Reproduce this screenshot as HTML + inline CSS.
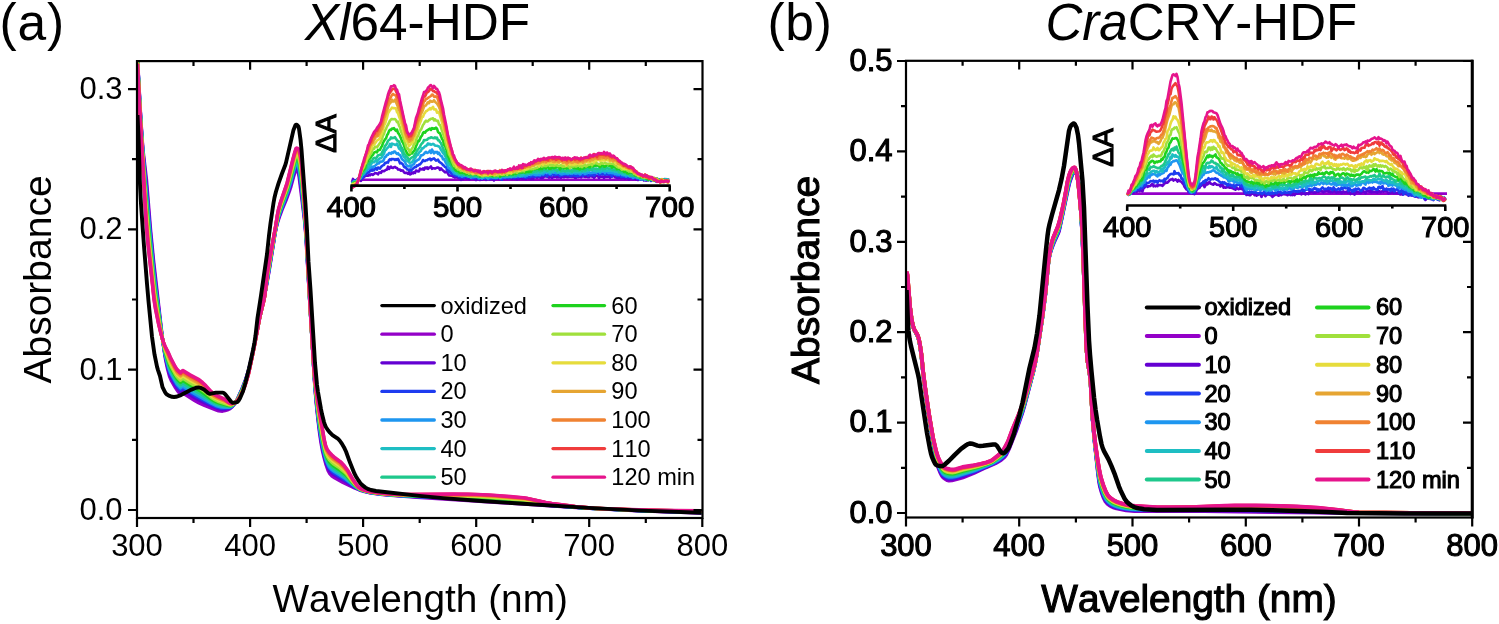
<!DOCTYPE html><html><head><meta charset="utf-8"><style>html,body{margin:0;padding:0;background:#fff;width:1499px;height:624px;overflow:hidden}svg{display:block;will-change:transform}text{font-family:"Liberation Sans", sans-serif;fill:#000;font-kerning:none}.bb{stroke:#000;stroke-width:1.1px}</style></head><body>
<svg width="1499" height="624" viewBox="0 0 1499 624">
<rect width="1499" height="624" fill="#fff"/>
<defs><clipPath id="ca"><rect x="137.0" y="61.1" width="565.5" height="456.9"/></clipPath>
<clipPath id="cb"><rect x="906.0" y="60.8" width="566.0" height="456.7"/></clipPath></defs>
<g clip-path="url(#ca)" fill="none" stroke-width="3.4" stroke-linejoin="round">
<path d="M137.5 58.0L140.5 113.4L142.0 137.2L143.0 150.0L146.5 180.0L150.5 229.1L153.5 259.8L162.5 339.0L165.5 359.4L167.5 368.9L169.5 376.4L171.5 381.0L175.5 387.9L178.0 391.5L180.5 394.5L182.5 393.1L183.0 393.0L195.0 400.8L199.0 403.0L204.5 405.5L216.5 410.1L218.5 410.8L220.5 411.1L222.5 411.2L225.0 410.7L227.5 409.9L230.0 408.8L232.0 407.0L234.0 404.6L235.5 402.5L237.0 399.9L242.0 388.7L245.5 379.7L248.5 370.3L251.5 358.2L259.5 318.4L264.0 298.0L266.5 285.7L269.5 268.6L275.0 234.0L276.5 226.5L278.0 221.1L280.0 215.3L282.0 209.9L286.0 200.4L289.5 190.9L291.0 186.4L293.5 177.1L295.5 170.6L296.0 169.2L296.5 168.7L297.0 169.1L297.5 170.2L298.5 173.5L299.0 176.1L304.5 220.4L305.5 230.8L314.5 381.5L316.0 401.0L318.0 420.3L319.5 432.6L321.0 443.0L322.5 451.1L324.0 457.4L326.0 464.8L328.0 470.4L329.5 473.3L332.0 476.0L335.0 478.1L343.0 482.5L354.5 487.9L359.5 490.0L364.5 491.5L370.5 492.8L376.5 493.7L384.5 494.7L417.0 497.3L580.0 507.8L638.0 510.8L701.5 513.0" stroke="#9400c8"/>
<path d="M137.5 58.8L140.0 106.3L141.5 131.2L143.0 152.3L146.5 186.2L150.0 228.5L153.5 264.5L155.5 282.3L161.5 331.6L163.5 346.0L165.0 355.1L167.0 364.5L169.0 372.1L170.0 375.0L171.0 377.2L175.0 384.4L177.5 388.2L180.5 391.6L182.5 390.2L183.0 390.1L194.0 397.2L198.5 399.7L205.0 403.0L215.0 407.5L218.0 408.7L220.5 409.3L223.0 409.5L225.5 409.2L229.0 408.4L230.5 407.7L232.5 406.1L234.5 403.8L236.0 401.7L237.5 399.1L242.5 388.1L245.5 380.3L248.5 370.8L251.5 358.5L259.5 318.4L265.0 293.3L269.5 267.4L275.0 233.4L277.0 223.6L278.5 218.2L280.0 213.7L282.0 208.3L286.0 198.5L288.5 191.6L291.0 183.8L293.5 174.5L295.5 167.8L296.0 166.5L296.5 166.0L297.0 166.4L297.5 167.3L298.5 170.3L299.5 175.9L301.5 191.4L305.0 222.9L306.5 244.0L309.0 289.3L314.5 380.6L316.0 399.4L318.0 418.0L319.5 430.0L321.0 440.0L322.5 448.3L324.5 457.0L326.0 462.4L328.0 467.8L329.5 470.6L332.0 473.3L335.0 475.4L347.0 482.4L353.0 486.2L357.0 488.5L359.5 489.7L364.0 491.2L369.5 492.5L375.0 493.4L383.0 494.4L394.0 495.3L409.5 496.4L464.5 499.4L504.5 502.0L526.0 503.5L561.5 506.4L590.5 508.4L642.5 510.8L701.5 512.7" stroke="#6400d2"/>
<path d="M137.5 59.3L141.0 124.1L142.5 147.3L143.5 159.8L147.0 196.1L150.5 237.5L153.5 267.7L155.0 281.0L160.0 320.7L162.5 339.0L164.5 351.5L166.0 358.9L168.5 368.5L170.0 373.1L172.5 378.1L176.5 384.9L178.5 387.5L180.5 389.6L182.5 388.2L183.0 388.0L195.5 395.9L209.0 403.2L216.5 406.9L219.0 407.7L221.0 408.2L223.5 408.3L226.5 408.1L229.0 407.8L230.5 407.3L232.5 405.8L234.5 403.7L236.5 401.0L238.0 398.3L242.5 388.5L246.0 379.2L248.5 371.1L251.5 358.7L253.5 349.2L259.5 318.4L263.5 300.8L265.0 293.4L275.0 233.0L276.0 227.5L277.5 220.9L278.5 217.3L280.5 211.3L286.0 197.3L288.0 191.6L291.0 182.1L293.5 172.6L295.5 165.9L296.0 164.7L296.5 164.1L297.0 164.5L297.5 165.4L298.5 168.1L299.5 173.3L301.5 188.3L305.0 221.4L306.5 242.8L309.0 288.8L314.0 372.6L315.5 393.0L317.5 412.2L319.0 424.4L321.0 438.0L322.5 446.3L324.5 455.3L326.0 460.8L328.0 466.0L329.5 468.7L332.0 471.4L334.5 473.3L346.5 480.7L355.0 486.9L359.0 489.3L363.0 490.7L368.5 492.2L374.0 493.1L382.0 494.1L392.5 495.1L406.0 496.0L465.5 498.9L501.0 501.1L525.5 502.8L548.5 505.2L562.5 506.3L593.5 508.5L644.0 510.8L701.5 512.5" stroke="#1e3cf0"/>
<path d="M137.5 59.8L140.0 108.0L143.0 155.3L150.5 240.6L153.5 270.5L155.5 287.6L162.0 335.8L164.0 348.1L166.0 357.8L169.0 368.6L171.0 373.5L176.5 383.2L178.0 385.2L180.5 387.9L182.5 386.4L183.0 386.2L194.0 393.2L211.5 403.2L217.0 405.9L221.0 407.1L223.5 407.3L228.0 407.3L229.5 407.2L231.0 406.6L233.0 405.1L235.0 403.1L236.5 401.1L238.5 397.5L243.0 387.7L246.0 379.6L249.0 369.6L252.0 356.6L260.0 316.0L264.5 296.2L274.0 238.5L276.0 227.1L277.5 220.2L278.5 216.4L280.5 210.3L286.0 196.1L288.0 190.4L291.0 180.5L293.5 171.0L295.5 164.3L296.0 163.0L296.5 162.5L297.0 162.8L297.5 163.6L298.5 166.2L299.5 170.9L301.5 185.6L305.0 220.0L306.5 241.8L310.0 305.8L314.0 372.2L315.5 392.1L317.5 410.8L319.0 422.8L321.0 436.2L322.5 444.6L324.5 453.8L326.0 459.3L328.0 464.4L329.5 467.1L332.0 469.7L334.5 471.6L340.0 475.0L345.5 478.7L355.0 486.4L359.0 489.1L363.0 490.6L368.0 491.9L373.5 493.0L381.0 493.9L391.0 494.9L402.5 495.7L465.5 498.4L500.0 500.5L525.5 502.3L548.5 504.9L562.5 506.2L594.5 508.5L645.5 510.7L701.5 512.3" stroke="#1e96f0"/>
<path d="M137.5 60.3L140.5 117.5L143.5 163.2L150.5 243.7L154.0 278.1L155.5 290.1L162.0 336.0L164.0 347.6L166.0 356.6L169.0 366.9L171.0 371.8L175.0 379.1L176.5 381.5L178.0 383.5L180.5 386.1L182.5 384.6L183.0 384.4L192.5 390.4L202.0 395.9L213.0 402.8L217.5 404.9L221.0 406.0L228.0 406.7L229.5 406.7L231.0 406.2L233.0 404.9L235.0 403.0L236.5 401.1L238.5 397.7L243.0 388.0L246.0 379.9L249.0 369.8L252.0 356.8L260.0 316.0L264.5 296.4L267.0 280.0L273.5 241.0L276.0 226.7L278.0 217.4L281.0 208.0L287.5 190.7L291.0 179.0L295.0 164.2L296.0 161.3L296.5 160.8L297.0 161.1L297.5 161.9L298.5 164.2L299.0 166.0L300.0 171.9L301.5 182.9L305.0 218.6L306.5 240.8L309.5 296.8L313.5 364.1L315.0 385.5L317.0 405.3L318.5 417.5L320.5 431.4L322.5 442.8L324.5 452.3L326.0 457.9L328.0 462.8L329.5 465.4L332.0 468.0L334.5 470.0L340.0 473.4L345.5 477.4L347.5 479.0L352.0 483.4L355.0 486.0L357.0 487.6L359.0 488.9L363.0 490.5L368.0 491.9L373.0 492.8L380.5 493.8L389.5 494.7L399.5 495.4L466.0 497.9L499.5 499.9L525.5 501.8L548.5 504.7L562.5 506.1L579.5 507.5L595.5 508.5L647.0 510.7L701.5 512.1" stroke="#1ebec3"/>
<path d="M137.5 60.7L140.5 118.2L143.5 164.7L146.0 195.8L150.0 241.1L153.5 275.9L155.0 288.6L161.5 333.1L163.5 344.6L165.5 353.8L169.0 365.4L171.0 370.3L175.0 377.7L176.5 380.1L178.0 382.1L180.5 384.6L182.5 383.0L183.0 382.9L192.0 388.5L201.5 394.0L213.0 401.7L217.5 403.9L221.5 405.1L229.0 406.2L230.5 406.1L231.5 405.7L233.5 404.3L236.0 401.8L237.5 399.7L239.0 397.0L243.0 388.3L246.5 378.7L249.0 370.1L252.0 356.9L260.0 316.0L264.5 296.5L267.5 276.3L273.5 240.6L276.0 226.4L278.0 216.7L280.5 208.6L287.5 189.6L291.0 177.6L295.0 162.8L296.0 159.9L296.5 159.4L297.0 159.6L297.5 160.3L298.5 162.5L299.0 164.1L300.5 173.0L301.5 180.5L305.0 217.4L306.5 239.9L309.5 296.5L313.5 363.9L315.0 384.9L316.5 399.9L318.5 416.2L320.0 426.7L322.5 441.3L324.5 451.0L326.0 456.6L328.0 461.4L329.5 463.9L332.0 466.6L334.5 468.6L340.5 472.4L345.0 475.8L347.5 478.0L352.0 482.8L355.0 485.6L357.0 487.3L359.0 488.8L362.5 490.2L367.5 491.7L372.5 492.6L379.5 493.6L389.0 494.6L399.0 495.2L465.5 497.5L499.0 499.4L525.5 501.4L548.5 504.5L562.5 505.9L580.0 507.5L596.0 508.5L648.0 510.7L701.5 512.0" stroke="#1ec88c"/>
<path d="M137.5 61.3L139.5 101.4L141.5 136.1L143.0 159.7L145.5 194.0L150.0 245.1L153.5 279.5L155.0 291.8L161.0 330.7L163.5 344.2L165.5 352.6L169.5 364.8L171.5 369.2L176.5 378.0L178.0 379.9L180.5 382.4L182.5 380.7L183.0 380.6L191.5 385.9L201.0 391.4L205.5 394.6L211.0 398.8L214.0 400.7L217.0 402.2L219.5 403.2L228.0 405.4L229.5 405.6L231.0 405.5L232.5 404.8L234.0 403.7L235.5 402.4L237.0 400.6L239.5 396.3L243.5 387.6L247.0 377.5L249.5 368.4L252.5 354.8L260.0 316.0L263.5 301.6L264.5 296.7L267.0 278.6L268.5 269.3L276.0 225.9L278.0 215.8L280.5 207.4L287.5 188.1L295.0 160.7L296.0 157.8L296.5 157.3L297.0 157.5L297.5 158.1L298.5 160.0L299.0 161.4L300.0 166.5L301.5 177.1L304.0 203.9L306.0 230.1L310.5 313.9L314.5 377.9L316.0 394.1L318.0 410.6L320.0 424.6L322.5 439.1L324.5 449.1L326.0 454.8L327.5 458.4L329.5 461.9L331.5 464.0L334.0 466.1L340.5 470.5L345.5 474.6L348.0 477.1L352.5 482.4L357.0 487.0L359.0 488.5L360.5 489.3L364.0 490.6L368.0 491.7L379.0 493.4L392.0 494.7L410.5 495.5L466.0 496.9L496.0 498.5L525.0 500.7L549.0 504.3L564.5 505.9L582.0 507.5L597.5 508.6L649.5 510.6L701.5 511.7" stroke="#1ed21e"/>
<path d="M137.5 61.9L141.0 128.9L143.0 161.5L146.0 205.0L149.5 244.0L154.5 291.5L156.0 301.7L160.5 328.8L163.0 341.6L165.0 349.7L169.5 362.6L171.5 367.0L175.0 373.5L176.5 375.9L178.0 377.8L180.5 380.2L182.5 378.5L183.0 378.4L190.0 382.7L201.0 389.1L205.5 392.5L211.5 397.5L214.0 399.2L219.0 401.6L229.0 404.9L230.5 405.1L231.5 404.9L233.0 404.2L234.5 403.2L237.0 400.7L239.5 396.6L243.5 388.1L246.5 379.6L249.0 370.8L252.5 354.9L260.0 316.0L263.5 301.8L264.5 296.9L267.0 277.8L268.5 268.3L273.5 239.4L278.0 214.8L280.5 206.2L287.0 188.2L289.0 181.2L295.0 158.5L296.0 155.7L296.5 155.2L297.0 155.4L297.5 155.9L298.5 157.6L299.0 158.8L300.0 163.4L301.5 173.6L304.5 207.6L306.0 228.7L310.5 313.6L313.0 355.4L314.5 377.3L316.0 392.9L318.0 408.9L320.0 422.4L323.0 439.6L324.5 447.2L326.0 453.0L327.5 456.5L329.5 459.8L331.5 461.9L334.0 464.1L340.0 468.1L345.0 472.4L347.5 475.1L352.5 481.6L356.0 485.6L358.0 487.5L359.5 488.6L362.0 489.7L365.5 490.9L369.0 491.7L380.5 493.5L392.0 494.6L409.0 495.2L466.0 496.2L480.5 496.8L496.0 497.8L524.0 500.0L530.5 500.8L545.5 503.5L552.0 504.4L577.5 507.1L598.0 508.6L650.5 510.5L701.5 511.5" stroke="#a0e03c"/>
<path d="M137.5 62.6L140.5 121.5L146.0 210.0L149.0 243.6L154.5 295.3L156.0 304.9L160.0 327.3L162.5 339.2L164.5 346.9L165.5 350.0L169.5 360.3L171.5 364.6L175.0 371.2L176.5 373.6L178.0 375.5L180.5 377.8L182.5 376.0L183.0 375.9L190.0 380.2L197.0 384.1L201.0 386.6L205.5 390.2L211.5 395.7L214.0 397.6L218.0 399.6L224.5 402.0L229.5 404.3L231.0 404.5L232.0 404.3L233.5 403.7L235.5 402.3L237.5 400.2L240.0 396.0L243.5 388.6L247.0 378.4L249.0 371.2L252.5 355.2L260.0 316.0L263.5 302.0L264.5 297.1L267.0 276.9L268.0 270.3L278.0 213.7L280.5 204.9L287.0 186.6L295.0 156.2L296.0 153.4L296.5 153.0L297.5 153.5L298.5 154.9L299.5 157.5L300.5 162.8L301.5 169.9L304.5 205.4L306.0 227.2L310.5 313.3L313.0 355.2L314.5 376.6L316.0 391.5L318.0 406.9L320.0 420.1L323.5 440.1L325.0 447.4L326.0 451.0L327.5 454.3L329.0 456.8L330.5 458.6L333.5 461.4L340.0 466.0L345.0 470.6L347.5 473.4L352.5 480.7L356.0 485.0L358.0 487.2L359.5 488.4L362.0 489.5L365.0 490.6L368.5 491.5L380.0 493.3L391.5 494.4L407.0 494.9L463.5 495.5L484.5 496.3L503.0 497.5L524.0 499.3L530.5 500.2L545.0 503.0L551.5 504.1L574.0 506.6L592.0 508.2L608.5 509.0L645.0 510.2L674.0 510.9L701.5 511.3" stroke="#e6dc3c"/>
<path d="M137.5 63.0L140.5 122.4L146.0 213.6L148.0 237.1L154.0 294.3L155.5 304.4L159.0 323.4L161.5 335.1L164.0 344.7L165.5 349.0L170.0 359.8L171.5 362.9L175.0 369.5L176.5 372.0L178.0 373.8L180.0 375.6L180.5 376.0L182.5 374.2L183.0 374.1L183.5 374.4L190.0 378.4L197.5 382.5L201.0 384.7L205.5 388.6L211.5 394.4L214.0 396.4L218.0 398.5L224.5 401.1L229.5 403.8L231.0 404.1L232.0 404.1L233.5 403.5L235.5 402.3L236.5 401.5L237.5 400.4L240.0 396.3L242.5 391.3L244.5 386.3L246.5 380.4L248.5 373.5L250.5 364.8L254.0 347.9L260.0 316.0L264.0 299.9L265.0 294.0L267.0 276.3L268.0 269.5L278.0 213.0L280.5 203.9L286.0 188.4L287.5 183.7L293.0 161.8L295.5 152.9L296.0 151.8L296.5 151.3L297.0 151.4L298.5 152.9L299.0 153.7L299.5 155.2L301.0 163.4L301.5 167.1L304.0 197.4L305.5 218.1L306.5 234.9L308.5 276.0L311.0 321.9L313.0 355.1L314.5 376.0L316.0 390.5L318.0 405.5L320.0 418.4L323.5 438.4L325.0 445.9L326.0 449.5L327.5 452.8L329.0 455.2L330.5 456.9L333.5 459.7L340.0 464.4L344.5 468.7L347.5 472.2L352.5 480.0L356.5 485.3L358.5 487.4L360.0 488.5L362.5 489.6L368.0 491.3L377.0 492.8L387.5 494.0L400.0 494.7L467.0 495.1L481.0 495.6L496.5 496.5L524.5 498.8L531.0 499.8L545.0 502.7L551.5 503.9L574.5 506.6L592.5 508.2L609.0 509.0L645.5 510.2L674.5 510.8L701.5 511.1" stroke="#e6a532"/>
<path d="M137.5 63.4L140.5 123.0L146.0 216.4L148.0 239.9L154.0 296.5L155.5 306.3L159.0 324.4L161.5 335.4L164.0 344.3L165.5 348.2L168.0 353.6L170.0 358.5L175.0 368.3L177.5 372.0L180.0 374.3L180.5 374.7L182.5 372.9L183.0 372.7L190.0 377.0L197.5 381.1L200.5 383.0L202.5 384.6L206.0 387.8L211.0 393.0L213.5 395.1L217.0 397.1L224.5 400.4L228.5 402.9L230.0 403.6L231.5 403.9L232.5 403.7L234.0 403.2L236.0 402.0L237.0 401.1L238.0 399.8L240.5 395.5L243.0 390.4L245.0 385.2L247.5 377.3L249.0 371.7L254.5 345.5L260.0 316.0L264.0 300.0L265.0 294.1L267.0 275.8L268.0 269.0L275.5 227.2L277.5 215.0L278.5 210.2L280.5 203.2L286.0 187.6L287.5 182.8L293.0 160.6L295.0 153.3L296.0 150.5L296.5 150.1L297.0 150.2L298.5 151.5L299.0 152.2L299.5 153.4L301.0 161.4L301.5 165.1L304.0 196.0L306.5 234.1L308.5 275.6L311.0 321.8L313.0 354.9L314.5 375.6L316.0 389.8L318.0 404.5L323.5 437.2L325.0 444.8L326.0 448.4L327.0 450.7L328.5 453.2L330.5 455.7L333.5 458.5L340.0 463.2L344.5 467.6L347.5 471.4L352.5 479.5L356.5 485.0L358.5 487.3L360.0 488.4L362.5 489.5L365.0 490.4L368.0 491.2L377.5 492.8L387.5 493.9L394.0 494.4L400.0 494.6L467.0 494.7L481.0 495.1L496.5 496.1L524.5 498.4L531.0 499.5L545.0 502.5L551.5 503.7L574.5 506.5L593.0 508.2L610.0 509.0L646.5 510.1L675.0 510.7L701.5 510.9" stroke="#f08232"/>
<path d="M137.5 63.8L140.0 114.6L146.0 219.1L148.0 242.8L154.0 298.6L155.5 308.2L158.5 323.1L161.0 333.8L163.5 342.5L165.0 346.4L168.0 352.5L170.5 358.3L175.0 367.0L177.0 370.2L179.5 372.6L180.5 373.4L182.5 371.5L183.0 371.4L190.0 375.7L198.0 379.9L200.5 381.6L202.5 383.3L206.0 386.6L211.0 392.0L213.5 394.2L217.0 396.2L224.5 399.7L228.5 402.5L230.0 403.3L231.5 403.6L233.0 403.4L234.5 402.8L236.5 401.6L238.5 399.2L240.5 395.8L242.5 391.8L244.5 386.9L246.5 380.9L248.5 374.0L254.0 348.2L260.0 316.0L264.0 300.2L265.0 294.1L267.0 275.3L268.0 268.4L275.5 226.9L277.5 214.5L278.5 209.6L280.5 202.5L287.0 183.6L293.0 159.4L295.0 152.0L296.0 149.3L296.5 148.8L297.0 148.9L298.5 150.0L299.0 150.6L299.5 151.7L301.0 159.3L301.5 163.0L304.0 194.7L306.5 233.4L308.5 275.3L311.0 321.6L313.0 354.8L314.5 375.3L316.0 389.0L318.0 403.4L324.0 438.8L325.0 443.7L326.0 447.3L327.0 449.5L328.5 452.0L330.0 453.9L332.0 455.9L335.0 458.5L340.0 462.0L344.5 466.6L347.5 470.5L352.5 479.0L356.5 484.8L358.5 487.1L360.0 488.2L362.5 489.4L365.0 490.3L368.0 491.2L377.5 492.7L387.5 493.9L393.5 494.3L399.5 494.5L467.0 494.3L481.0 494.7L496.5 495.6L524.0 498.0L530.5 499.1L545.0 502.3L551.5 503.5L575.0 506.5L593.5 508.2L611.0 509.0L647.0 510.1L675.0 510.6L701.5 510.8" stroke="#f03c3c"/>
<path d="M137.5 64.0L140.0 115.0L146.0 220.9L148.0 244.6L152.5 285.0L154.0 300.0L155.5 309.4L158.5 323.9L161.0 334.1L163.5 342.3L165.0 346.0L168.0 351.7L170.5 357.4L175.0 366.2L177.0 369.3L179.5 371.8L180.5 372.5L182.5 370.6L183.0 370.5L190.0 374.8L198.0 379.0L200.5 380.7L202.5 382.4L206.0 385.8L211.0 391.3L213.5 393.6L216.5 395.4L224.0 398.9L228.5 402.2L230.5 403.3L231.5 403.5L233.0 403.3L234.5 402.8L236.5 401.7L238.5 399.3L240.5 395.9L242.5 392.0L244.5 387.1L246.5 381.1L248.5 374.1L254.5 345.7L260.0 316.0L264.0 300.2L265.0 294.2L267.0 275.0L268.0 268.0L275.5 226.7L277.5 214.1L278.5 209.2L280.5 202.0L287.0 183.0L293.0 158.5L295.0 151.2L296.0 148.4L296.5 148.0L297.0 148.1L298.0 148.6L299.0 149.5L299.5 150.5L300.0 152.4L301.5 161.7L302.0 167.7L304.5 200.7L306.0 223.8L310.5 312.7L313.0 354.7L314.5 375.0L316.0 388.5L318.0 402.7L324.0 438.0L325.0 443.0L326.0 446.6L327.0 448.8L328.5 451.2L330.0 453.0L332.0 455.0L335.0 457.7L340.0 461.3L342.0 463.1L344.5 465.9L347.5 469.9L352.0 477.9L355.5 483.2L357.5 485.9L359.0 487.5L360.5 488.4L363.5 489.8L366.0 490.6L369.0 491.3L381.0 493.1L392.0 494.1L401.0 494.4L453.0 494.0L469.5 494.1L489.5 494.9L513.0 496.7L523.0 497.6L527.5 498.3L546.0 502.4L552.0 503.5L575.5 506.5L594.0 508.2L612.5 509.0L647.5 510.0L675.5 510.5L701.5 510.7" stroke="#e6148c"/>
</g>
<g clip-path="url(#ca)"><path d="M137.5 115.0L138.5 135.9L140.0 184.8L141.0 203.8L144.0 246.1L147.0 283.8L148.5 301.1L152.0 336.8L154.5 354.4L157.0 366.6L158.0 370.1L160.0 376.0L162.5 387.2L165.0 392.2L166.0 393.6L167.0 394.6L169.5 395.9L172.0 396.8L174.0 397.0L176.0 396.8L181.0 395.1L191.5 389.6L196.0 387.8L198.5 387.4L200.5 387.8L204.0 389.6L208.0 393.0L209.5 393.7L211.0 393.7L216.0 392.6L222.5 392.6L223.5 392.8L225.0 394.0L231.0 401.5L232.5 402.7L235.0 402.6L237.0 402.2L237.5 401.9L238.5 400.8L240.0 398.2L243.0 391.2L245.5 382.5L249.0 368.4L253.0 350.2L254.5 342.4L255.5 335.6L257.5 318.0L261.0 295.6L267.0 254.1L269.0 235.4L270.5 223.3L273.5 203.0L274.5 197.5L276.0 191.5L278.5 183.4L282.0 173.5L285.0 165.8L286.0 162.6L293.5 129.9L295.5 125.1L296.0 124.6L296.5 124.6L297.5 125.3L298.5 126.7L299.0 128.8L300.5 139.7L301.5 149.6L305.5 204.1L307.0 229.9L308.5 261.7L310.5 290.0L315.0 363.0L317.0 385.0L318.0 392.0L321.0 409.2L322.0 414.1L324.0 422.0L325.0 425.0L326.0 427.2L328.0 430.3L330.0 432.7L332.5 435.1L337.0 438.1L338.5 439.3L340.0 441.0L342.0 443.9L344.5 448.3L346.0 451.5L350.0 462.6L354.5 473.7L356.0 476.5L358.5 480.5L360.5 483.3L362.0 484.9L365.5 487.6L368.5 489.2L371.0 490.0L376.0 491.0L419.5 495.9L443.0 498.1L481.5 501.0L588.5 507.9L641.5 510.6L701.5 512.7" fill="none" stroke="#000" stroke-width="3.9" stroke-linejoin="round"/></g>
<rect x="137.0" y="61.1" width="565.5" height="456.9" fill="none" stroke="#000" stroke-width="2.2"/>
<path d="M137.0 518.0V527.0M250.1 518.0V527.0M250.1 61.1V69.7M363.1 518.0V527.0M363.1 61.1V69.7M476.2 518.0V527.0M476.2 61.1V69.7M589.2 518.0V527.0M589.2 61.1V69.7M702.3 518.0V527.0M193.5 518.0V523.0M193.5 61.1V66.1M306.6 518.0V523.0M306.6 61.1V66.1M419.7 518.0V523.0M419.7 61.1V66.1M532.7 518.0V523.0M532.7 61.1V66.1M645.8 518.0V523.0M645.8 61.1V66.1M137.0 510.0H128.0M702.5 510.0H693.5M137.0 369.7H128.0M702.5 369.7H693.5M137.0 229.4H128.0M702.5 229.4H693.5M137.0 89.1H128.0M702.5 89.1H693.5M137.0 439.9H132.0M702.5 439.9H697.5M137.0 299.5H132.0M702.5 299.5H697.5M137.0 159.2H132.0M702.5 159.2H697.5" stroke="#000" stroke-width="2.2" fill="none"/>
<text x="137.0" y="556.0" font-size="31.0" text-anchor="middle" >300</text>
<text x="250.1" y="556.0" font-size="31.0" text-anchor="middle" >400</text>
<text x="363.1" y="556.0" font-size="31.0" text-anchor="middle" >500</text>
<text x="476.2" y="556.0" font-size="31.0" text-anchor="middle" >600</text>
<text x="589.2" y="556.0" font-size="31.0" text-anchor="middle" >700</text>
<text x="702.3" y="556.0" font-size="31.0" text-anchor="middle" >800</text>
<text x="122.5" y="519.8" font-size="31.0" text-anchor="end" >0.0</text>
<text x="122.5" y="379.5" font-size="31.0" text-anchor="end" >0.1</text>
<text x="122.5" y="239.2" font-size="31.0" text-anchor="end" >0.2</text>
<text x="122.5" y="98.9" font-size="31.0" text-anchor="end" >0.3</text>
<text x="-0.5" y="39.9" font-size="51.5" text-anchor="start" letter-spacing="0.8">(a)</text>
<text x="417.5" y="40" font-size="51.3" text-anchor="middle"><tspan font-style="italic">Xl</tspan>64-HDF</text>
<text transform="translate(50.6 279.5) rotate(-90)" font-size="39" text-anchor="middle">Absorbance</text>
<text x="420.2" y="612.3" font-size="38.8" text-anchor="middle" >Wavelength (nm)</text>
<g fill="none" stroke-width="2.6" stroke-linejoin="round">
<path d="M362.0 179.8 L669.5 179.8" stroke="#9400c8"/>
<path d="M352.0 182.1L353.0 178.9L354.0 180.9L355.0 180.2L357.0 180.2L358.0 178.5L359.0 179.4L360.0 178.4L361.0 180.8L362.0 178.2L363.0 177.4L364.0 177.0L366.0 175.5L368.0 175.8L369.0 174.9L370.0 175.4L371.0 174.3L372.0 174.2L373.0 174.9L375.0 173.1L376.0 173.2L377.0 173.5L378.0 174.4L379.0 172.6L380.0 172.4L381.0 172.9L382.0 171.1L383.0 171.0L384.0 171.2L386.0 169.7L387.0 169.6L388.0 166.7L389.0 169.0L390.0 167.3L391.0 166.6L392.0 167.8L393.0 168.0L394.0 167.2L395.0 166.9L396.0 167.8L397.0 168.0L398.0 169.4L400.0 169.6L401.0 170.8L402.0 170.4L403.0 170.6L404.0 172.3L405.0 172.9L407.0 172.8L408.0 173.8L409.0 172.2L410.0 174.4L411.0 174.1L412.0 172.4L413.0 173.3L414.0 172.2L415.0 172.9L416.0 170.5L417.0 170.8L418.0 171.5L419.0 171.4L420.0 168.6L421.0 169.3L422.0 169.5L423.0 168.5L424.0 169.7L425.0 167.5L426.0 168.4L427.0 167.3L428.0 168.9L429.0 167.8L430.0 167.4L431.0 166.4L432.0 168.8L433.0 168.2L434.0 168.2L435.0 168.6L437.0 167.6L438.0 167.6L439.0 167.9L440.0 169.9L441.0 168.4L442.0 169.6L445.0 172.3L446.0 171.7L447.0 172.1L449.0 175.4L452.0 175.8L453.0 176.6L454.0 176.6L455.0 177.6L456.0 176.7L457.0 177.5L458.0 177.6L459.0 178.2L460.0 178.0L461.0 179.8L462.0 179.1L463.0 179.2L464.0 176.7L465.0 178.0L466.0 177.8L467.0 178.7L468.0 176.8L469.0 179.2L470.0 179.2L471.0 177.5L473.0 178.0L475.0 179.1L476.0 180.1L477.0 178.5L478.0 179.2L479.0 178.8L480.0 180.0L481.0 179.3L482.0 179.7L483.0 178.0L484.0 178.7L485.0 178.2L486.0 179.9L488.0 178.6L489.0 178.5L490.0 179.1L491.0 178.3L492.0 178.1L493.0 179.1L494.0 180.5L495.0 178.6L497.0 177.9L498.0 177.8L499.0 179.1L500.0 179.3L501.0 178.7L502.0 178.9L504.0 178.7L505.0 177.5L506.0 178.2L507.0 178.6L508.0 178.0L509.0 178.2L510.0 177.9L511.0 178.2L512.0 179.0L513.0 178.1L514.0 178.2L515.0 178.9L516.0 178.7L517.0 179.4L518.0 176.7L519.0 178.8L520.0 177.8L522.0 178.6L523.0 178.7L524.0 178.7L525.0 178.0L526.0 179.0L527.0 177.6L528.0 177.7L529.0 178.3L530.0 177.3L531.0 179.1L532.0 178.2L533.0 179.0L534.0 177.4L535.0 177.1L537.0 177.8L538.0 176.8L539.0 177.4L540.0 177.1L541.0 178.2L542.0 176.6L543.0 177.8L544.0 176.6L545.0 176.3L546.0 176.5L547.0 176.1L548.0 177.0L549.0 177.6L550.0 177.0L551.0 177.3L552.0 178.0L553.0 177.1L554.0 177.0L555.0 176.7L556.0 175.8L557.0 177.5L558.0 175.7L559.0 177.4L560.0 177.0L561.0 177.8L562.0 177.0L563.0 176.4L564.0 177.3L565.0 176.6L567.0 177.1L569.0 176.9L570.0 176.5L571.0 176.9L572.0 175.5L573.0 176.9L574.0 176.2L575.0 177.8L576.0 177.9L577.0 175.7L578.0 177.1L579.0 177.0L580.0 176.3L581.0 177.4L583.0 175.7L584.0 176.7L586.0 176.9L587.0 175.9L588.0 177.2L589.0 177.2L590.0 175.9L592.0 176.6L593.0 176.2L594.0 177.8L596.0 175.8L597.0 175.9L598.0 176.4L599.0 178.1L600.0 176.3L602.0 176.8L603.0 176.4L604.0 178.0L605.0 176.1L606.0 177.0L607.0 176.6L608.0 176.9L609.0 175.7L610.0 177.8L611.0 176.5L612.0 176.7L613.0 176.1L614.0 176.2L615.0 177.2L616.0 177.6L617.0 177.5L618.0 178.0L620.0 177.4L621.0 178.1L622.0 178.0L623.0 177.6L625.0 178.7L626.0 178.0L627.0 177.7L629.0 179.4L630.0 178.0L632.0 178.2L633.0 179.2L634.0 177.2L635.0 178.8L636.0 179.5L637.0 178.2L638.0 180.0L640.0 178.7L641.0 179.3L642.0 178.1L643.0 178.8L644.0 180.5L645.0 178.7L646.0 180.6L647.0 179.3L648.0 180.1L649.0 179.5L650.0 177.9L651.0 179.1L652.0 179.7L653.0 178.8L654.0 178.8L655.0 180.0L657.0 178.7L658.0 179.5L659.0 180.6L660.0 179.7L661.0 180.7L662.0 181.1L664.0 179.2L665.0 179.1L667.0 180.6L668.0 180.1L669.0 180.3" stroke="#6400d2"/>
<path d="M352.0 181.0L353.0 181.5L354.0 180.9L355.0 180.9L357.0 179.6L358.0 179.7L359.0 178.5L360.0 177.8L361.0 178.1L362.0 176.8L363.0 178.2L365.0 174.2L366.0 174.4L368.0 172.0L369.0 172.6L371.0 168.6L372.0 170.8L373.0 169.3L374.0 170.4L375.0 168.6L376.0 168.0L377.0 169.6L378.0 167.5L380.0 168.6L381.0 167.0L382.0 166.0L383.0 165.3L384.0 164.8L385.0 162.8L386.0 163.0L387.0 162.2L388.0 162.6L389.0 160.1L390.0 159.1L391.0 160.0L392.0 158.9L393.0 159.2L394.0 159.1L395.0 160.0L396.0 159.1L397.0 159.9L398.0 158.8L399.0 160.7L400.0 163.4L401.0 162.8L403.0 164.4L404.0 166.7L405.0 167.5L406.0 167.4L407.0 169.3L408.0 169.6L409.0 170.3L410.0 169.4L411.0 170.7L412.0 169.4L414.0 167.7L415.0 167.1L416.0 167.0L417.0 165.4L418.0 165.6L419.0 164.6L420.0 164.4L422.0 162.0L423.0 160.0L424.0 161.0L425.0 161.0L426.0 160.2L427.0 160.3L428.0 159.3L429.0 159.2L430.0 158.6L431.0 160.2L432.0 159.3L434.0 158.4L436.0 160.7L438.0 159.6L439.0 161.6L442.0 163.8L443.0 165.1L444.0 165.7L445.0 167.0L446.0 167.1L447.0 169.9L448.0 170.1L449.0 172.3L450.0 170.3L451.0 173.1L452.0 174.1L453.0 173.8L454.0 175.0L455.0 175.6L456.0 175.9L457.0 175.5L458.0 176.0L459.0 177.1L460.0 177.5L461.0 176.8L463.0 177.1L464.0 177.8L465.0 176.4L466.0 176.3L467.0 177.4L468.0 176.6L471.0 177.9L472.0 176.8L473.0 178.2L474.0 176.5L475.0 178.2L476.0 176.7L477.0 177.0L478.0 178.4L479.0 177.7L480.0 177.5L481.0 177.8L482.0 178.4L483.0 178.1L484.0 178.1L485.0 178.8L486.0 177.6L488.0 177.7L489.0 178.9L490.0 178.8L491.0 179.0L492.0 178.0L493.0 177.9L494.0 178.6L495.0 177.8L496.0 178.6L497.0 178.5L498.0 177.5L499.0 177.9L500.0 177.9L501.0 179.1L502.0 179.7L503.0 177.8L504.0 177.8L505.0 176.2L506.0 177.9L507.0 177.7L508.0 176.9L509.0 178.1L510.0 176.4L511.0 177.3L512.0 177.5L513.0 176.5L514.0 177.9L515.0 178.0L516.0 176.2L517.0 176.2L518.0 177.5L519.0 177.0L520.0 176.1L521.0 176.7L523.0 176.6L524.0 177.2L525.0 176.9L526.0 177.7L528.0 176.8L530.0 177.1L531.0 176.5L532.0 175.1L533.0 176.5L534.0 175.8L535.0 176.8L536.0 175.6L537.0 175.9L538.0 175.7L539.0 176.5L540.0 175.4L541.0 175.1L542.0 175.4L543.0 174.8L544.0 175.2L545.0 175.1L546.0 175.2L547.0 176.3L548.0 174.7L549.0 174.9L550.0 174.8L551.0 175.4L552.0 174.0L555.0 175.3L558.0 174.3L559.0 175.3L560.0 176.0L561.0 175.3L562.0 175.2L563.0 175.4L564.0 174.4L565.0 174.9L566.0 174.9L567.0 175.3L568.0 175.1L569.0 174.3L570.0 175.9L571.0 176.3L572.0 175.0L573.0 175.4L574.0 175.3L575.0 175.7L576.0 174.1L577.0 176.3L578.0 174.8L579.0 176.0L580.0 175.2L581.0 174.8L582.0 175.0L583.0 175.6L584.0 174.3L585.0 174.6L586.0 174.5L587.0 173.5L588.0 175.6L590.0 174.5L591.0 175.3L592.0 173.8L593.0 174.3L594.0 175.6L595.0 175.0L596.0 172.7L597.0 171.9L599.0 174.9L600.0 173.8L601.0 173.9L602.0 174.5L603.0 173.5L604.0 174.2L605.0 174.7L607.0 174.4L608.0 173.8L609.0 174.6L610.0 174.0L612.0 176.3L613.0 174.0L614.0 173.1L615.0 174.4L617.0 175.8L618.0 176.0L619.0 175.0L620.0 175.2L621.0 176.8L622.0 175.3L623.0 177.0L624.0 176.2L625.0 177.0L628.0 177.3L629.0 176.2L630.0 177.2L631.0 177.1L632.0 177.5L633.0 178.2L634.0 177.4L635.0 177.2L636.0 177.4L637.0 177.9L638.0 178.8L639.0 177.9L640.0 179.4L642.0 178.6L643.0 177.9L644.0 179.0L645.0 179.4L646.0 177.8L647.0 179.9L648.0 180.3L649.0 179.4L650.0 179.6L651.0 181.0L652.0 180.3L653.0 178.9L654.0 179.6L656.0 179.8L657.0 178.3L658.0 180.6L659.0 179.7L660.0 180.3L661.0 180.1L662.0 180.8L663.0 179.9L664.0 179.6L665.0 180.5L666.0 181.1L667.0 179.9L668.0 181.0L669.0 180.2" stroke="#1e3cf0"/>
<path d="M352.0 181.4L353.0 182.9L354.0 181.1L355.0 182.3L356.0 181.1L357.0 181.3L358.0 179.3L359.0 178.6L360.0 178.8L361.0 177.0L363.0 174.5L364.0 174.1L365.0 171.7L366.0 170.9L367.0 170.6L368.0 169.2L369.0 168.5L370.0 168.1L372.0 166.6L373.0 167.3L374.0 166.3L375.0 166.0L376.0 164.8L377.0 164.1L378.0 163.1L379.0 163.4L380.0 161.6L381.0 161.8L382.0 161.6L383.0 161.0L384.0 159.3L385.0 156.8L386.0 156.7L387.0 154.7L388.0 154.7L389.0 153.1L390.0 153.1L391.0 153.8L392.0 152.3L393.0 153.0L394.0 151.5L395.0 151.5L396.0 153.1L397.0 153.9L398.0 153.2L399.0 154.7L400.0 154.9L402.0 159.2L403.0 159.9L405.0 161.9L406.0 164.3L407.0 165.5L408.0 166.1L409.0 166.4L410.0 165.3L411.0 167.0L412.0 165.2L413.0 164.5L414.0 164.3L415.0 161.2L416.0 161.5L417.0 160.3L418.0 159.7L419.0 159.4L420.0 157.8L421.0 155.2L422.0 155.3L423.0 154.8L424.0 154.0L425.0 152.5L426.0 151.8L427.0 153.0L428.0 152.6L429.0 152.0L430.0 150.6L431.0 153.0L432.0 149.6L434.0 153.3L435.0 151.9L436.0 152.5L437.0 151.8L438.0 154.0L439.0 152.7L440.0 154.8L441.0 156.0L442.0 156.5L443.0 159.2L444.0 159.0L446.0 163.2L447.0 164.6L448.0 166.7L449.0 168.3L450.0 168.6L451.0 169.6L453.0 171.7L454.0 173.4L455.0 173.2L456.0 174.2L458.0 174.2L459.0 175.7L460.0 174.7L462.0 176.8L463.0 175.1L464.0 176.0L465.0 175.0L466.0 175.9L467.0 175.3L468.0 176.2L469.0 176.2L470.0 176.7L471.0 177.8L472.0 177.0L473.0 177.3L474.0 176.9L475.0 176.9L476.0 176.6L477.0 176.0L479.0 178.5L481.0 177.1L482.0 178.6L483.0 177.2L484.0 177.1L485.0 176.6L486.0 176.8L487.0 177.3L488.0 178.9L489.0 177.3L490.0 176.7L492.0 177.3L493.0 176.2L494.0 177.5L495.0 177.9L496.0 177.6L497.0 177.8L498.0 176.4L499.0 176.1L500.0 178.2L501.0 178.0L502.0 176.1L503.0 177.3L504.0 177.1L505.0 177.4L506.0 177.1L507.0 176.5L508.0 177.0L509.0 176.9L510.0 176.7L511.0 175.3L512.0 174.5L513.0 175.9L514.0 175.3L515.0 176.5L516.0 176.8L518.0 175.8L519.0 176.1L520.0 176.7L521.0 175.3L522.0 176.4L524.0 175.7L525.0 176.4L526.0 174.8L527.0 175.9L528.0 174.4L529.0 174.4L530.0 174.1L531.0 175.0L532.0 173.9L533.0 174.5L534.0 173.5L535.0 174.9L536.0 175.3L537.0 174.1L538.0 175.0L539.0 174.1L540.0 175.2L542.0 172.4L543.0 174.5L544.0 173.3L545.0 172.6L546.0 172.8L547.0 172.1L548.0 173.1L549.0 172.4L550.0 174.2L551.0 173.6L552.0 171.9L553.0 172.0L554.0 172.7L555.0 171.8L556.0 173.1L557.0 173.1L558.0 172.7L559.0 172.8L561.0 174.3L562.0 174.4L563.0 173.4L564.0 174.0L565.0 172.9L566.0 173.7L567.0 172.8L568.0 174.0L569.0 172.6L570.0 172.8L571.0 173.4L572.0 173.8L573.0 172.4L575.0 173.5L576.0 173.6L577.0 172.9L578.0 173.5L579.0 173.3L580.0 174.4L581.0 173.8L582.0 172.4L583.0 171.7L584.0 173.2L585.0 173.9L586.0 173.1L587.0 173.5L588.0 172.4L589.0 171.7L590.0 173.1L591.0 172.6L592.0 173.0L593.0 171.5L594.0 172.5L595.0 171.9L596.0 172.8L597.0 171.8L599.0 171.7L600.0 172.9L601.0 172.0L602.0 171.5L604.0 171.3L605.0 173.1L606.0 170.8L607.0 171.5L608.0 172.6L609.0 173.1L610.0 172.2L611.0 173.0L613.0 173.3L614.0 172.8L615.0 174.1L616.0 173.2L617.0 174.4L618.0 172.9L619.0 174.6L620.0 173.4L621.0 173.5L622.0 175.1L623.0 174.3L624.0 175.4L625.0 174.5L626.0 176.5L627.0 175.6L628.0 174.9L629.0 176.0L630.0 176.6L631.0 175.6L633.0 178.0L634.0 177.4L636.0 176.9L637.0 178.0L638.0 176.7L639.0 175.8L640.0 177.7L641.0 177.5L642.0 179.6L643.0 178.6L644.0 177.9L645.0 177.9L646.0 179.1L647.0 178.3L649.0 179.0L652.0 179.4L653.0 180.4L654.0 180.8L655.0 178.6L656.0 181.7L657.0 180.2L658.0 181.1L659.0 179.8L660.0 180.5L662.0 180.4L663.0 180.9L664.0 180.8L665.0 179.6L667.0 180.8L668.0 180.7L669.0 179.9" stroke="#1e96f0"/>
<path d="M352.0 182.2L353.0 182.3L354.0 181.5L355.0 181.2L356.0 183.0L357.0 181.1L358.0 180.4L359.0 178.5L360.0 178.5L361.0 177.3L362.0 174.6L363.0 173.9L364.0 171.7L365.0 172.1L366.0 170.2L367.0 167.7L368.0 168.1L369.0 166.4L371.0 164.4L372.0 162.8L373.0 162.1L374.0 162.3L376.0 160.2L377.0 161.9L378.0 159.8L380.0 158.2L381.0 158.1L382.0 156.9L383.0 154.8L384.0 153.6L385.0 150.5L386.0 149.9L387.0 148.4L389.0 146.5L390.0 143.9L391.0 146.9L392.0 143.6L395.0 144.8L396.0 145.0L397.0 143.5L399.0 148.5L400.0 149.0L401.0 150.6L402.0 151.3L403.0 155.5L404.0 156.9L405.0 157.7L406.0 159.8L407.0 160.9L408.0 161.2L409.0 162.4L410.0 162.7L412.0 162.3L414.0 159.2L415.0 158.4L417.0 154.4L418.0 154.8L419.0 152.5L421.0 150.7L422.0 148.3L423.0 148.4L425.0 146.3L426.0 146.1L428.0 143.5L429.0 144.5L430.0 143.8L431.0 144.8L433.0 143.9L434.0 144.4L435.0 145.6L436.0 145.8L437.0 145.7L439.0 146.5L440.0 147.8L441.0 149.9L442.0 151.2L443.0 153.2L444.0 153.9L445.0 155.6L446.0 157.6L448.0 163.7L449.0 165.3L450.0 165.2L451.0 166.3L452.0 169.3L453.0 170.3L454.0 170.0L455.0 172.4L456.0 172.5L457.0 173.9L458.0 173.7L459.0 174.5L460.0 174.5L461.0 173.8L462.0 174.5L463.0 174.4L464.0 175.6L465.0 174.5L466.0 174.3L467.0 175.9L469.0 176.7L470.0 176.5L471.0 174.8L472.0 175.5L473.0 175.7L474.0 176.2L475.0 174.8L476.0 176.4L477.0 176.7L478.0 176.0L480.0 177.6L481.0 176.9L482.0 177.6L483.0 177.6L484.0 177.2L485.0 177.1L486.0 176.6L487.0 177.7L488.0 176.5L489.0 176.4L490.0 177.3L491.0 176.3L492.0 177.1L493.0 177.5L494.0 176.8L495.0 176.8L496.0 177.4L497.0 177.2L498.0 175.6L499.0 175.7L500.0 177.5L501.0 176.8L502.0 175.0L503.0 175.5L504.0 176.4L505.0 175.6L506.0 176.5L507.0 176.2L508.0 176.4L509.0 175.1L511.0 177.2L512.0 175.2L513.0 176.6L515.0 175.9L517.0 174.4L518.0 174.5L519.0 175.6L521.0 175.6L523.0 175.2L524.0 174.1L525.0 173.4L526.0 174.3L527.0 174.3L528.0 173.9L529.0 172.6L530.0 173.1L531.0 172.3L532.0 173.3L533.0 172.3L534.0 172.7L535.0 172.9L536.0 172.6L537.0 173.3L538.0 171.5L539.0 170.6L540.0 172.7L541.0 172.9L542.0 172.9L543.0 172.0L544.0 172.1L545.0 171.7L546.0 170.7L548.0 171.8L549.0 171.0L550.0 172.7L551.0 170.2L553.0 172.1L554.0 170.9L556.0 170.4L557.0 170.9L558.0 172.5L559.0 171.8L560.0 171.9L561.0 171.2L562.0 172.2L564.0 171.1L566.0 171.9L567.0 172.6L568.0 171.7L569.0 172.1L570.0 173.2L571.0 171.2L572.0 170.9L573.0 172.5L575.0 171.7L576.0 172.0L577.0 171.5L578.0 172.1L579.0 171.5L580.0 172.3L581.0 170.9L582.0 171.1L583.0 171.6L584.0 171.1L585.0 171.8L587.0 170.7L588.0 171.1L590.0 169.6L593.0 170.2L595.0 171.0L596.0 170.6L597.0 171.4L598.0 171.0L599.0 169.9L600.0 171.2L601.0 170.8L602.0 169.6L604.0 170.7L605.0 170.2L606.0 170.8L607.0 170.4L608.0 170.7L609.0 170.1L610.0 170.7L611.0 170.3L612.0 171.1L613.0 169.6L614.0 171.2L615.0 172.0L617.0 171.6L618.0 172.4L619.0 171.9L622.0 173.3L623.0 174.3L624.0 173.2L625.0 174.7L626.0 173.1L628.0 174.6L629.0 175.6L631.0 173.7L632.0 175.7L633.0 175.6L634.0 175.2L636.0 176.1L638.0 177.7L639.0 176.4L640.0 179.3L641.0 177.8L642.0 177.7L643.0 178.6L644.0 178.3L645.0 180.0L647.0 178.3L650.0 178.7L651.0 179.5L652.0 178.8L653.0 180.5L654.0 179.5L655.0 179.7L656.0 180.6L657.0 178.7L659.0 180.8L660.0 180.4L661.0 180.4L662.0 180.7L663.0 180.0L664.0 180.3L665.0 179.5L666.0 179.1L667.0 181.2L668.0 179.6L669.0 179.7" stroke="#1ebec3"/>
<path d="M352.0 183.8L353.0 183.5L354.0 182.3L356.0 182.3L357.0 180.9L358.0 180.8L360.0 177.2L362.0 174.3L363.0 173.6L364.0 171.8L365.0 168.0L366.0 168.3L367.0 165.4L368.0 163.8L369.0 164.1L370.0 161.9L371.0 161.1L372.0 161.0L373.0 158.8L374.0 157.9L376.0 158.2L377.0 157.2L378.0 155.2L379.0 155.2L380.0 154.7L381.0 154.8L382.0 152.4L384.0 148.9L385.0 146.0L386.0 145.0L387.0 143.3L388.0 140.7L390.0 139.3L391.0 137.4L392.0 138.2L393.0 137.8L394.0 138.0L395.0 137.1L397.0 140.3L399.0 141.6L401.0 147.0L402.0 147.9L403.0 150.3L404.0 154.1L405.0 154.4L406.0 156.1L407.0 156.8L408.0 158.2L409.0 160.4L411.0 158.0L412.0 157.4L413.0 157.1L414.0 156.3L415.0 153.7L416.0 153.0L417.0 150.4L418.0 149.5L420.0 146.8L421.0 144.5L422.0 143.3L423.0 142.5L424.0 140.1L425.0 140.3L427.0 139.8L428.0 138.6L429.0 138.1L430.0 138.0L431.0 137.2L433.0 138.0L434.0 138.1L435.0 137.4L436.0 138.4L437.0 137.6L438.0 140.2L439.0 140.2L440.0 142.2L441.0 143.2L444.0 150.8L445.0 151.5L446.0 155.5L448.0 159.1L449.0 161.9L452.0 166.2L453.0 168.3L455.0 170.1L456.0 170.3L459.0 173.7L460.0 173.2L461.0 174.5L463.0 173.2L464.0 174.6L465.0 173.6L466.0 174.8L467.0 175.4L468.0 174.5L469.0 174.8L470.0 176.7L471.0 175.3L472.0 175.5L473.0 176.0L474.0 175.5L475.0 175.6L476.0 176.1L477.0 174.2L478.0 177.0L479.0 175.4L480.0 175.4L481.0 176.6L482.0 176.3L483.0 175.4L484.0 176.5L485.0 175.5L486.0 175.8L487.0 175.3L488.0 175.7L489.0 176.6L490.0 176.4L491.0 176.5L492.0 176.9L494.0 175.7L495.0 176.0L496.0 177.3L497.0 176.2L498.0 176.3L499.0 176.0L501.0 176.2L503.0 175.7L504.0 175.1L505.0 175.0L506.0 175.8L507.0 175.9L508.0 176.0L510.0 174.6L511.0 175.5L512.0 175.4L513.0 173.8L514.0 175.3L515.0 175.0L516.0 175.7L517.0 173.6L518.0 173.4L519.0 174.7L520.0 172.7L521.0 173.3L522.0 172.9L523.0 172.8L524.0 172.0L525.0 173.1L526.0 173.7L527.0 173.2L528.0 173.0L529.0 172.3L530.0 173.3L531.0 172.5L532.0 172.7L533.0 170.6L534.0 171.8L535.0 170.5L536.0 171.4L537.0 171.1L538.0 170.1L540.0 171.4L541.0 170.8L542.0 170.8L543.0 169.7L544.0 169.7L545.0 169.3L547.0 170.8L549.0 169.8L550.0 169.0L551.0 170.1L552.0 169.6L553.0 168.4L554.0 168.5L555.0 169.5L556.0 169.2L557.0 171.0L558.0 169.9L559.0 169.2L560.0 169.7L561.0 171.2L562.0 169.5L563.0 170.7L564.0 170.5L565.0 171.3L567.0 170.0L568.0 170.6L569.0 170.3L570.0 170.9L571.0 170.2L572.0 171.6L573.0 170.2L574.0 170.6L575.0 169.8L576.0 170.4L578.0 170.4L579.0 170.9L580.0 169.9L581.0 169.6L582.0 170.9L583.0 169.8L584.0 169.4L585.0 170.5L586.0 170.1L587.0 167.6L588.0 169.0L589.0 169.7L590.0 169.6L591.0 168.6L592.0 169.9L593.0 168.2L595.0 168.7L596.0 168.5L597.0 169.0L598.0 169.0L599.0 168.2L600.0 169.2L601.0 167.7L602.0 168.0L603.0 169.3L604.0 168.2L605.0 168.9L606.0 167.9L609.0 168.6L610.0 168.4L613.0 169.9L614.0 169.4L616.0 170.4L617.0 169.4L618.0 169.5L619.0 172.2L620.0 172.4L621.0 171.9L622.0 172.4L623.0 171.8L624.0 171.8L625.0 173.2L626.0 172.2L627.0 174.0L628.0 173.2L629.0 174.1L630.0 175.4L631.0 175.6L632.0 174.4L633.0 175.6L634.0 174.5L635.0 175.2L637.0 177.4L638.0 176.4L639.0 177.4L640.0 177.3L641.0 176.6L643.0 178.8L644.0 177.9L646.0 178.8L647.0 177.8L648.0 179.3L650.0 179.9L651.0 179.8L652.0 178.8L655.0 179.1L656.0 179.4L657.0 180.8L658.0 181.3L659.0 180.0L660.0 181.1L661.0 179.7L662.0 180.3L664.0 179.4L665.0 180.5L666.0 180.5L669.0 179.6" stroke="#1ec88c"/>
<path d="M352.0 183.4L353.0 183.0L354.0 183.5L355.0 182.3L356.0 183.0L358.0 181.3L359.0 179.3L362.0 171.1L363.0 170.6L364.0 169.7L365.0 168.0L366.0 163.2L367.0 162.6L368.0 161.2L369.0 159.2L370.0 158.6L372.0 155.5L373.0 154.7L374.0 152.6L376.0 151.7L377.0 152.3L378.0 149.9L379.0 150.1L380.0 149.7L381.0 147.5L382.0 146.1L383.0 142.8L385.0 139.4L386.0 138.4L387.0 135.3L388.0 133.8L389.0 131.1L390.0 129.8L391.0 130.0L392.0 128.6L393.0 128.7L394.0 128.2L395.0 129.8L396.0 130.8L397.0 129.6L398.0 133.0L399.0 134.0L401.0 138.4L402.0 141.4L403.0 142.6L406.0 151.1L407.0 153.2L408.0 154.5L409.0 155.1L410.0 154.4L411.0 152.9L412.0 153.5L415.0 149.5L416.0 146.2L417.0 144.2L418.0 140.8L419.0 141.1L421.0 136.6L422.0 135.6L423.0 133.0L424.0 132.0L425.0 132.7L426.0 131.2L430.0 128.7L431.0 129.9L432.0 128.2L433.0 128.8L434.0 128.4L435.0 128.7L436.0 127.7L437.0 128.7L438.0 131.8L439.0 132.9L440.0 133.4L442.0 138.9L443.0 140.3L444.0 144.8L445.0 145.7L446.0 148.9L447.0 150.5L448.0 156.2L449.0 157.6L450.0 160.9L451.0 161.1L452.0 164.0L454.0 167.1L455.0 169.5L456.0 170.6L457.0 170.9L458.0 170.4L459.0 171.9L460.0 172.7L461.0 172.5L463.0 173.0L464.0 172.3L466.0 174.4L467.0 172.8L469.0 174.4L470.0 173.0L471.0 174.0L472.0 173.1L473.0 174.0L474.0 173.6L476.0 174.6L478.0 175.1L479.0 173.6L480.0 176.5L481.0 175.3L482.0 174.8L483.0 175.1L484.0 175.8L485.0 174.9L486.0 175.3L487.0 175.2L488.0 175.9L489.0 175.0L490.0 175.8L491.0 175.7L492.0 175.4L493.0 176.3L495.0 174.6L496.0 175.6L498.0 175.3L499.0 175.4L500.0 176.8L501.0 175.2L502.0 175.3L503.0 174.7L504.0 175.7L505.0 174.6L507.0 173.6L508.0 174.7L509.0 174.8L510.0 173.0L511.0 173.5L512.0 174.3L513.0 174.5L514.0 172.7L516.0 173.9L517.0 172.8L519.0 172.5L520.0 171.8L521.0 172.5L522.0 172.5L523.0 171.2L524.0 172.0L525.0 172.5L526.0 171.7L527.0 172.0L528.0 170.8L529.0 171.9L530.0 170.1L531.0 171.7L532.0 169.9L534.0 169.1L535.0 169.2L537.0 168.6L538.0 168.6L539.0 169.2L540.0 169.2L541.0 168.2L542.0 169.2L543.0 167.5L545.0 167.2L546.0 168.3L547.0 166.7L548.0 166.7L549.0 168.5L550.0 168.7L551.0 168.4L552.0 166.4L553.0 167.5L554.0 168.1L555.0 167.6L556.0 166.4L557.0 167.4L558.0 166.5L559.0 166.9L560.0 169.3L561.0 168.4L562.0 166.9L563.0 167.0L564.0 168.4L565.0 167.7L566.0 168.5L567.0 167.7L569.0 168.3L571.0 166.8L574.0 168.0L576.0 168.1L577.0 168.5L578.0 167.5L579.0 169.1L580.0 169.5L581.0 168.3L582.0 168.1L583.0 168.7L588.0 166.1L589.0 167.2L590.0 167.4L591.0 165.7L592.0 166.3L593.0 166.4L595.0 165.5L596.0 165.7L597.0 164.4L598.0 165.7L599.0 165.4L600.0 167.1L602.0 165.3L603.0 165.5L604.0 166.7L605.0 166.7L606.0 165.7L607.0 165.6L608.0 164.8L609.0 165.7L610.0 166.0L611.0 165.8L612.0 167.7L613.0 165.4L614.0 166.8L616.0 167.8L617.0 169.1L618.0 167.5L620.0 169.7L621.0 170.2L623.0 170.3L624.0 171.9L625.0 170.7L626.0 171.3L627.0 173.0L628.0 173.4L629.0 173.1L630.0 172.2L633.0 172.9L634.0 173.9L635.0 175.5L637.0 175.1L638.0 175.5L639.0 175.6L640.0 177.5L641.0 175.5L642.0 177.3L643.0 176.3L644.0 176.7L645.0 176.6L646.0 178.5L647.0 177.9L648.0 180.1L649.0 177.6L650.0 177.7L651.0 179.1L652.0 179.3L653.0 178.9L654.0 178.0L655.0 180.7L656.0 180.3L657.0 180.5L658.0 180.0L659.0 181.0L660.0 180.2L661.0 180.7L662.0 180.5L663.0 181.5L664.0 180.3L665.0 180.4L666.0 181.3L667.0 180.7L669.0 180.2" stroke="#1ed21e"/>
<path d="M352.0 184.8L353.0 183.6L355.0 185.1L356.0 183.6L358.0 179.7L359.0 178.4L361.0 172.3L362.0 170.5L363.0 168.2L364.0 167.3L365.0 163.4L366.0 163.3L367.0 159.5L369.0 156.8L370.0 154.7L371.0 153.5L373.0 148.5L374.0 148.8L375.0 146.8L376.0 146.8L377.0 147.2L381.0 141.4L382.0 139.1L383.0 135.4L384.0 134.0L385.0 130.5L386.0 129.1L387.0 126.2L388.0 124.9L390.0 120.6L391.0 119.5L392.0 119.0L393.0 119.2L395.0 119.0L396.0 120.1L397.0 122.2L398.0 121.7L399.0 125.7L400.0 127.4L401.0 131.9L402.0 133.4L403.0 136.7L404.0 139.2L406.0 146.2L407.0 148.7L408.0 148.3L409.0 150.0L410.0 153.0L411.0 150.1L412.0 148.3L413.0 147.3L414.0 143.2L415.0 143.9L417.0 136.8L418.0 136.4L419.0 133.1L420.0 130.7L421.0 129.7L423.0 125.0L424.0 123.7L425.0 121.6L426.0 120.7L427.0 121.6L428.0 121.2L429.0 120.0L430.0 119.5L431.0 118.7L432.0 118.7L433.0 118.3L434.0 120.5L435.0 119.3L436.0 120.5L437.0 121.0L438.0 120.8L439.0 124.5L440.0 125.0L441.0 127.4L442.0 131.0L443.0 133.3L444.0 136.9L445.0 139.6L446.0 144.3L447.0 147.4L448.0 149.7L449.0 154.2L451.0 157.8L452.0 161.1L454.0 165.9L455.0 165.3L456.0 167.7L457.0 168.0L458.0 169.4L459.0 169.5L461.0 171.0L462.0 170.2L463.0 169.9L464.0 171.6L465.0 171.6L467.0 172.8L468.0 172.4L469.0 173.6L470.0 172.9L471.0 173.2L472.0 173.9L473.0 173.9L474.0 173.6L475.0 174.0L476.0 173.5L477.0 173.8L479.0 175.1L480.0 174.3L482.0 176.1L483.0 176.3L484.0 174.8L485.0 175.6L486.0 175.2L488.0 175.4L489.0 175.1L490.0 175.3L492.0 174.5L494.0 175.0L495.0 175.5L496.0 174.9L498.0 175.5L499.0 173.8L501.0 174.6L502.0 174.2L503.0 173.3L504.0 174.6L506.0 173.0L507.0 174.9L508.0 172.5L509.0 173.2L510.0 172.6L512.0 173.2L513.0 172.1L514.0 172.5L515.0 172.3L516.0 171.5L517.0 172.8L518.0 171.9L520.0 171.0L522.0 171.1L523.0 170.5L524.0 171.4L525.0 168.6L526.0 168.6L527.0 169.7L528.0 168.3L529.0 169.3L530.0 168.6L531.0 169.2L532.0 168.8L533.0 169.1L534.0 168.5L535.0 168.5L536.0 167.7L537.0 167.9L540.0 165.7L541.0 165.5L542.0 166.6L543.0 164.4L544.0 166.1L545.0 165.3L546.0 166.2L548.0 165.0L549.0 165.4L550.0 163.8L551.0 165.5L552.0 165.6L553.0 164.0L554.0 165.9L555.0 165.2L556.0 165.5L557.0 164.5L558.0 165.9L559.0 166.0L561.0 165.1L562.0 166.4L563.0 166.8L564.0 166.2L565.0 166.7L566.0 165.6L567.0 166.2L568.0 166.3L569.0 166.2L570.0 168.0L571.0 166.4L572.0 165.7L573.0 166.7L574.0 165.3L575.0 166.3L576.0 166.6L577.0 165.7L578.0 165.9L579.0 165.4L580.0 166.1L581.0 165.5L582.0 167.1L585.0 164.3L586.0 166.5L588.0 165.0L590.0 164.4L591.0 163.8L592.0 165.3L594.0 162.7L595.0 163.2L596.0 161.7L597.0 163.8L598.0 163.8L599.0 164.4L600.0 164.6L601.0 162.5L602.0 163.3L603.0 163.7L604.0 163.5L605.0 162.7L606.0 163.7L607.0 163.6L608.0 164.3L609.0 163.5L613.0 163.9L614.0 164.4L615.0 165.3L616.0 165.6L617.0 166.8L618.0 167.3L619.0 167.7L620.0 167.1L621.0 168.8L622.0 169.7L623.0 168.3L625.0 169.3L626.0 169.5L627.0 170.4L628.0 170.2L629.0 171.5L630.0 170.7L631.0 171.8L633.0 172.0L634.0 173.9L635.0 173.8L636.0 174.7L637.0 174.7L638.0 175.9L639.0 176.2L640.0 176.0L641.0 175.2L642.0 177.2L643.0 177.4L644.0 177.2L647.0 177.8L648.0 177.2L649.0 178.1L650.0 178.5L651.0 178.1L652.0 178.1L653.0 180.4L655.0 179.5L656.0 179.7L657.0 178.5L660.0 181.8L661.0 179.4L662.0 180.4L663.0 182.2L664.0 181.3L665.0 181.1L666.0 181.6L667.0 180.6L668.0 180.5L669.0 181.0" stroke="#a0e03c"/>
<path d="M352.0 185.5L353.0 184.1L354.0 185.8L355.0 183.2L356.0 183.5L357.0 184.9L358.0 180.4L359.0 178.6L360.0 174.6L362.0 169.1L365.0 163.1L366.0 159.9L367.0 157.9L368.0 154.2L369.0 153.5L370.0 150.8L371.0 149.5L372.0 146.5L373.0 145.0L374.0 144.8L377.0 140.5L379.0 139.3L380.0 138.0L383.0 129.6L384.0 125.4L385.0 123.8L387.0 117.5L388.0 113.2L390.0 110.0L391.0 109.1L392.0 107.7L393.0 108.1L394.0 108.0L395.0 108.4L396.0 108.4L397.0 112.2L398.0 113.1L399.0 116.5L400.0 118.9L403.0 129.7L404.0 134.0L405.0 136.8L406.0 141.3L407.0 140.8L409.0 146.0L411.0 144.0L412.0 141.7L413.0 142.2L414.0 137.8L415.0 136.8L416.0 133.7L418.0 129.1L419.0 125.2L421.0 120.5L422.0 117.1L423.0 116.7L424.0 114.0L425.0 112.9L426.0 111.1L427.0 111.0L428.0 109.7L429.0 109.4L430.0 108.2L431.0 109.3L433.0 106.8L434.0 109.4L435.0 109.3L436.0 109.5L437.0 112.7L438.0 111.9L439.0 112.5L442.0 122.5L443.0 127.0L445.0 133.0L447.0 142.3L449.0 148.7L450.0 152.6L451.0 155.2L452.0 156.6L453.0 159.6L454.0 161.7L455.0 163.5L456.0 164.4L457.0 167.0L458.0 166.4L459.0 167.2L460.0 168.8L461.0 167.5L463.0 170.3L464.0 169.3L465.0 169.9L466.0 171.6L468.0 171.3L469.0 171.7L470.0 171.2L471.0 172.2L472.0 172.0L473.0 174.1L474.0 173.0L475.0 172.6L477.0 173.3L478.0 172.4L479.0 173.0L480.0 174.8L481.0 172.8L482.0 173.5L483.0 174.6L484.0 175.0L485.0 173.2L486.0 174.9L487.0 173.7L488.0 175.1L490.0 173.7L491.0 174.3L492.0 174.2L493.0 173.2L494.0 175.2L495.0 173.5L496.0 174.5L498.0 172.3L502.0 174.4L503.0 173.1L504.0 172.7L505.0 171.9L506.0 172.5L507.0 172.6L508.0 170.7L509.0 173.0L510.0 172.7L511.0 173.4L512.0 171.0L513.0 171.5L514.0 171.3L515.0 170.1L516.0 170.3L517.0 170.0L518.0 170.8L519.0 170.5L520.0 170.9L521.0 169.4L522.0 168.5L523.0 169.5L524.0 169.2L526.0 169.3L527.0 167.7L528.0 168.4L529.0 166.8L530.0 167.3L531.0 167.3L532.0 166.4L533.0 166.3L534.0 164.9L536.0 165.3L537.0 164.1L538.0 164.1L539.0 166.1L540.0 164.4L541.0 163.5L542.0 163.2L543.0 164.7L544.0 161.6L545.0 163.2L546.0 163.7L547.0 162.7L548.0 163.3L549.0 162.1L550.0 162.8L554.0 162.7L555.0 163.5L556.0 162.6L557.0 162.5L559.0 162.9L560.0 162.1L561.0 161.9L562.0 162.4L563.0 163.6L564.0 163.0L565.0 163.3L566.0 165.6L568.0 163.4L569.0 163.2L570.0 164.6L571.0 163.0L572.0 164.5L573.0 164.0L574.0 164.6L575.0 163.1L576.0 164.2L577.0 162.3L579.0 164.3L580.0 164.0L581.0 162.2L582.0 163.8L583.0 163.4L585.0 162.2L586.0 162.2L587.0 161.8L588.0 162.6L589.0 162.0L590.0 162.2L591.0 161.8L592.0 160.3L593.0 161.1L594.0 162.4L595.0 159.9L596.0 160.7L597.0 159.9L598.0 159.7L600.0 160.7L602.0 160.3L603.0 160.6L604.0 158.8L605.0 160.6L607.0 160.1L608.0 160.4L609.0 160.0L610.0 161.6L611.0 160.5L612.0 160.3L613.0 161.6L614.0 161.5L615.0 162.2L616.0 163.7L617.0 163.2L618.0 164.2L619.0 166.5L620.0 164.7L621.0 166.6L622.0 167.7L624.0 169.3L625.0 167.7L626.0 168.9L627.0 168.8L629.0 169.1L630.0 169.0L631.0 170.7L632.0 171.4L633.0 170.6L634.0 172.5L635.0 172.2L636.0 172.5L637.0 172.1L638.0 175.3L639.0 175.5L640.0 175.1L641.0 175.4L642.0 175.1L643.0 176.6L644.0 176.5L645.0 177.1L646.0 177.1L647.0 176.2L648.0 176.4L649.0 178.0L650.0 176.7L651.0 178.4L652.0 179.1L653.0 177.9L654.0 179.7L655.0 179.6L656.0 180.3L657.0 179.9L659.0 181.1L660.0 182.2L661.0 181.5L662.0 181.3L663.0 180.0L664.0 181.2L665.0 180.4L668.0 181.4L669.0 181.0" stroke="#e6dc3c"/>
<path d="M352.0 185.5L353.0 185.3L354.0 186.1L355.0 184.2L356.0 184.4L357.0 184.0L358.0 180.6L359.0 178.5L361.0 172.9L362.0 169.3L363.0 164.6L364.0 162.9L367.0 154.6L368.0 153.1L369.0 150.2L370.0 146.4L371.0 144.7L372.0 141.7L373.0 142.6L374.0 139.8L375.0 138.6L376.0 136.6L377.0 136.5L378.0 136.1L380.0 132.7L381.0 130.0L382.0 128.8L384.0 119.3L387.0 110.9L389.0 104.4L390.0 103.1L391.0 102.2L392.0 99.8L393.0 101.5L394.0 101.4L395.0 99.7L398.0 107.1L399.0 110.5L400.0 111.6L403.0 124.5L404.0 127.5L405.0 132.5L406.0 135.9L407.0 138.5L408.0 139.3L409.0 141.7L410.0 141.6L411.0 140.2L412.0 139.9L413.0 137.0L414.0 135.8L415.0 131.4L416.0 129.8L417.0 126.6L418.0 122.0L419.0 120.2L420.0 117.4L421.0 113.7L422.0 112.3L424.0 106.7L425.0 105.8L426.0 105.3L427.0 103.6L428.0 102.3L429.0 103.2L430.0 100.8L432.0 101.7L433.0 101.6L434.0 100.2L435.0 101.8L437.0 103.6L439.0 106.9L440.0 109.4L443.0 121.3L444.0 123.0L445.0 130.3L446.0 133.0L447.0 138.5L448.0 141.0L449.0 145.4L450.0 148.2L451.0 153.1L452.0 155.9L455.0 162.1L456.0 162.6L457.0 164.2L458.0 165.2L459.0 167.3L460.0 167.5L461.0 167.1L462.0 168.7L463.0 169.3L464.0 170.2L465.0 169.2L466.0 170.2L467.0 171.6L468.0 170.2L469.0 170.4L470.0 171.2L471.0 170.8L472.0 171.4L474.0 171.3L475.0 172.7L476.0 172.1L477.0 171.8L478.0 172.5L480.0 173.3L482.0 174.5L483.0 172.4L484.0 173.1L485.0 172.0L486.0 173.5L487.0 173.7L488.0 172.8L490.0 172.5L491.0 172.1L492.0 173.6L493.0 174.5L494.0 172.3L495.0 174.2L497.0 171.9L498.0 173.3L499.0 173.3L501.0 172.3L502.0 173.6L503.0 172.1L504.0 172.6L505.0 172.4L506.0 171.1L507.0 170.3L508.0 170.2L509.0 171.0L510.0 171.3L511.0 169.6L512.0 170.2L513.0 171.6L514.0 169.0L515.0 170.4L516.0 170.1L517.0 170.2L518.0 168.3L519.0 169.4L520.0 167.9L521.0 169.5L522.0 167.7L523.0 168.3L524.0 167.2L525.0 167.6L526.0 166.1L527.0 167.1L528.0 166.9L529.0 166.1L530.0 166.9L531.0 165.7L532.0 165.6L533.0 165.0L534.0 165.6L535.0 163.5L537.0 163.2L538.0 163.5L539.0 163.0L540.0 163.1L542.0 161.8L544.0 162.1L545.0 160.0L546.0 162.5L547.0 161.0L548.0 161.0L549.0 161.3L550.0 160.9L551.0 159.9L553.0 161.9L554.0 161.7L555.0 161.9L556.0 160.7L557.0 161.0L558.0 162.0L559.0 162.4L560.0 161.5L562.0 160.3L563.0 162.8L564.0 160.8L565.0 162.2L566.0 162.6L567.0 164.3L568.0 162.1L569.0 161.9L570.0 162.3L571.0 162.3L572.0 162.9L573.0 162.5L575.0 160.5L576.0 162.2L577.0 161.5L578.0 163.0L579.0 161.0L580.0 162.1L581.0 161.3L582.0 161.1L583.0 162.7L584.0 161.4L585.0 160.8L586.0 161.2L587.0 159.8L588.0 159.9L589.0 159.4L590.0 161.1L591.0 159.7L593.0 159.9L594.0 158.8L595.0 158.7L596.0 157.5L597.0 158.8L598.0 158.5L599.0 157.9L600.0 159.0L601.0 156.7L602.0 158.3L603.0 157.0L604.0 157.2L605.0 157.9L606.0 159.1L607.0 157.4L608.0 157.8L609.0 157.8L610.0 160.4L611.0 159.6L612.0 159.8L613.0 161.3L614.0 160.3L615.0 159.0L616.0 160.6L617.0 160.8L618.0 164.0L619.0 162.4L620.0 164.5L621.0 164.6L623.0 166.1L624.0 166.5L626.0 166.5L627.0 167.4L628.0 167.5L629.0 168.0L630.0 169.2L631.0 169.4L632.0 170.4L633.0 170.4L634.0 172.6L635.0 171.4L636.0 171.9L637.0 174.2L638.0 173.6L640.0 175.7L641.0 175.3L642.0 175.4L643.0 176.7L646.0 175.9L647.0 176.8L648.0 176.1L649.0 176.9L650.0 177.0L651.0 178.3L652.0 179.0L653.0 178.3L654.0 178.9L655.0 178.8L656.0 179.0L658.0 181.1L660.0 181.5L661.0 180.9L662.0 179.1L663.0 181.8L664.0 182.1L665.0 181.7L667.0 181.7L668.0 182.8L669.0 180.9" stroke="#e6a532"/>
<path d="M352.0 187.0L353.0 186.3L354.0 186.0L356.0 184.5L357.0 182.5L358.0 181.3L360.0 173.5L362.0 166.9L363.0 166.0L364.0 161.5L365.0 158.6L366.0 154.6L367.0 151.7L368.0 150.6L369.0 147.2L370.0 145.1L371.0 144.0L372.0 142.1L373.0 139.2L374.0 137.5L376.0 134.6L377.0 135.3L378.0 131.9L379.0 131.4L380.0 128.3L382.0 124.0L385.0 112.4L388.0 102.6L392.0 94.9L393.0 93.9L394.0 94.8L396.0 95.6L397.0 99.6L398.0 101.0L400.0 107.6L402.0 116.7L403.0 119.6L406.0 133.9L408.0 137.5L410.0 139.5L411.0 138.5L412.0 135.9L413.0 134.8L414.0 131.6L415.0 127.3L416.0 124.3L418.0 119.7L421.0 109.3L422.0 107.4L423.0 104.7L424.0 101.0L425.0 101.0L426.0 98.8L427.0 98.8L428.0 97.8L431.0 96.0L432.0 94.6L433.0 94.8L434.0 96.7L435.0 96.9L436.0 96.2L437.0 96.9L439.0 102.9L440.0 104.9L441.0 107.9L442.0 112.4L443.0 114.3L446.0 130.7L447.0 133.4L448.0 140.3L450.0 147.6L452.0 153.6L453.0 155.6L454.0 159.0L455.0 161.2L456.0 161.5L457.0 163.8L458.0 164.4L459.0 166.6L460.0 167.3L461.0 165.5L462.0 168.0L463.0 168.9L464.0 168.1L466.0 169.1L467.0 168.6L468.0 169.7L469.0 171.1L470.0 170.6L471.0 171.6L472.0 171.5L473.0 171.9L474.0 171.4L475.0 172.1L476.0 173.3L477.0 173.1L479.0 171.9L480.0 171.9L481.0 172.9L482.0 173.1L483.0 171.5L484.0 173.0L486.0 173.1L487.0 172.4L488.0 174.5L489.0 173.4L490.0 171.8L491.0 172.2L492.0 173.3L497.0 172.2L498.0 171.7L499.0 172.7L500.0 170.2L502.0 172.8L503.0 171.2L504.0 170.7L505.0 172.8L507.0 170.9L508.0 170.4L509.0 170.5L511.0 170.1L512.0 169.5L513.0 170.3L515.0 168.1L516.0 168.3L517.0 168.9L519.0 166.6L520.0 169.2L522.0 167.2L523.0 166.8L525.0 167.6L526.0 165.8L527.0 166.3L528.0 165.1L529.0 165.4L530.0 164.0L531.0 163.1L532.0 164.1L533.0 163.6L534.0 163.7L535.0 162.4L536.0 163.5L537.0 162.2L538.0 163.0L539.0 161.3L540.0 162.4L541.0 161.1L542.0 161.0L543.0 161.4L544.0 159.3L545.0 159.6L546.0 161.5L547.0 159.0L550.0 160.8L551.0 159.3L552.0 159.7L553.0 158.8L554.0 159.3L555.0 160.4L556.0 160.0L557.0 159.8L558.0 160.2L560.0 160.3L562.0 159.7L563.0 161.0L564.0 159.7L565.0 161.4L566.0 162.2L567.0 161.8L568.0 162.4L569.0 159.9L570.0 160.9L571.0 160.1L572.0 160.1L573.0 159.4L574.0 159.8L575.0 161.3L576.0 161.2L577.0 161.6L579.0 161.3L580.0 160.1L582.0 160.9L583.0 161.1L584.0 159.6L585.0 159.3L586.0 159.0L587.0 160.2L589.0 158.2L590.0 157.7L591.0 158.3L592.0 156.6L593.0 157.5L595.0 156.9L596.0 157.3L597.0 157.3L598.0 159.0L599.0 156.7L600.0 157.1L601.0 155.9L602.0 155.2L603.0 157.2L604.0 157.8L605.0 155.8L607.0 157.6L608.0 157.0L609.0 155.5L610.0 158.2L611.0 157.6L612.0 158.6L613.0 157.7L614.0 159.4L615.0 159.9L616.0 159.1L617.0 160.8L618.0 160.9L619.0 162.0L620.0 162.6L621.0 163.7L622.0 164.1L623.0 166.0L624.0 165.5L625.0 165.3L626.0 167.5L627.0 167.4L628.0 168.1L629.0 167.8L630.0 168.8L632.0 168.7L633.0 170.0L635.0 171.5L636.0 172.8L637.0 171.7L638.0 173.9L639.0 173.7L641.0 175.4L642.0 175.5L643.0 175.3L644.0 176.6L645.0 176.3L646.0 177.3L647.0 177.8L648.0 176.9L649.0 176.6L651.0 178.6L652.0 178.6L653.0 178.0L654.0 178.0L655.0 179.0L656.0 179.4L657.0 181.0L658.0 180.9L659.0 181.7L660.0 181.2L661.0 182.5L662.0 181.3L663.0 181.7L664.0 181.0L666.0 181.9L667.0 181.6L668.0 181.8L669.0 180.3" stroke="#f08232"/>
<path d="M352.0 186.6L353.0 187.4L354.0 186.2L356.0 185.0L357.0 183.2L359.0 178.7L362.0 166.4L363.0 163.0L364.0 162.3L365.0 156.9L367.0 150.4L369.0 144.9L370.0 142.8L371.0 141.3L372.0 137.5L373.0 136.4L374.0 134.3L375.0 133.5L376.0 131.3L377.0 131.1L379.0 127.0L380.0 125.4L381.0 122.9L384.0 112.8L385.0 107.4L386.0 105.1L388.0 97.3L389.0 94.1L391.0 91.3L392.0 89.5L393.0 88.8L395.0 88.9L396.0 91.5L397.0 93.4L398.0 97.0L399.0 98.4L406.0 129.4L407.0 132.5L408.0 133.5L409.0 136.6L410.0 134.6L411.0 136.2L412.0 133.9L413.0 130.9L414.0 129.2L415.0 125.0L418.0 114.8L424.0 95.8L425.0 96.3L426.0 94.5L427.0 91.9L428.0 92.2L429.0 91.2L430.0 88.8L432.0 89.7L433.0 91.1L434.0 91.1L435.0 91.9L436.0 92.1L437.0 93.6L438.0 93.3L440.0 99.8L441.0 102.4L443.0 113.1L445.0 122.5L446.0 126.3L449.0 141.8L450.0 144.2L452.0 150.7L453.0 155.0L454.0 157.7L456.0 160.5L458.0 164.8L459.0 164.0L460.0 165.7L462.0 167.2L463.0 168.3L465.0 168.4L466.0 169.5L467.0 169.6L468.0 169.3L469.0 169.6L470.0 168.8L471.0 170.0L472.0 169.7L473.0 169.7L474.0 170.6L475.0 169.8L478.0 172.0L479.0 171.8L481.0 173.4L482.0 173.0L483.0 171.6L484.0 171.2L485.0 171.8L486.0 171.8L487.0 171.0L489.0 171.1L490.0 171.9L491.0 173.3L492.0 173.4L493.0 171.5L494.0 171.8L495.0 171.1L496.0 170.9L497.0 171.9L498.0 171.9L499.0 171.3L500.0 172.1L501.0 171.3L502.0 172.1L503.0 170.8L504.0 171.6L505.0 170.7L507.0 170.9L508.0 169.3L510.0 169.8L511.0 169.4L512.0 169.6L513.0 168.6L514.0 168.0L515.0 168.6L516.0 168.7L517.0 167.6L518.0 168.8L519.0 168.1L521.0 167.6L522.0 166.1L523.0 167.9L524.0 165.6L525.0 166.0L526.0 165.9L528.0 164.8L529.0 163.7L531.0 163.5L532.0 163.9L533.0 162.1L534.0 162.7L537.0 160.7L538.0 160.6L539.0 159.2L540.0 160.3L541.0 160.2L542.0 159.4L543.0 159.9L544.0 159.6L545.0 158.7L546.0 159.6L547.0 158.5L548.0 160.4L549.0 157.9L551.0 158.0L553.0 159.2L554.0 158.5L555.0 158.2L556.0 159.9L558.0 158.5L559.0 158.8L560.0 157.9L562.0 160.4L563.0 158.5L564.0 158.4L565.0 159.5L566.0 157.8L567.0 160.5L568.0 158.4L570.0 159.4L571.0 160.3L572.0 159.8L573.0 158.2L574.0 158.3L575.0 159.6L576.0 158.0L577.0 159.3L578.0 158.9L579.0 160.0L580.0 160.3L581.0 157.5L582.0 159.4L583.0 159.3L584.0 158.0L585.0 157.8L586.0 157.1L589.0 158.0L590.0 157.8L591.0 156.3L592.0 155.8L593.0 156.9L594.0 154.0L595.0 154.8L597.0 157.0L598.0 154.7L599.0 155.2L600.0 154.2L601.0 154.8L602.0 154.8L603.0 154.3L604.0 155.1L605.0 154.8L606.0 155.4L608.0 154.6L609.0 155.8L610.0 156.5L611.0 155.7L612.0 157.5L614.0 157.1L615.0 157.7L617.0 158.5L618.0 160.7L619.0 161.8L620.0 161.8L621.0 162.8L622.0 163.4L624.0 165.7L625.0 164.7L626.0 165.9L627.0 166.1L629.0 168.1L630.0 166.9L631.0 166.6L632.0 168.5L633.0 168.1L634.0 171.1L635.0 170.3L637.0 172.7L638.0 173.4L639.0 173.6L641.0 175.4L642.0 174.9L643.0 176.8L644.0 176.0L645.0 174.4L646.0 177.0L647.0 175.4L649.0 178.8L650.0 178.3L651.0 177.1L652.0 177.7L653.0 178.7L654.0 180.2L655.0 179.1L656.0 180.9L657.0 180.7L659.0 181.0L660.0 182.5L661.0 180.3L662.0 180.6L663.0 182.0L664.0 182.0L665.0 180.4L666.0 180.6L667.0 180.3L668.0 181.4L669.0 180.3" stroke="#f03c3c"/>
<path d="M352.0 187.5L354.0 186.4L356.0 185.7L357.0 184.3L360.0 174.4L361.0 169.9L362.0 167.1L364.0 159.2L366.0 153.9L367.0 150.5L368.0 145.4L369.0 144.0L370.0 140.8L371.0 138.4L374.0 132.0L375.0 130.8L376.0 129.9L377.0 127.9L379.0 125.3L381.0 121.6L382.0 116.7L386.0 101.7L387.0 98.7L388.0 94.3L389.0 91.3L390.0 89.4L391.0 86.3L393.0 86.2L394.0 85.2L395.0 85.9L396.0 89.1L397.0 89.7L398.0 93.1L399.0 94.3L400.0 100.3L405.0 123.2L406.0 125.3L407.0 130.7L408.0 133.7L409.0 134.5L411.0 133.4L412.0 132.1L414.0 127.8L416.0 118.0L418.0 112.7L419.0 108.4L420.0 105.4L422.0 98.1L423.0 95.5L424.0 92.1L425.0 91.9L427.0 89.9L428.0 87.6L429.0 86.9L430.0 85.4L431.0 85.1L433.0 88.1L434.0 85.9L435.0 87.0L436.0 88.8L437.0 88.8L438.0 90.9L439.0 92.3L440.0 95.7L441.0 100.7L443.0 108.3L444.0 114.4L446.0 124.1L448.0 135.4L449.0 138.8L451.0 147.8L452.0 150.6L453.0 154.6L454.0 155.5L455.0 158.9L456.0 160.6L457.0 163.1L458.0 163.1L459.0 164.9L461.0 165.0L463.0 166.3L464.0 167.8L465.0 167.1L467.0 169.0L468.0 169.5L469.0 169.6L470.0 170.2L471.0 168.7L474.0 171.2L475.0 171.0L476.0 170.4L477.0 171.1L478.0 170.3L479.0 172.2L480.0 170.6L481.0 172.1L482.0 172.8L483.0 172.7L484.0 171.0L485.0 172.2L486.0 171.8L487.0 171.9L488.0 173.2L490.0 171.0L491.0 171.2L492.0 172.4L493.0 172.0L494.0 171.0L495.0 170.6L496.0 171.4L497.0 171.4L498.0 172.1L499.0 171.0L500.0 171.8L501.0 172.0L502.0 169.9L503.0 170.5L504.0 171.8L505.0 170.2L506.0 170.3L507.0 170.8L508.0 169.3L509.0 169.4L510.0 168.3L511.0 169.6L512.0 168.7L513.0 168.5L514.0 166.7L515.0 169.0L516.0 168.5L517.0 167.2L518.0 168.3L519.0 165.4L520.0 166.8L521.0 165.3L522.0 168.1L523.0 164.0L524.0 164.6L525.0 164.6L526.0 165.4L527.0 165.0L529.0 163.4L530.0 164.7L531.0 162.2L532.0 162.5L533.0 163.1L534.0 160.5L535.0 160.4L536.0 161.3L537.0 160.5L538.0 158.9L539.0 159.6L540.0 160.6L541.0 158.9L542.0 159.4L544.0 157.9L545.0 159.4L546.0 158.7L547.0 158.7L548.0 157.6L551.0 157.7L552.0 157.1L553.0 157.0L554.0 158.3L555.0 156.7L556.0 157.2L557.0 157.3L558.0 157.4L559.0 157.0L560.0 157.4L561.0 158.7L562.0 158.0L563.0 157.8L564.0 159.6L565.0 157.5L566.0 159.3L567.0 158.8L568.0 157.6L569.0 158.3L570.0 158.3L571.0 159.4L572.0 159.2L574.0 157.7L575.0 157.3L576.0 158.4L577.0 157.6L578.0 158.4L579.0 158.4L581.0 159.1L582.0 158.2L583.0 158.3L584.0 157.5L585.0 158.0L586.0 157.6L587.0 157.8L588.0 157.3L589.0 155.5L590.0 154.7L591.0 156.0L592.0 156.1L593.0 154.7L594.0 156.0L595.0 154.8L596.0 154.5L597.0 154.6L598.0 153.2L599.0 152.9L600.0 153.7L601.0 153.0L602.0 153.7L603.0 153.7L604.0 151.9L606.0 154.3L607.0 152.5L608.0 154.1L609.0 153.6L610.0 153.5L611.0 156.0L612.0 156.3L613.0 155.6L614.0 155.9L615.0 157.7L616.0 158.1L617.0 158.2L618.0 159.8L620.0 161.1L621.0 162.5L622.0 162.5L623.0 163.8L624.0 163.8L626.0 164.6L627.0 165.8L628.0 166.6L629.0 166.7L630.0 166.3L631.0 167.9L632.0 167.4L633.0 167.9L635.0 170.9L637.0 172.5L638.0 173.9L639.0 174.1L640.0 173.7L641.0 175.0L642.0 174.6L643.0 175.5L644.0 175.9L645.0 175.8L646.0 175.1L647.0 176.3L648.0 176.5L649.0 177.0L652.0 177.0L653.0 179.1L654.0 179.6L656.0 180.0L657.0 181.9L658.0 181.3L659.0 181.2L660.0 181.9L661.0 181.3L662.0 181.8L663.0 181.5L664.0 181.7L666.0 180.9L667.0 181.5L668.0 181.7L669.0 180.1" stroke="#e6148c"/>
</g>
<path d="M350.4 185.6H670.7M351.4 185.6V191.5M457.5 185.6V191.5M563.6 185.6V191.5M669.7 185.6V191.5M404.4 185.6V189M510.5 185.6V189M616.6 185.6V189" stroke="#000" stroke-width="2.6" fill="none"/>
<text x="351.4" y="217.0" font-size="29.5" text-anchor="middle" class="bb">400</text>
<text x="457.5" y="217.0" font-size="29.5" text-anchor="middle" class="bb">500</text>
<text x="563.6" y="217.0" font-size="29.5" text-anchor="middle" class="bb">600</text>
<text x="669.7" y="217.0" font-size="29.5" text-anchor="middle" class="bb">700</text>
<text transform="translate(336.3 133.5) rotate(-90)" font-size="29" text-anchor="middle" class="bb">ΔA</text>
<path d="M381.9 305.6H434.3" stroke="#000" stroke-width="3.3" stroke-linecap="round"/>
<text x="440.4" y="313.6" font-size="23.6" text-anchor="start" >oxidized</text>
<path d="M553 305.6H604.5" stroke="#1ed21e" stroke-width="3.3" stroke-linecap="round"/>
<text x="611.3" y="313.6" font-size="23.6" text-anchor="start" >60</text>
<path d="M381.9 334.2H434.3" stroke="#9400c8" stroke-width="3.3" stroke-linecap="round"/>
<text x="440.4" y="342.2" font-size="23.6" text-anchor="start" >0</text>
<path d="M553 334.2H604.5" stroke="#a0e03c" stroke-width="3.3" stroke-linecap="round"/>
<text x="611.3" y="342.2" font-size="23.6" text-anchor="start" >70</text>
<path d="M381.9 362.8H434.3" stroke="#6400d2" stroke-width="3.3" stroke-linecap="round"/>
<text x="440.4" y="370.8" font-size="23.6" text-anchor="start" >10</text>
<path d="M553 362.8H604.5" stroke="#e6dc3c" stroke-width="3.3" stroke-linecap="round"/>
<text x="611.3" y="370.8" font-size="23.6" text-anchor="start" >80</text>
<path d="M381.9 391.4H434.3" stroke="#1e3cf0" stroke-width="3.3" stroke-linecap="round"/>
<text x="440.4" y="399.4" font-size="23.6" text-anchor="start" >20</text>
<path d="M553 391.4H604.5" stroke="#e6a532" stroke-width="3.3" stroke-linecap="round"/>
<text x="611.3" y="399.4" font-size="23.6" text-anchor="start" >90</text>
<path d="M381.9 420.0H434.3" stroke="#1e96f0" stroke-width="3.3" stroke-linecap="round"/>
<text x="440.4" y="428.0" font-size="23.6" text-anchor="start" >30</text>
<path d="M553 420.0H604.5" stroke="#f08232" stroke-width="3.3" stroke-linecap="round"/>
<text x="611.3" y="428.0" font-size="23.6" text-anchor="start" >100</text>
<path d="M381.9 448.6H434.3" stroke="#1ebec3" stroke-width="3.3" stroke-linecap="round"/>
<text x="440.4" y="456.6" font-size="23.6" text-anchor="start" >40</text>
<path d="M553 448.6H604.5" stroke="#f03c3c" stroke-width="3.3" stroke-linecap="round"/>
<text x="611.3" y="456.6" font-size="23.6" text-anchor="start" >110</text>
<path d="M381.9 477.2H434.3" stroke="#1ec88c" stroke-width="3.3" stroke-linecap="round"/>
<text x="440.4" y="485.2" font-size="23.6" text-anchor="start" >50</text>
<path d="M553 477.2H604.5" stroke="#e6148c" stroke-width="3.3" stroke-linecap="round"/>
<text x="611.3" y="485.2" font-size="23.6" text-anchor="start" >120 min</text>
<g clip-path="url(#cb)" fill="none" stroke-width="3.8" stroke-linejoin="round">
<path d="M906.5 275.0L908.5 290.2L910.5 312.2L911.5 318.9L912.5 324.2L913.5 328.0L914.5 330.5L917.0 334.8L918.0 337.1L919.0 340.7L920.0 346.0L921.5 356.5L923.0 372.1L924.0 380.5L927.5 406.3L932.0 435.5L936.5 461.2L937.5 465.4L938.5 468.3L940.0 472.1L941.5 475.1L942.5 476.6L943.5 477.7L945.5 479.2L947.0 480.1L949.0 480.6L952.0 480.4L959.5 478.5L963.0 477.4L974.0 473.1L986.0 467.4L995.5 463.3L1001.0 460.0L1004.5 457.0L1006.5 454.3L1009.0 449.0L1016.0 431.3L1022.0 413.9L1025.0 403.6L1033.5 370.9L1035.0 364.1L1037.0 353.1L1042.5 316.8L1045.5 293.1L1048.0 265.7L1049.0 258.0L1050.5 251.9L1052.0 247.6L1054.0 242.5L1058.0 233.8L1059.0 231.0L1069.0 184.4L1070.0 181.0L1072.5 174.2L1073.5 172.3L1074.0 171.8L1074.5 171.5L1075.0 171.6L1076.0 172.9L1077.0 175.0L1077.5 176.8L1079.0 187.0L1080.5 204.0L1082.0 230.2L1083.5 262.3L1086.5 348.1L1087.5 360.8L1089.5 372.8L1090.5 381.0L1092.5 417.8L1094.5 440.9L1098.0 473.2L1099.0 481.1L1100.0 486.8L1101.5 492.1L1103.5 497.7L1105.5 501.6L1107.0 503.4L1109.0 505.0L1111.5 506.5L1114.0 507.7L1116.5 508.5L1126.0 510.3L1134.5 511.0L1204.0 511.2L1341.5 512.9L1471.5 513.5" stroke="#9400c8"/>
<path d="M906.5 274.6L908.0 285.2L910.5 312.1L911.5 318.8L912.5 324.1L913.5 327.9L914.5 330.4L917.0 334.7L918.0 337.0L919.0 340.5L920.0 345.8L921.5 356.3L923.0 371.9L924.0 380.4L927.5 406.0L932.0 435.1L936.0 457.6L937.5 464.2L939.0 468.4L941.0 472.9L943.0 475.9L945.0 477.5L947.0 478.7L949.0 479.2L952.5 479.0L956.0 478.2L963.0 476.2L974.5 471.9L993.5 463.6L999.5 460.2L1001.5 458.8L1003.5 457.0L1005.0 455.4L1006.0 454.0L1007.5 451.2L1009.0 447.7L1016.0 430.0L1022.0 412.9L1025.0 402.7L1033.5 370.7L1035.0 363.9L1037.0 352.9L1042.5 316.6L1045.5 292.9L1048.0 265.5L1049.0 257.8L1050.5 251.4L1052.5 245.5L1054.0 241.6L1058.0 232.9L1059.0 230.0L1062.0 216.5L1067.5 189.8L1069.5 181.5L1072.5 173.5L1073.5 171.7L1074.5 171.0L1075.0 171.1L1076.0 172.6L1077.0 174.9L1077.5 176.9L1079.0 187.4L1080.5 204.4L1082.0 229.3L1083.5 262.4L1086.5 348.2L1087.5 360.9L1089.5 372.7L1090.5 380.9L1092.5 417.6L1094.5 440.4L1098.0 471.9L1099.0 479.5L1100.0 485.2L1102.0 492.2L1104.0 497.4L1106.0 501.0L1108.0 503.1L1110.0 504.6L1112.0 505.9L1114.5 507.0L1117.0 507.8L1126.5 509.6L1131.0 510.2L1135.0 510.4L1237.5 510.9L1291.5 511.6L1359.0 513.0L1471.5 513.5" stroke="#6400d2"/>
<path d="M906.5 274.3L907.5 280.3L910.5 312.0L911.5 318.7L912.5 324.0L913.5 327.8L914.5 330.4L917.0 334.6L918.0 336.9L919.0 340.4L920.0 345.7L921.5 356.1L923.0 371.8L924.0 380.2L927.5 405.8L932.0 434.7L936.0 456.8L937.5 463.2L939.0 467.3L941.0 471.7L942.5 474.2L943.5 475.3L945.0 476.4L947.0 477.5L949.0 478.1L952.5 477.9L955.5 477.3L961.0 475.7L974.5 471.2L992.0 463.8L999.0 459.8L1001.0 458.4L1003.0 456.7L1005.0 454.4L1006.0 453.0L1008.5 447.9L1016.5 427.6L1022.0 412.1L1025.0 402.0L1033.5 370.4L1035.0 363.7L1037.0 352.8L1042.5 316.4L1045.5 292.7L1048.5 260.9L1049.5 255.1L1051.0 249.3L1053.0 243.4L1058.0 232.1L1059.0 229.2L1062.0 215.8L1067.5 188.8L1069.5 180.6L1071.5 175.1L1072.5 172.9L1073.5 171.3L1074.5 170.6L1075.0 170.7L1076.0 172.3L1077.0 174.9L1077.5 177.0L1079.0 187.7L1080.5 204.7L1082.0 228.5L1083.0 250.0L1086.5 348.3L1087.5 360.9L1089.5 372.6L1090.5 380.8L1092.5 417.4L1094.5 440.0L1098.0 470.7L1099.0 478.2L1100.0 483.8L1102.0 490.9L1104.0 496.2L1106.0 500.0L1108.5 502.7L1110.5 504.2L1112.5 505.3L1115.0 506.5L1117.5 507.3L1127.0 509.2L1135.0 509.9L1159.0 510.2L1238.5 510.2L1296.5 511.1L1358.5 512.9L1471.5 513.4" stroke="#1e3cf0"/>
<path d="M906.5 274.0L907.5 279.5L910.5 311.9L911.5 318.6L912.5 324.0L913.5 327.8L914.5 330.3L917.0 334.5L918.0 336.8L919.0 340.3L920.0 345.5L921.5 355.9L923.0 371.6L924.0 380.0L927.5 405.5L932.0 434.4L936.0 456.0L937.0 460.4L938.0 463.7L939.5 467.5L941.0 470.6L942.5 473.0L943.5 474.1L945.0 475.3L947.0 476.4L949.0 476.9L952.0 476.9L955.0 476.4L959.0 475.3L974.5 470.4L992.0 463.4L998.5 459.5L1002.5 456.3L1005.5 452.8L1007.0 450.2L1008.5 446.9L1017.0 425.3L1022.5 409.8L1025.0 401.3L1032.5 374.1L1034.0 368.1L1035.5 361.0L1037.5 349.6L1042.5 316.2L1045.5 292.5L1048.5 260.7L1049.5 254.8L1051.0 248.7L1053.0 242.7L1058.0 231.3L1059.0 228.4L1062.5 212.8L1067.5 187.8L1069.5 179.7L1071.0 175.6L1072.5 172.3L1073.5 170.8L1074.5 170.2L1075.0 170.3L1076.0 172.0L1077.0 174.8L1077.5 177.1L1079.0 188.1L1080.5 205.0L1082.5 237.2L1086.5 348.4L1087.5 360.9L1089.5 372.6L1090.5 380.7L1092.5 417.2L1094.5 439.6L1098.0 469.6L1099.0 476.9L1100.0 482.5L1102.0 489.6L1104.0 495.0L1106.0 498.9L1107.0 500.2L1108.5 501.8L1110.5 503.3L1112.5 504.6L1115.0 505.7L1117.5 506.6L1122.5 507.8L1127.0 508.6L1131.0 509.1L1135.5 509.4L1159.5 509.8L1229.5 509.6L1250.5 509.7L1303.0 510.7L1322.0 511.3L1358.5 512.8L1413.5 513.2L1471.5 513.4" stroke="#1e96f0"/>
<path d="M906.5 273.7L907.5 278.8L910.0 306.8L910.5 311.8L911.5 318.5L912.5 323.9L913.5 327.7L914.5 330.2L917.0 334.4L918.0 336.7L919.0 340.2L920.0 345.4L921.5 355.7L923.0 371.5L924.0 379.9L927.5 405.3L932.0 434.0L935.5 452.7L937.5 461.2L939.0 465.2L940.5 468.5L942.0 471.2L943.0 472.5L944.5 473.9L946.5 475.0L948.5 475.7L950.5 475.8L953.5 475.6L956.0 475.1L974.5 469.6L991.5 463.1L998.5 458.8L1000.5 457.3L1002.5 455.5L1005.5 451.8L1007.0 449.2L1008.5 445.9L1017.5 423.0L1022.5 409.0L1025.0 400.6L1032.5 373.8L1034.0 367.9L1035.5 360.9L1037.5 349.5L1042.5 316.0L1045.5 292.3L1048.5 260.6L1049.5 254.5L1051.0 248.2L1052.5 243.4L1054.0 239.6L1058.0 230.5L1059.0 227.6L1062.5 212.1L1067.5 186.9L1069.5 178.9L1072.0 172.6L1073.5 170.3L1074.5 169.7L1075.0 169.9L1075.5 170.7L1076.5 173.1L1077.5 177.1L1078.0 180.3L1079.5 193.6L1081.0 211.8L1082.5 236.1L1086.5 348.5L1087.5 360.9L1089.5 372.5L1090.5 380.6L1092.5 417.1L1094.5 439.2L1098.0 468.5L1100.0 481.1L1102.0 488.3L1104.5 495.0L1106.5 498.6L1109.0 501.4L1111.0 502.9L1113.0 504.1L1115.5 505.2L1118.0 506.0L1123.0 507.3L1127.5 508.1L1131.5 508.6L1136.0 508.9L1159.5 509.4L1197.5 509.3L1231.5 509.0L1259.5 509.2L1288.0 509.7L1310.5 510.3L1358.5 512.7L1412.5 513.2L1471.5 513.4" stroke="#1ebec3"/>
<path d="M906.5 273.4L907.5 278.1L910.0 306.8L910.5 311.7L911.5 318.5L912.5 323.8L913.5 327.6L914.5 330.1L917.0 334.3L918.0 336.6L919.0 340.0L920.0 345.2L921.5 355.6L923.0 371.3L924.0 379.7L927.0 401.6L931.5 430.7L934.5 447.0L937.0 458.5L938.0 461.7L939.5 465.3L941.5 469.2L943.0 471.4L944.5 472.8L946.5 473.9L948.5 474.5L950.5 474.7L953.0 474.6L955.5 474.2L975.5 468.5L986.5 464.6L991.5 462.6L998.5 458.1L1000.5 456.6L1002.5 454.7L1005.5 450.8L1007.0 448.1L1008.5 444.8L1012.0 435.6L1017.5 422.0L1022.5 408.2L1025.0 399.9L1032.5 373.5L1034.0 367.7L1035.5 360.7L1037.5 349.3L1042.5 315.9L1045.5 292.1L1048.0 265.0L1048.5 260.5L1049.5 254.3L1051.0 247.7L1052.5 242.8L1053.5 240.0L1058.0 229.7L1059.5 224.9L1063.5 206.6L1067.5 185.9L1069.0 179.7L1070.0 176.5L1072.0 171.9L1073.5 169.9L1074.5 169.3L1075.0 169.5L1075.5 170.3L1076.5 172.9L1077.0 174.7L1078.0 180.5L1079.5 194.0L1081.5 218.5L1082.5 235.1L1085.5 324.0L1086.5 348.6L1087.5 360.9L1089.5 372.5L1090.5 380.5L1092.5 416.9L1094.5 438.7L1098.0 467.3L1100.0 479.7L1102.0 487.0L1104.5 493.8L1106.5 497.6L1109.0 500.5L1111.0 502.1L1113.5 503.6L1116.0 504.7L1119.0 505.6L1124.0 506.9L1128.5 507.7L1132.5 508.1L1137.5 508.4L1160.0 509.1L1197.0 508.9L1232.5 508.3L1267.0 508.7L1290.5 509.1L1315.5 510.0L1359.0 512.6L1412.5 513.1L1471.5 513.3" stroke="#1ec88c"/>
<path d="M906.5 273.1L907.5 277.4L910.0 306.7L910.5 311.5L911.5 318.4L912.5 323.7L913.5 327.6L914.5 330.1L917.0 334.2L918.0 336.5L919.0 339.9L920.0 345.1L921.5 355.4L923.5 375.5L926.0 394.3L929.5 418.0L933.5 441.5L936.5 455.6L937.5 459.2L938.5 462.0L940.5 466.3L942.5 469.6L944.0 471.3L946.0 472.5L948.0 473.2L950.0 473.5L952.5 473.6L955.0 473.3L962.0 471.2L976.5 467.5L986.0 464.3L991.0 462.4L993.0 461.3L998.0 457.8L1002.0 454.5L1005.0 450.7L1006.5 448.1L1008.0 445.0L1012.5 433.2L1018.0 419.7L1022.5 407.4L1025.0 399.2L1029.0 384.9L1032.5 373.2L1034.0 367.5L1035.5 360.6L1037.5 349.2L1042.5 315.7L1045.5 291.9L1048.5 260.3L1050.0 251.5L1051.5 245.4L1053.0 240.6L1058.0 228.9L1059.5 224.1L1063.0 208.4L1067.5 184.9L1069.0 178.8L1070.0 175.7L1072.0 171.2L1073.5 169.4L1074.5 168.9L1075.0 169.1L1075.5 170.0L1076.5 172.7L1077.0 174.6L1078.0 180.6L1079.5 194.4L1081.5 218.1L1082.5 234.0L1085.5 324.3L1086.5 348.7L1087.5 360.9L1089.5 372.4L1090.5 380.4L1092.5 416.7L1094.5 438.3L1098.0 466.2L1099.5 475.8L1100.5 480.5L1102.5 487.3L1105.0 493.7L1107.0 497.3L1108.0 498.6L1109.5 500.1L1112.5 502.2L1116.0 504.0L1121.0 505.5L1126.5 506.8L1130.5 507.4L1134.5 507.8L1155.0 508.6L1165.5 508.7L1196.0 508.5L1233.5 507.7L1267.0 508.0L1291.0 508.5L1315.5 509.5L1338.0 511.0L1353.0 512.3L1359.0 512.6L1412.0 513.1L1471.5 513.3" stroke="#1ed21e"/>
<path d="M906.5 272.8L907.0 274.2L907.5 276.6L910.0 306.6L910.5 311.4L911.5 318.3L912.5 323.6L913.5 327.5L914.5 330.0L917.0 334.1L918.0 336.3L919.0 339.8L920.0 344.9L921.5 355.2L923.5 375.3L926.0 394.1L929.5 417.7L933.5 441.1L936.5 454.7L937.5 458.2L938.5 460.9L940.5 465.2L942.0 467.8L943.5 469.7L944.5 470.6L945.5 471.2L948.0 472.1L950.0 472.4L952.5 472.5L955.0 472.2L962.5 470.0L971.5 468.0L977.5 466.5L986.0 463.8L990.5 462.2L992.5 461.1L997.5 457.5L1000.0 455.6L1002.0 453.7L1005.0 449.7L1008.0 444.0L1012.5 432.1L1018.5 417.5L1022.5 406.6L1032.0 374.6L1034.0 367.3L1035.5 360.4L1037.5 349.0L1042.5 315.5L1045.5 291.7L1048.5 260.2L1050.0 251.1L1051.5 244.8L1053.0 239.9L1058.0 228.1L1059.5 223.3L1063.0 207.8L1065.5 195.2L1067.5 183.9L1069.0 177.9L1070.0 174.8L1072.0 170.6L1073.5 168.9L1074.5 168.5L1075.0 168.7L1075.5 169.6L1076.5 172.5L1077.0 174.5L1078.0 180.8L1079.0 189.5L1081.5 217.7L1082.5 232.9L1085.5 324.7L1086.5 348.8L1087.5 360.9L1089.5 372.3L1090.5 380.3L1092.0 409.2L1094.0 433.2L1095.5 446.4L1098.0 465.1L1099.5 474.5L1100.5 479.2L1102.5 486.0L1105.0 492.6L1107.0 496.3L1108.0 497.7L1109.5 499.2L1112.5 501.5L1116.0 503.2L1121.0 504.9L1126.5 506.2L1130.5 506.9L1134.5 507.2L1155.5 508.2L1167.0 508.3L1196.0 508.1L1234.0 507.1L1271.5 507.4L1292.5 507.9L1316.5 509.0L1338.0 510.7L1353.0 512.2L1359.0 512.5L1412.0 513.1L1471.5 513.3" stroke="#a0e03c"/>
<path d="M906.5 272.6L907.0 273.8L907.5 276.1L910.0 306.5L911.5 318.2L912.5 323.6L913.5 327.4L914.5 329.9L917.0 334.0L918.0 336.3L919.0 339.7L920.0 344.8L921.5 355.1L923.0 370.9L925.5 390.4L929.0 414.3L933.0 438.2L936.0 452.0L938.0 458.9L940.0 463.3L942.0 466.9L943.5 468.8L944.5 469.7L945.5 470.3L948.0 471.1L950.0 471.5L953.0 471.6L955.0 471.4L962.5 469.2L972.0 467.2L978.5 465.6L986.0 463.4L990.5 461.8L992.5 460.8L998.0 456.6L1000.0 455.0L1002.0 453.1L1005.0 449.0L1008.0 443.2L1012.5 431.2L1019.0 415.4L1022.5 405.9L1032.0 374.4L1034.0 367.1L1035.5 360.3L1037.5 348.9L1042.5 315.3L1045.5 291.5L1048.5 260.0L1050.0 250.9L1051.0 246.3L1052.5 240.9L1053.5 238.1L1058.0 227.5L1059.5 222.7L1063.0 207.3L1065.5 194.7L1067.5 183.2L1069.0 177.2L1070.0 174.1L1072.0 170.0L1073.5 168.5L1074.5 168.1L1075.0 168.4L1075.5 169.3L1076.5 172.4L1077.0 174.5L1078.0 180.9L1079.5 195.1L1082.0 223.9L1082.5 232.1L1085.5 324.9L1086.5 348.9L1087.5 360.9L1089.5 372.3L1090.5 380.2L1092.0 409.1L1094.0 432.9L1095.5 445.9L1097.5 460.7L1099.0 470.6L1100.5 478.2L1103.0 486.5L1105.5 492.8L1107.5 496.3L1108.5 497.6L1110.0 499.0L1113.0 501.2L1116.5 502.9L1122.0 504.7L1127.0 505.9L1130.5 506.5L1135.0 506.9L1156.0 508.0L1168.5 508.0L1196.0 507.7L1234.5 506.6L1274.5 507.0L1293.5 507.4L1317.0 508.7L1338.0 510.4L1353.0 512.1L1359.0 512.4L1411.5 513.0L1471.5 513.3" stroke="#e6dc3c"/>
<path d="M906.5 272.4L907.0 273.4L907.5 275.6L910.0 306.5L911.5 318.1L912.5 323.5L913.5 327.4L914.5 329.9L917.0 334.0L918.0 336.2L919.0 339.6L920.0 344.7L921.5 355.0L923.0 370.8L925.5 390.3L929.0 414.2L933.0 437.9L936.0 451.4L938.0 458.2L940.0 462.5L942.0 466.1L944.0 468.5L945.5 469.5L948.0 470.3L950.0 470.7L952.5 470.9L954.5 470.7L962.5 468.4L972.0 466.6L979.5 464.9L986.5 462.9L990.5 461.5L993.0 460.1L999.0 455.4L1001.5 453.1L1003.0 451.3L1005.0 448.3L1008.0 442.5L1012.5 430.4L1018.0 417.3L1022.5 405.4L1032.5 372.5L1034.0 366.9L1035.5 360.2L1037.5 348.8L1042.5 315.2L1045.5 291.4L1048.5 259.9L1050.0 250.6L1051.0 245.9L1052.5 240.4L1053.5 237.6L1057.5 228.2L1059.5 222.1L1063.0 206.8L1065.5 194.2L1067.5 182.5L1069.0 176.5L1070.5 172.4L1072.0 169.5L1073.5 168.2L1074.5 167.8L1075.0 168.1L1075.5 169.1L1076.5 172.2L1077.0 174.4L1078.0 181.0L1079.0 190.0L1082.0 223.3L1082.5 231.4L1085.5 325.2L1086.5 348.9L1087.5 360.9L1089.5 372.2L1090.5 380.1L1092.0 409.0L1094.0 432.7L1095.5 445.5L1097.5 460.0L1099.0 469.7L1100.5 477.2L1103.0 485.6L1105.5 492.0L1107.5 495.6L1108.5 497.0L1110.0 498.4L1113.0 500.6L1116.5 502.4L1122.0 504.2L1127.0 505.5L1130.5 506.1L1135.0 506.5L1156.5 507.7L1170.0 507.7L1196.0 507.4L1234.5 506.1L1277.0 506.5L1295.0 507.1L1317.5 508.3L1338.0 510.2L1353.0 512.0L1359.0 512.4L1411.5 513.0L1471.5 513.2" stroke="#e6a532"/>
<path d="M906.5 272.2L907.0 273.1L907.5 275.2L910.0 306.4L911.5 318.1L912.5 323.5L913.5 327.4L914.5 329.8L917.0 333.9L918.0 336.1L919.0 339.6L920.0 344.6L921.5 354.9L923.0 370.7L925.5 390.2L929.0 414.0L933.0 437.7L936.0 451.0L938.0 457.7L940.0 462.0L942.0 465.5L944.0 468.0L945.5 468.9L948.0 469.7L950.0 470.1L952.5 470.4L954.5 470.2L962.5 467.9L972.0 466.2L980.0 464.5L986.5 462.7L990.5 461.2L993.0 459.8L999.0 455.0L1001.5 452.7L1003.0 450.9L1004.5 448.7L1006.5 445.1L1008.0 442.0L1012.5 429.9L1018.0 416.8L1022.5 405.0L1032.5 372.3L1034.0 366.8L1035.5 360.1L1037.0 351.8L1042.5 315.1L1045.5 291.3L1048.5 259.9L1049.5 253.2L1050.5 247.9L1051.5 243.6L1053.0 238.6L1057.5 227.8L1059.5 221.7L1063.0 206.5L1065.5 193.8L1067.5 182.0L1069.0 176.1L1070.0 173.1L1071.5 170.0L1072.5 168.7L1073.5 168.0L1074.5 167.6L1075.0 167.9L1075.5 168.9L1076.5 172.1L1077.0 174.4L1078.0 181.1L1079.0 190.2L1082.0 222.9L1082.5 230.8L1085.5 325.4L1086.5 349.0L1087.5 360.9L1089.5 372.2L1090.5 380.1L1092.0 409.0L1093.0 422.2L1094.0 432.5L1095.5 445.2L1097.5 459.5L1099.0 469.0L1100.5 476.6L1103.0 485.0L1105.5 491.4L1107.5 495.2L1108.5 496.5L1110.0 498.0L1113.0 500.2L1116.5 502.0L1122.0 503.9L1127.0 505.2L1130.5 505.8L1135.0 506.3L1156.5 507.5L1170.0 507.6L1196.0 507.2L1235.0 505.8L1278.5 506.3L1295.5 506.8L1317.5 508.1L1338.0 510.1L1353.0 511.9L1359.0 512.3L1411.5 513.0L1471.5 513.2" stroke="#f08232"/>
<path d="M906.5 272.1L907.0 272.9L907.5 274.9L910.0 306.4L911.5 318.0L912.5 323.5L913.5 327.3L914.5 329.8L917.0 333.9L918.0 336.1L919.0 339.5L920.0 344.6L921.5 354.8L923.0 370.7L925.5 390.1L929.0 413.9L933.0 437.6L936.0 450.7L938.0 457.3L940.0 461.6L942.0 465.1L944.0 467.5L945.5 468.5L948.0 469.3L950.5 469.8L952.5 469.9L954.5 469.8L956.5 469.3L962.5 467.5L972.0 465.9L980.0 464.2L986.5 462.5L990.5 461.0L993.0 459.6L999.0 454.8L1001.5 452.4L1003.0 450.5L1004.5 448.3L1008.0 441.6L1012.5 429.4L1018.0 416.4L1023.0 403.2L1029.0 383.2L1032.5 372.2L1034.5 364.7L1036.0 357.4L1037.5 348.7L1042.5 315.0L1045.5 291.2L1048.5 259.8L1050.5 247.8L1051.5 243.4L1053.0 238.3L1058.0 226.2L1060.0 219.4L1064.0 201.4L1067.5 181.6L1069.0 175.7L1070.0 172.8L1071.5 169.7L1072.5 168.4L1073.5 167.8L1074.5 167.5L1075.0 167.8L1075.5 168.8L1076.5 172.1L1078.0 181.1L1082.0 222.6L1082.5 230.4L1085.0 310.7L1086.5 349.0L1087.5 360.9L1089.5 372.2L1090.5 380.0L1092.0 408.9L1093.0 422.1L1094.0 432.4L1095.5 445.0L1097.5 459.1L1099.0 468.5L1100.5 476.1L1103.0 484.5L1105.5 491.0L1107.5 494.8L1108.5 496.2L1110.0 497.7L1113.0 499.9L1116.5 501.7L1122.0 503.7L1127.0 505.0L1130.5 505.6L1135.0 506.0L1156.5 507.4L1170.0 507.4L1196.0 507.0L1235.0 505.6L1255.0 505.6L1280.0 506.0L1296.5 506.6L1318.0 507.9L1338.0 509.9L1353.0 511.9L1359.0 512.3L1411.0 513.0L1471.5 513.2" stroke="#f03c3c"/>
<path d="M906.5 272.0L907.0 272.7L907.5 274.6L910.0 306.4L911.5 318.0L912.5 323.4L913.5 327.3L914.5 329.8L917.0 333.9L918.0 336.0L919.0 339.5L920.0 344.5L921.5 354.7L923.0 370.6L925.5 390.1L929.0 413.8L933.0 437.4L936.0 450.3L938.0 456.9L940.0 461.1L942.0 464.6L943.5 466.6L945.0 467.8L947.5 468.7L950.0 469.2L952.5 469.5L954.5 469.4L956.5 468.9L962.5 467.0L972.5 465.5L980.5 463.8L986.5 462.3L990.0 461.1L992.0 460.1L993.0 459.4L999.0 454.5L1001.5 452.1L1003.0 450.2L1004.5 447.9L1008.0 441.2L1012.5 428.9L1018.0 416.1L1023.0 402.9L1029.0 383.0L1032.5 372.1L1034.5 364.6L1036.0 357.4L1037.5 348.6L1042.5 315.0L1045.5 291.1L1048.5 259.7L1050.5 247.6L1051.5 243.1L1053.0 238.0L1058.0 225.9L1060.0 219.1L1063.5 203.6L1065.5 193.2L1067.5 181.2L1069.0 175.3L1070.0 172.4L1071.5 169.4L1072.5 168.2L1073.5 167.6L1074.5 167.3L1075.0 167.6L1076.0 170.2L1077.0 174.3L1077.5 177.5L1078.5 185.5L1082.0 222.3L1082.5 230.0L1085.0 310.9L1086.5 349.1L1087.5 360.9L1089.5 372.2L1090.5 380.0L1092.0 408.9L1093.0 422.0L1094.0 432.2L1095.5 444.8L1097.5 458.7L1099.5 470.7L1101.0 477.5L1103.5 485.4L1106.0 491.6L1108.0 495.2L1109.0 496.4L1110.5 497.8L1113.5 499.9L1117.0 501.7L1122.5 503.6L1127.5 504.9L1131.0 505.4L1135.5 505.9L1157.0 507.2L1171.5 507.2L1196.5 506.8L1225.0 505.6L1235.0 505.3L1255.5 505.4L1281.0 505.8L1297.0 506.4L1318.0 507.7L1338.0 509.8L1353.0 511.8L1359.0 512.3L1411.0 513.0L1471.5 513.2" stroke="#e6148c"/>
</g>
<g clip-path="url(#cb)"><path d="M906.5 290.0L908.0 324.0L908.5 331.0L909.5 338.7L911.0 346.1L918.0 374.3L919.0 378.9L921.5 396.8L927.0 432.8L930.0 449.1L931.0 453.5L932.0 456.8L933.5 460.5L935.0 463.5L936.0 464.7L936.5 465.1L938.0 465.6L941.0 466.2L942.0 466.1L943.0 465.8L944.5 464.7L949.0 460.8L954.5 455.1L961.0 448.8L966.5 444.9L968.0 444.1L969.5 443.6L970.5 443.5L972.0 443.7L977.5 445.6L980.0 446.0L983.0 445.8L993.0 444.6L995.5 444.6L997.0 445.9L1000.5 451.4L1002.0 453.0L1002.5 453.2L1003.5 453.2L1004.5 452.7L1005.5 451.8L1008.0 448.8L1009.0 446.9L1010.5 443.2L1014.0 433.4L1019.5 414.8L1022.5 402.7L1029.5 368.0L1034.5 347.9L1037.0 333.6L1039.5 315.4L1046.0 249.6L1047.5 235.9L1048.5 228.9L1049.5 224.2L1052.0 214.7L1059.0 190.1L1061.5 179.3L1064.0 165.9L1069.0 130.8L1070.0 127.6L1071.0 125.6L1072.5 124.1L1073.5 123.5L1074.0 123.5L1075.0 124.6L1076.5 127.8L1078.0 135.0L1079.0 143.1L1082.5 181.3L1084.0 207.7L1087.5 306.3L1089.0 340.3L1090.0 354.6L1091.5 371.6L1094.0 397.2L1095.5 409.3L1097.0 419.4L1100.0 436.8L1101.5 444.0L1102.5 447.5L1104.0 451.2L1108.5 459.4L1111.5 466.2L1115.0 474.9L1119.0 486.6L1120.5 490.2L1124.5 498.5L1126.0 500.8L1127.0 502.0L1129.5 504.2L1131.5 505.6L1134.0 507.0L1136.0 507.7L1140.0 508.6L1144.0 509.2L1157.0 510.1L1229.0 509.7L1251.0 509.8L1272.5 510.2L1297.5 510.9L1327.0 511.9L1347.0 513.0L1404.5 513.4L1471.5 513.5" fill="none" stroke="#000" stroke-width="4.5" stroke-linejoin="round"/></g>
<rect x="906.0" y="60.8" width="566.0" height="456.7" fill="none" stroke="#000" stroke-width="2.2"/>
<path d="M906.0 517.5V526.5M1019.2 517.5V526.5M1019.2 60.8V69.4M1132.5 517.5V526.5M1132.5 60.8V69.4M1245.8 517.5V526.5M1245.8 60.8V69.4M1359.0 517.5V526.5M1359.0 60.8V69.4M1472.2 517.5V526.5M962.6 517.5V522.5M962.6 60.8V65.8M1075.9 517.5V522.5M1075.9 60.8V65.8M1189.1 517.5V522.5M1189.1 60.8V65.8M1302.4 517.5V522.5M1302.4 60.8V65.8M1415.6 517.5V522.5M1415.6 60.8V65.8M906.0 513.0H897.0M1472.0 513.0H1463.0M906.0 422.6H897.0M1472.0 422.6H1463.0M906.0 332.2H897.0M1472.0 332.2H1463.0M906.0 241.8H897.0M1472.0 241.8H1463.0M906.0 151.4H897.0M1472.0 151.4H1463.0M906.0 61.0H897.0M1472.0 61.0H1463.0M906.0 467.8H901.0M1472.0 467.8H1467.0M906.0 377.4H901.0M1472.0 377.4H1467.0M906.0 287.0H901.0M1472.0 287.0H1467.0M906.0 196.6H901.0M1472.0 196.6H1467.0M906.0 106.2H901.0M1472.0 106.2H1467.0" stroke="#000" stroke-width="2.2" fill="none"/>
<path d="M1472.3 59.7V518.6" stroke="#000" stroke-width="3"/>
<text x="906.0" y="556.0" font-size="31.0" text-anchor="middle" class="bb">300</text>
<text x="1019.2" y="556.0" font-size="31.0" text-anchor="middle" class="bb">400</text>
<text x="1132.5" y="556.0" font-size="31.0" text-anchor="middle" class="bb">500</text>
<text x="1245.8" y="556.0" font-size="31.0" text-anchor="middle" class="bb">600</text>
<text x="1359.0" y="556.0" font-size="31.0" text-anchor="middle" class="bb">700</text>
<text x="1472.2" y="556.0" font-size="31.0" text-anchor="middle" class="bb">800</text>
<text x="892.5" y="522.8" font-size="31.0" text-anchor="end" class="bb">0.0</text>
<text x="892.5" y="432.4" font-size="31.0" text-anchor="end" class="bb">0.1</text>
<text x="892.5" y="342.0" font-size="31.0" text-anchor="end" class="bb">0.2</text>
<text x="892.5" y="251.6" font-size="31.0" text-anchor="end" class="bb">0.3</text>
<text x="892.5" y="161.2" font-size="31.0" text-anchor="end" class="bb">0.4</text>
<text x="892.5" y="70.8" font-size="31.0" text-anchor="end" class="bb">0.5</text>
<text x="767.4" y="39.9" font-size="51.5" text-anchor="start" letter-spacing="0.8">(b)</text>
<text x="1201.3" y="40.3" font-size="51" text-anchor="middle"><tspan font-style="italic">Cra</tspan>CRY-HDF</text>
<text transform="translate(819.2 280) rotate(-90)" font-size="39" text-anchor="middle" class="bb">Absorbance</text>
<text x="1189.0" y="612.3" font-size="38.8" text-anchor="middle" class="bb">Wavelength (nm)</text>
<g fill="none" stroke-width="2.6" stroke-linejoin="round">
<path d="M1128.0 193.6 L1447.0 193.6" stroke="#9400c8"/>
<path d="M1127.5 193.3L1128.5 192.5L1129.5 194.0L1130.5 192.8L1131.5 193.5L1132.5 191.7L1133.5 192.9L1134.5 191.3L1135.5 191.1L1136.5 191.8L1137.5 190.6L1138.5 190.2L1139.5 191.2L1140.5 190.0L1142.5 191.4L1143.5 188.1L1144.5 187.7L1145.5 186.0L1146.5 185.8L1147.5 186.9L1148.5 186.3L1150.5 185.9L1151.5 184.6L1152.5 183.8L1153.5 186.3L1154.5 185.5L1155.5 186.4L1156.5 185.4L1157.5 186.1L1158.5 184.9L1159.5 185.3L1160.5 185.0L1161.5 185.2L1162.5 185.9L1163.5 184.9L1164.5 181.2L1165.5 183.1L1166.5 182.6L1167.5 182.7L1169.5 180.3L1170.5 179.6L1171.5 179.5L1172.5 178.9L1173.5 180.6L1174.5 179.8L1175.5 179.3L1176.5 180.2L1177.5 181.6L1178.5 179.9L1180.5 181.5L1181.5 181.7L1182.5 183.3L1183.5 184.2L1184.5 186.7L1186.5 189.5L1187.5 189.3L1188.5 192.1L1189.5 191.1L1190.5 192.2L1191.5 193.8L1192.5 193.7L1193.5 193.4L1194.5 194.1L1195.5 192.4L1196.5 190.2L1198.5 187.9L1199.5 187.9L1200.5 186.2L1201.5 185.7L1203.5 183.7L1204.5 187.1L1205.5 185.3L1206.5 182.4L1207.5 184.3L1208.5 183.3L1209.5 181.8L1210.5 183.5L1213.5 184.7L1214.5 183.0L1216.5 184.6L1219.5 185.0L1220.5 186.4L1221.5 184.5L1222.5 184.6L1223.5 187.7L1224.5 186.9L1225.5 187.8L1227.5 187.0L1228.5 187.1L1229.5 187.8L1230.5 187.4L1231.5 187.9L1232.5 188.0L1233.5 188.9L1234.5 188.9L1235.5 189.7L1236.5 187.7L1238.5 189.3L1239.5 188.9L1240.5 186.5L1241.5 189.1L1242.5 188.9L1243.5 190.2L1244.5 193.4L1245.5 193.3L1246.5 195.0L1248.5 194.3L1249.5 195.2L1250.5 195.1L1251.5 193.6L1252.5 193.4L1253.5 193.5L1254.5 195.1L1255.5 194.5L1256.5 195.7L1258.5 194.6L1259.5 193.7L1260.5 194.6L1261.5 196.9L1262.5 194.4L1263.5 194.3L1264.5 194.8L1265.5 196.2L1267.5 194.0L1269.5 194.7L1270.5 194.9L1271.5 195.7L1272.5 196.9L1273.5 195.9L1276.5 193.9L1277.5 195.1L1278.5 195.7L1279.5 195.3L1280.5 194.5L1281.5 195.1L1282.5 194.3L1284.5 194.3L1285.5 194.5L1286.5 194.3L1287.5 195.2L1288.5 194.3L1289.5 194.2L1290.5 195.1L1291.5 194.8L1292.5 195.1L1293.5 193.4L1294.5 195.2L1296.5 192.9L1297.5 193.7L1298.5 192.7L1299.5 192.8L1300.5 193.2L1301.5 194.3L1302.5 192.2L1303.5 193.5L1304.5 193.0L1305.5 194.5L1306.5 193.2L1307.5 193.4L1308.5 194.1L1309.5 191.8L1310.5 192.4L1311.5 191.3L1312.5 191.8L1313.5 192.8L1314.5 192.3L1315.5 192.7L1316.5 191.9L1317.5 191.6L1318.5 192.0L1319.5 191.3L1321.5 190.6L1322.5 191.8L1323.5 192.3L1324.5 190.8L1325.5 191.5L1326.5 189.8L1328.5 191.9L1329.5 190.8L1330.5 192.3L1331.5 191.6L1332.5 192.3L1334.5 190.8L1335.5 192.1L1336.5 192.8L1337.5 191.7L1338.5 192.5L1339.5 191.5L1340.5 191.8L1341.5 193.2L1343.5 191.3L1344.5 192.5L1346.5 191.6L1347.5 192.7L1348.5 189.6L1349.5 192.8L1350.5 194.0L1351.5 192.7L1352.5 190.9L1353.5 193.7L1354.5 194.7L1356.5 191.5L1359.5 192.4L1360.5 193.1L1361.5 192.5L1362.5 190.0L1363.5 191.6L1364.5 191.7L1365.5 193.4L1366.5 191.2L1367.5 190.4L1368.5 191.3L1369.5 191.8L1370.5 189.9L1371.5 192.4L1372.5 191.3L1373.5 192.1L1375.5 191.7L1376.5 192.5L1377.5 192.7L1378.5 190.9L1379.5 191.2L1380.5 192.3L1382.5 191.0L1383.5 191.7L1384.5 190.9L1385.5 191.3L1386.5 188.8L1387.5 192.0L1388.5 193.6L1389.5 192.8L1390.5 192.9L1391.5 192.6L1392.5 191.9L1393.5 193.1L1395.5 192.8L1396.5 193.3L1397.5 192.7L1398.5 193.4L1400.5 194.5L1401.5 193.9L1402.5 194.6L1403.5 194.2L1404.5 192.3L1405.5 192.8L1406.5 194.5L1407.5 194.0L1408.5 195.7L1409.5 194.3L1410.5 195.3L1412.5 195.4L1413.5 195.7L1414.5 196.4L1415.5 196.6L1416.5 196.2L1417.5 197.0L1418.5 197.4L1420.5 196.6L1423.5 197.0L1424.5 197.6L1425.5 200.0L1426.5 198.7L1427.5 197.8L1428.5 198.4L1429.5 198.4L1430.5 199.1L1431.5 199.3L1432.5 197.3L1433.5 200.1L1434.5 197.5L1435.5 198.4L1437.5 196.9L1438.5 196.9L1439.5 200.3L1440.5 199.9L1441.5 197.8L1442.5 197.7L1443.5 200.0L1444.5 197.9L1445.5 199.2" stroke="#6400d2"/>
<path d="M1127.5 195.8L1128.5 194.3L1129.5 194.5L1130.5 193.0L1131.5 190.9L1132.5 191.3L1133.5 190.0L1134.5 191.4L1135.5 189.6L1136.5 190.4L1137.5 189.4L1138.5 188.8L1139.5 189.4L1140.5 188.0L1141.5 187.1L1142.5 188.1L1144.5 184.1L1145.5 185.6L1146.5 182.5L1147.5 183.3L1148.5 183.1L1150.5 181.1L1151.5 181.3L1152.5 181.2L1153.5 180.6L1154.5 182.3L1155.5 181.1L1156.5 181.0L1157.5 182.9L1158.5 181.0L1159.5 180.2L1160.5 181.2L1162.5 180.6L1163.5 181.9L1164.5 178.9L1165.5 179.7L1166.5 178.4L1167.5 178.0L1168.5 175.9L1169.5 174.9L1170.5 174.1L1171.5 173.9L1172.5 174.0L1173.5 174.4L1174.5 171.2L1175.5 173.6L1176.5 173.2L1177.5 173.4L1178.5 173.1L1179.5 175.3L1180.5 174.8L1181.5 179.0L1182.5 178.6L1185.5 185.4L1186.5 185.4L1187.5 189.2L1188.5 190.5L1189.5 192.6L1190.5 192.1L1191.5 192.1L1192.5 190.6L1194.5 193.1L1195.5 190.2L1196.5 188.5L1197.5 187.4L1198.5 187.0L1199.5 183.5L1200.5 185.5L1201.5 183.4L1202.5 182.7L1203.5 181.4L1204.5 182.6L1205.5 180.0L1206.5 180.7L1207.5 179.7L1208.5 178.2L1210.5 179.8L1211.5 178.9L1212.5 178.9L1213.5 179.2L1214.5 178.5L1215.5 178.4L1216.5 179.6L1217.5 179.1L1218.5 181.0L1219.5 181.6L1220.5 182.7L1221.5 182.8L1222.5 182.1L1223.5 183.2L1224.5 182.3L1225.5 184.1L1226.5 183.7L1227.5 185.6L1228.5 184.1L1229.5 185.1L1230.5 184.5L1231.5 185.9L1232.5 186.1L1233.5 184.7L1234.5 187.5L1236.5 184.7L1237.5 185.2L1238.5 184.5L1239.5 184.4L1240.5 186.2L1241.5 184.6L1242.5 187.1L1243.5 187.0L1244.5 191.1L1245.5 193.2L1246.5 191.5L1247.5 191.9L1248.5 193.2L1249.5 191.9L1250.5 192.7L1251.5 191.6L1253.5 192.5L1254.5 192.5L1255.5 191.9L1256.5 192.9L1257.5 193.3L1258.5 193.4L1259.5 193.0L1260.5 192.2L1261.5 193.7L1262.5 193.9L1263.5 192.4L1264.5 191.2L1265.5 193.1L1266.5 194.2L1267.5 194.0L1268.5 192.0L1269.5 194.2L1270.5 192.1L1271.5 193.7L1272.5 192.5L1273.5 193.7L1275.5 192.5L1276.5 193.3L1277.5 192.1L1279.5 192.3L1280.5 191.8L1281.5 193.4L1282.5 193.3L1284.5 191.6L1285.5 192.8L1286.5 192.6L1287.5 192.8L1288.5 192.2L1289.5 191.9L1290.5 193.3L1291.5 191.4L1292.5 191.7L1293.5 190.2L1294.5 191.4L1296.5 191.3L1297.5 192.0L1298.5 190.8L1299.5 191.6L1300.5 190.8L1301.5 190.6L1302.5 189.2L1303.5 191.1L1304.5 191.1L1305.5 189.6L1306.5 189.8L1307.5 188.6L1308.5 189.7L1309.5 188.9L1310.5 190.1L1311.5 189.6L1312.5 190.2L1313.5 188.8L1314.5 187.9L1315.5 189.2L1316.5 188.7L1317.5 190.8L1318.5 189.3L1319.5 190.2L1321.5 188.5L1322.5 187.4L1323.5 188.5L1324.5 189.3L1325.5 188.8L1327.5 189.0L1328.5 187.6L1329.5 189.1L1330.5 188.1L1331.5 188.9L1332.5 190.2L1333.5 187.3L1334.5 188.8L1336.5 190.1L1338.5 188.4L1339.5 189.9L1340.5 189.7L1341.5 187.6L1342.5 189.2L1343.5 187.6L1344.5 186.7L1345.5 188.2L1346.5 188.2L1347.5 187.2L1348.5 190.9L1349.5 188.2L1350.5 189.9L1351.5 190.3L1352.5 191.7L1353.5 189.5L1354.5 191.2L1355.5 188.7L1356.5 189.6L1358.5 188.5L1360.5 190.9L1361.5 190.9L1363.5 187.8L1364.5 188.0L1365.5 189.2L1367.5 189.0L1369.5 187.5L1370.5 188.7L1371.5 188.2L1372.5 189.4L1373.5 187.4L1374.5 188.8L1376.5 189.7L1377.5 189.7L1378.5 187.0L1379.5 186.9L1380.5 188.2L1381.5 187.4L1382.5 186.1L1383.5 189.7L1384.5 188.9L1385.5 189.5L1386.5 188.9L1387.5 189.9L1388.5 189.3L1389.5 189.3L1390.5 191.1L1391.5 188.5L1392.5 190.2L1393.5 188.5L1394.5 191.5L1395.5 190.1L1396.5 189.4L1397.5 189.1L1398.5 190.7L1399.5 192.9L1400.5 191.8L1401.5 190.1L1402.5 189.9L1403.5 194.5L1404.5 191.8L1405.5 191.3L1406.5 193.0L1407.5 193.8L1408.5 195.1L1409.5 193.8L1410.5 193.7L1411.5 195.3L1412.5 194.2L1413.5 195.5L1414.5 195.6L1415.5 196.5L1416.5 195.2L1417.5 195.4L1418.5 196.4L1419.5 196.8L1420.5 195.2L1422.5 196.9L1423.5 196.6L1424.5 199.1L1425.5 197.8L1426.5 198.4L1427.5 197.3L1429.5 197.7L1430.5 198.6L1431.5 197.5L1432.5 199.3L1433.5 197.3L1434.5 198.9L1436.5 197.9L1437.5 199.7L1438.5 199.2L1439.5 198.3L1440.5 197.8L1441.5 199.3L1442.5 197.9L1443.5 199.2L1444.5 198.0L1445.5 199.0" stroke="#1e3cf0"/>
<path d="M1127.5 193.3L1128.5 193.3L1129.5 194.4L1130.5 193.9L1131.5 191.2L1132.5 190.8L1133.5 188.9L1134.5 190.0L1135.5 190.1L1136.5 187.7L1137.5 187.0L1138.5 187.4L1139.5 185.9L1140.5 185.8L1141.5 186.1L1142.5 184.1L1143.5 183.0L1144.5 182.7L1145.5 179.9L1146.5 179.0L1148.5 176.0L1149.5 177.5L1150.5 174.2L1151.5 175.2L1152.5 173.9L1153.5 174.2L1154.5 173.9L1155.5 174.9L1157.5 176.4L1158.5 173.5L1159.5 175.2L1161.5 173.5L1162.5 173.4L1163.5 172.9L1165.5 170.3L1166.5 170.9L1167.5 167.7L1168.5 166.7L1169.5 164.1L1170.5 164.8L1171.5 162.2L1172.5 161.9L1173.5 161.0L1174.5 161.3L1175.5 160.5L1176.5 160.4L1177.5 161.1L1179.5 164.9L1182.5 173.4L1183.5 173.8L1184.5 176.6L1185.5 180.7L1186.5 181.9L1187.5 186.6L1188.5 189.2L1189.5 189.1L1190.5 191.6L1191.5 192.8L1193.5 190.9L1194.5 190.3L1195.5 189.4L1196.5 185.8L1197.5 184.5L1200.5 177.7L1201.5 177.5L1202.5 175.0L1203.5 175.0L1204.5 172.3L1205.5 173.0L1207.5 172.3L1208.5 172.4L1209.5 171.8L1210.5 171.8L1212.5 170.5L1213.5 170.4L1214.5 170.9L1216.5 172.9L1217.5 172.9L1218.5 173.5L1219.5 174.8L1220.5 174.6L1221.5 175.8L1222.5 176.2L1223.5 177.2L1224.5 177.5L1225.5 177.2L1226.5 178.6L1227.5 178.7L1228.5 181.4L1229.5 181.5L1230.5 180.0L1231.5 180.1L1232.5 181.1L1233.5 180.0L1234.5 182.6L1235.5 181.6L1236.5 181.3L1237.5 182.8L1238.5 183.1L1239.5 182.3L1240.5 183.3L1241.5 181.1L1242.5 182.3L1243.5 183.9L1245.5 188.7L1246.5 190.3L1247.5 187.2L1248.5 188.0L1249.5 189.6L1250.5 188.5L1251.5 188.8L1252.5 188.2L1253.5 189.4L1254.5 188.3L1255.5 190.0L1257.5 189.9L1258.5 189.0L1260.5 190.4L1261.5 189.3L1262.5 189.3L1263.5 188.3L1264.5 189.9L1265.5 190.3L1266.5 191.2L1267.5 189.2L1268.5 188.8L1269.5 191.0L1270.5 190.8L1271.5 188.8L1272.5 189.3L1273.5 188.0L1275.5 190.7L1276.5 190.2L1277.5 188.5L1278.5 189.7L1279.5 188.7L1280.5 189.6L1281.5 188.8L1282.5 189.8L1283.5 190.3L1284.5 189.4L1286.5 189.3L1287.5 189.6L1288.5 188.4L1290.5 188.4L1291.5 189.6L1292.5 188.4L1293.5 188.7L1295.5 186.7L1297.5 188.1L1298.5 187.2L1299.5 186.8L1300.5 186.8L1301.5 187.4L1302.5 187.1L1303.5 186.5L1304.5 185.5L1305.5 185.5L1306.5 189.1L1307.5 185.5L1308.5 186.1L1309.5 185.6L1310.5 183.9L1311.5 186.2L1313.5 183.9L1314.5 185.3L1315.5 183.9L1316.5 184.6L1317.5 183.0L1319.5 184.5L1321.5 182.4L1322.5 182.9L1323.5 184.1L1324.5 182.1L1325.5 182.2L1326.5 184.1L1327.5 183.6L1329.5 183.2L1330.5 184.0L1331.5 184.5L1332.5 184.3L1333.5 182.4L1334.5 184.6L1335.5 182.6L1336.5 185.7L1337.5 183.8L1338.5 184.7L1339.5 184.5L1340.5 183.6L1341.5 185.2L1342.5 184.3L1343.5 185.9L1344.5 184.6L1345.5 184.3L1346.5 186.2L1348.5 184.3L1349.5 183.8L1350.5 186.5L1351.5 186.1L1352.5 186.2L1353.5 184.8L1355.5 184.2L1356.5 185.9L1357.5 184.6L1358.5 185.1L1359.5 182.4L1360.5 185.1L1362.5 181.3L1364.5 183.8L1365.5 184.6L1366.5 180.7L1368.5 183.0L1369.5 181.4L1370.5 182.3L1371.5 181.6L1372.5 182.5L1373.5 181.0L1374.5 181.9L1375.5 181.4L1376.5 182.3L1377.5 182.1L1378.5 183.1L1379.5 182.4L1380.5 183.9L1381.5 181.0L1383.5 183.5L1384.5 183.1L1385.5 180.8L1386.5 183.7L1387.5 183.2L1388.5 186.0L1389.5 184.0L1390.5 185.0L1391.5 183.8L1392.5 185.6L1393.5 182.7L1394.5 184.6L1395.5 185.5L1396.5 184.7L1397.5 187.3L1398.5 186.7L1399.5 188.5L1400.5 186.1L1401.5 186.9L1402.5 188.6L1403.5 188.0L1404.5 189.6L1405.5 189.9L1406.5 189.2L1407.5 190.5L1408.5 191.5L1411.5 192.1L1412.5 192.8L1414.5 195.6L1415.5 192.7L1416.5 193.4L1417.5 194.5L1418.5 196.2L1419.5 194.4L1420.5 197.5L1421.5 197.7L1422.5 193.7L1423.5 196.7L1424.5 196.8L1425.5 196.1L1426.5 194.9L1427.5 197.0L1428.5 196.6L1429.5 198.1L1430.5 197.7L1431.5 196.5L1432.5 199.3L1434.5 199.1L1435.5 198.0L1436.5 198.9L1438.5 197.8L1439.5 196.7L1440.5 198.8L1441.5 196.9L1442.5 199.4L1443.5 197.7L1444.5 199.2L1445.5 198.9" stroke="#1e96f0"/>
<path d="M1127.5 193.2L1128.5 192.6L1129.5 192.3L1130.5 193.5L1132.5 190.4L1133.5 190.6L1134.5 188.0L1135.5 186.9L1136.5 186.8L1137.5 187.7L1138.5 185.7L1139.5 185.2L1140.5 184.3L1141.5 182.8L1142.5 183.0L1143.5 181.0L1144.5 177.9L1145.5 176.1L1146.5 175.6L1147.5 173.6L1149.5 173.5L1150.5 172.2L1151.5 171.8L1152.5 171.0L1153.5 170.8L1154.5 170.7L1155.5 172.9L1156.5 171.1L1157.5 171.9L1159.5 172.0L1160.5 170.8L1161.5 169.0L1162.5 171.7L1163.5 167.9L1164.5 168.1L1165.5 165.0L1166.5 165.0L1167.5 161.8L1168.5 162.9L1169.5 160.3L1170.5 156.8L1171.5 158.5L1172.5 154.4L1174.5 156.5L1175.5 155.0L1176.5 156.8L1177.5 156.6L1178.5 157.2L1179.5 160.7L1180.5 162.1L1181.5 164.4L1182.5 168.5L1184.5 172.9L1185.5 176.9L1186.5 182.9L1187.5 186.2L1188.5 185.8L1189.5 190.0L1190.5 191.5L1191.5 190.8L1192.5 191.7L1193.5 189.7L1194.5 189.6L1195.5 189.0L1196.5 185.0L1198.5 179.9L1199.5 176.6L1200.5 174.8L1202.5 172.3L1203.5 170.5L1204.5 172.0L1205.5 167.7L1207.5 167.2L1208.5 167.9L1209.5 165.8L1210.5 167.4L1211.5 166.4L1212.5 166.5L1213.5 167.7L1215.5 168.5L1216.5 166.8L1217.5 169.5L1218.5 170.5L1219.5 170.8L1220.5 171.8L1222.5 172.9L1224.5 176.2L1225.5 175.2L1227.5 177.6L1228.5 176.0L1229.5 179.2L1230.5 178.4L1231.5 179.8L1232.5 178.5L1233.5 178.2L1235.5 179.6L1236.5 178.7L1237.5 180.5L1238.5 180.1L1239.5 179.1L1240.5 180.7L1241.5 180.4L1242.5 181.1L1243.5 182.4L1244.5 184.9L1245.5 184.9L1246.5 186.4L1247.5 186.5L1248.5 187.1L1249.5 186.1L1250.5 187.3L1251.5 187.8L1252.5 186.1L1253.5 187.5L1254.5 189.5L1255.5 187.1L1257.5 187.9L1258.5 187.6L1259.5 189.1L1260.5 188.3L1261.5 188.5L1262.5 188.0L1263.5 189.3L1264.5 188.8L1265.5 188.5L1266.5 188.6L1267.5 190.2L1268.5 188.5L1269.5 188.6L1270.5 189.5L1271.5 188.0L1272.5 189.0L1273.5 187.1L1274.5 188.5L1275.5 185.9L1276.5 188.0L1277.5 187.4L1278.5 187.1L1279.5 188.7L1280.5 188.3L1281.5 188.4L1282.5 188.9L1283.5 187.9L1284.5 187.9L1285.5 187.2L1286.5 188.9L1287.5 187.8L1288.5 186.2L1289.5 186.0L1291.5 185.9L1292.5 187.6L1293.5 186.5L1294.5 187.1L1295.5 185.3L1296.5 185.1L1297.5 186.8L1298.5 183.6L1299.5 184.2L1300.5 183.1L1301.5 184.2L1302.5 186.9L1303.5 183.6L1304.5 185.0L1305.5 185.3L1306.5 182.9L1307.5 182.6L1308.5 183.4L1309.5 183.5L1310.5 181.2L1311.5 181.7L1312.5 183.8L1313.5 181.4L1314.5 182.3L1315.5 182.7L1316.5 181.3L1317.5 181.3L1318.5 180.8L1320.5 180.4L1321.5 179.4L1322.5 180.3L1323.5 180.5L1324.5 181.3L1325.5 180.3L1326.5 180.0L1327.5 182.4L1328.5 180.7L1330.5 180.4L1331.5 181.0L1332.5 180.3L1333.5 180.8L1335.5 180.3L1336.5 181.1L1337.5 180.2L1338.5 183.1L1339.5 180.4L1340.5 183.1L1341.5 181.7L1343.5 182.7L1344.5 179.8L1345.5 182.8L1347.5 181.0L1348.5 180.9L1349.5 182.2L1350.5 180.7L1351.5 184.1L1352.5 182.4L1353.5 183.3L1355.5 182.1L1356.5 182.0L1357.5 181.3L1358.5 183.1L1359.5 181.7L1360.5 181.9L1362.5 181.6L1363.5 181.2L1364.5 181.8L1365.5 179.9L1366.5 179.4L1367.5 180.1L1368.5 179.7L1369.5 180.0L1370.5 180.8L1372.5 180.0L1373.5 178.7L1374.5 179.8L1375.5 179.4L1376.5 179.9L1377.5 179.2L1378.5 178.9L1379.5 179.4L1380.5 178.8L1381.5 178.8L1382.5 180.0L1383.5 180.0L1384.5 181.1L1385.5 180.6L1386.5 179.6L1387.5 182.1L1388.5 182.7L1389.5 180.5L1390.5 181.3L1391.5 183.0L1392.5 182.7L1393.5 181.5L1394.5 184.2L1395.5 183.6L1396.5 184.2L1397.5 185.3L1398.5 184.0L1399.5 184.3L1400.5 185.9L1401.5 186.6L1402.5 186.2L1403.5 187.6L1404.5 187.5L1405.5 188.6L1406.5 187.5L1407.5 188.7L1408.5 190.5L1409.5 189.5L1410.5 190.2L1411.5 191.6L1412.5 191.7L1414.5 191.3L1415.5 194.4L1416.5 193.6L1417.5 195.2L1418.5 193.4L1419.5 194.6L1420.5 194.7L1421.5 195.2L1422.5 193.9L1423.5 196.7L1424.5 195.6L1425.5 196.2L1426.5 195.3L1427.5 197.8L1428.5 195.2L1429.5 198.5L1430.5 196.6L1431.5 196.8L1432.5 196.7L1433.5 198.7L1434.5 196.8L1436.5 197.0L1437.5 198.5L1438.5 198.7L1439.5 197.7L1441.5 200.0L1442.5 199.4L1443.5 199.2L1444.5 198.1L1445.5 200.5" stroke="#1ebec3"/>
<path d="M1127.5 194.9L1128.5 192.2L1129.5 192.0L1130.5 189.3L1131.5 191.3L1132.5 188.9L1133.5 188.8L1134.5 189.4L1135.5 186.0L1136.5 187.1L1138.5 183.5L1139.5 184.6L1141.5 180.5L1142.5 180.0L1144.5 175.1L1145.5 173.6L1146.5 173.1L1147.5 169.4L1148.5 168.6L1149.5 169.7L1150.5 166.8L1151.5 167.3L1152.5 167.0L1153.5 166.2L1155.5 167.4L1156.5 167.5L1157.5 168.2L1158.5 167.9L1159.5 168.2L1161.5 165.7L1162.5 165.8L1164.5 163.4L1165.5 160.7L1167.5 156.9L1168.5 154.0L1169.5 153.9L1170.5 151.0L1171.5 149.4L1172.5 148.7L1173.5 150.5L1174.5 147.6L1175.5 149.5L1176.5 146.6L1178.5 152.7L1179.5 153.3L1180.5 156.5L1182.5 161.0L1183.5 167.0L1186.5 180.0L1187.5 182.2L1188.5 186.5L1189.5 186.5L1190.5 189.4L1192.5 191.8L1193.5 191.7L1194.5 190.6L1197.5 180.2L1199.5 175.1L1200.5 173.5L1202.5 167.0L1203.5 166.1L1204.5 168.6L1206.5 163.4L1207.5 162.8L1208.5 163.1L1209.5 162.5L1210.5 162.5L1211.5 160.5L1212.5 161.1L1213.5 162.5L1214.5 163.1L1215.5 162.9L1216.5 164.5L1217.5 164.0L1219.5 166.2L1220.5 168.2L1221.5 167.7L1222.5 171.0L1223.5 169.2L1224.5 171.8L1225.5 172.7L1226.5 174.3L1227.5 172.6L1228.5 173.4L1230.5 175.9L1231.5 176.4L1232.5 173.6L1233.5 176.0L1234.5 176.7L1236.5 177.2L1237.5 176.9L1238.5 177.3L1239.5 175.8L1240.5 178.5L1241.5 175.9L1242.5 178.5L1243.5 179.5L1244.5 183.4L1245.5 182.7L1246.5 184.7L1247.5 184.4L1249.5 185.5L1250.5 185.7L1251.5 184.7L1252.5 185.7L1253.5 185.6L1254.5 186.0L1255.5 185.6L1256.5 183.4L1257.5 185.6L1258.5 186.0L1260.5 185.8L1261.5 186.7L1262.5 186.1L1263.5 187.5L1264.5 188.1L1265.5 187.0L1266.5 187.7L1267.5 185.7L1268.5 185.7L1269.5 186.1L1270.5 185.4L1271.5 186.2L1272.5 186.1L1273.5 187.4L1274.5 185.4L1275.5 187.0L1276.5 184.9L1278.5 186.4L1279.5 185.9L1280.5 183.4L1281.5 185.4L1282.5 185.8L1283.5 183.9L1284.5 184.8L1285.5 184.8L1287.5 185.9L1288.5 183.5L1289.5 183.7L1290.5 185.8L1291.5 185.3L1292.5 185.6L1293.5 183.9L1294.5 184.7L1295.5 181.4L1296.5 183.8L1297.5 182.3L1298.5 181.7L1299.5 181.8L1300.5 183.4L1301.5 183.5L1302.5 181.5L1303.5 181.3L1304.5 182.3L1305.5 180.4L1306.5 180.9L1308.5 181.2L1309.5 179.6L1310.5 177.2L1311.5 179.3L1312.5 179.9L1313.5 178.6L1315.5 177.8L1316.5 178.8L1319.5 177.9L1320.5 178.8L1321.5 177.9L1322.5 177.4L1323.5 176.4L1325.5 177.3L1326.5 178.6L1328.5 177.1L1329.5 178.2L1330.5 178.2L1331.5 177.3L1332.5 178.3L1333.5 177.0L1334.5 178.2L1335.5 180.0L1336.5 179.1L1337.5 178.9L1338.5 179.1L1339.5 178.9L1340.5 177.2L1341.5 177.8L1342.5 177.6L1343.5 178.5L1344.5 178.9L1345.5 179.9L1346.5 177.9L1347.5 177.2L1348.5 178.7L1349.5 178.7L1350.5 179.3L1351.5 179.4L1352.5 180.0L1353.5 179.1L1355.5 180.3L1356.5 179.4L1357.5 179.5L1358.5 178.2L1359.5 179.3L1360.5 178.1L1361.5 177.4L1362.5 177.5L1363.5 177.1L1364.5 177.0L1365.5 176.5L1366.5 178.4L1367.5 177.5L1368.5 176.9L1369.5 176.7L1370.5 176.1L1371.5 176.7L1372.5 175.7L1373.5 175.7L1374.5 174.9L1375.5 176.6L1378.5 176.5L1379.5 173.5L1380.5 175.8L1381.5 176.8L1382.5 176.6L1383.5 175.0L1384.5 176.9L1385.5 177.5L1386.5 176.7L1387.5 176.5L1388.5 177.3L1389.5 175.6L1390.5 178.8L1391.5 178.2L1392.5 179.1L1394.5 180.1L1395.5 182.0L1396.5 180.3L1397.5 181.2L1398.5 180.0L1399.5 181.7L1400.5 181.0L1401.5 183.9L1403.5 183.7L1404.5 185.6L1405.5 184.6L1406.5 186.1L1407.5 186.3L1408.5 187.0L1409.5 188.4L1410.5 188.8L1411.5 189.9L1412.5 189.6L1413.5 189.8L1414.5 192.8L1416.5 192.2L1417.5 193.1L1418.5 192.4L1419.5 194.0L1420.5 192.7L1421.5 194.8L1422.5 195.0L1423.5 194.9L1424.5 195.9L1425.5 195.4L1426.5 197.2L1427.5 196.5L1428.5 194.8L1429.5 195.5L1430.5 198.0L1431.5 196.3L1432.5 197.3L1433.5 196.7L1434.5 198.7L1436.5 198.4L1437.5 197.6L1438.5 197.8L1439.5 199.5L1441.5 196.7L1442.5 200.2L1443.5 199.8L1444.5 197.9L1445.5 199.5" stroke="#1ec88c"/>
<path d="M1127.5 195.0L1128.5 193.7L1129.5 193.9L1130.5 192.5L1131.5 189.6L1132.5 189.1L1133.5 189.0L1134.5 187.9L1135.5 185.7L1136.5 185.9L1137.5 183.0L1138.5 183.3L1139.5 179.8L1140.5 180.4L1141.5 180.4L1142.5 178.0L1144.5 169.5L1145.5 170.1L1146.5 168.7L1147.5 166.1L1148.5 165.1L1149.5 162.5L1150.5 162.3L1151.5 160.9L1152.5 160.7L1153.5 161.4L1154.5 163.2L1156.5 161.5L1157.5 162.1L1158.5 161.4L1160.5 161.4L1161.5 159.0L1162.5 159.6L1163.5 157.4L1164.5 157.1L1165.5 153.1L1166.5 151.7L1167.5 148.5L1168.5 147.7L1169.5 143.5L1170.5 142.3L1172.5 138.3L1173.5 138.8L1174.5 138.6L1175.5 138.0L1176.5 138.0L1178.5 141.3L1179.5 145.6L1180.5 148.7L1182.5 157.1L1183.5 162.5L1184.5 165.8L1187.5 179.6L1188.5 185.0L1189.5 187.7L1190.5 189.4L1192.5 191.0L1193.5 188.2L1194.5 188.8L1195.5 185.6L1196.5 180.8L1197.5 177.3L1199.5 171.8L1200.5 167.9L1201.5 166.0L1202.5 163.5L1203.5 162.6L1204.5 161.1L1207.5 155.7L1208.5 157.2L1209.5 155.0L1210.5 156.4L1211.5 155.8L1212.5 157.3L1213.5 155.8L1214.5 155.8L1215.5 154.4L1216.5 157.3L1217.5 157.7L1218.5 158.5L1219.5 160.1L1220.5 162.9L1221.5 163.3L1222.5 164.9L1223.5 165.1L1225.5 168.4L1226.5 168.4L1227.5 170.6L1228.5 170.0L1229.5 172.5L1230.5 170.9L1231.5 171.5L1232.5 172.5L1233.5 172.4L1235.5 173.2L1236.5 174.5L1237.5 173.3L1238.5 175.0L1239.5 175.0L1240.5 174.7L1241.5 174.8L1242.5 177.3L1243.5 175.1L1244.5 179.6L1246.5 181.4L1247.5 181.3L1248.5 182.3L1249.5 182.2L1250.5 182.9L1251.5 181.6L1253.5 183.9L1254.5 182.1L1255.5 183.0L1256.5 181.9L1257.5 183.7L1258.5 182.9L1259.5 184.4L1260.5 183.0L1261.5 184.3L1262.5 183.5L1263.5 184.5L1264.5 185.0L1265.5 186.7L1266.5 185.1L1267.5 184.9L1268.5 185.8L1269.5 184.9L1270.5 182.9L1271.5 184.1L1272.5 183.7L1273.5 184.2L1274.5 183.8L1275.5 181.7L1276.5 182.7L1277.5 184.7L1278.5 183.8L1279.5 182.2L1281.5 182.5L1282.5 181.5L1283.5 179.6L1284.5 182.9L1285.5 181.3L1286.5 181.5L1287.5 181.2L1288.5 181.4L1289.5 181.2L1290.5 182.8L1291.5 180.9L1292.5 181.5L1293.5 180.8L1294.5 181.8L1295.5 180.5L1296.5 178.4L1297.5 181.6L1298.5 181.2L1299.5 180.0L1300.5 177.6L1301.5 179.9L1303.5 177.3L1304.5 177.1L1305.5 178.3L1306.5 176.3L1307.5 176.4L1308.5 175.5L1309.5 176.4L1310.5 174.8L1311.5 175.9L1312.5 174.9L1313.5 176.8L1314.5 174.2L1315.5 174.5L1316.5 175.0L1317.5 174.7L1318.5 172.3L1319.5 173.6L1321.5 173.8L1322.5 172.8L1323.5 174.2L1324.5 174.1L1325.5 172.5L1326.5 171.8L1327.5 172.8L1329.5 174.1L1330.5 172.2L1331.5 172.8L1332.5 171.8L1333.5 172.8L1334.5 174.8L1335.5 175.9L1336.5 174.7L1337.5 174.0L1338.5 173.9L1339.5 175.9L1342.5 173.5L1343.5 173.2L1344.5 173.9L1345.5 175.5L1346.5 173.6L1347.5 173.7L1348.5 174.5L1349.5 174.5L1350.5 176.0L1351.5 174.5L1352.5 175.7L1353.5 175.1L1354.5 176.4L1356.5 174.5L1358.5 174.6L1359.5 175.6L1360.5 174.4L1361.5 173.9L1362.5 172.4L1363.5 171.6L1364.5 171.3L1366.5 172.6L1367.5 172.1L1368.5 172.8L1369.5 170.6L1370.5 171.2L1371.5 171.0L1372.5 170.1L1373.5 168.9L1375.5 171.5L1376.5 169.0L1377.5 171.3L1378.5 171.4L1379.5 170.6L1380.5 171.1L1381.5 171.0L1382.5 171.4L1383.5 173.0L1385.5 173.3L1386.5 172.9L1387.5 172.9L1388.5 173.7L1389.5 172.7L1390.5 173.6L1391.5 174.9L1392.5 173.7L1393.5 175.9L1396.5 177.2L1397.5 177.2L1398.5 180.2L1399.5 177.1L1400.5 178.7L1401.5 178.4L1402.5 180.9L1404.5 183.5L1405.5 182.1L1406.5 184.2L1407.5 183.7L1409.5 187.0L1410.5 186.0L1411.5 188.0L1412.5 188.4L1413.5 189.9L1414.5 190.9L1415.5 189.3L1416.5 191.1L1417.5 190.4L1418.5 190.1L1419.5 191.6L1420.5 192.4L1421.5 192.3L1422.5 192.8L1423.5 195.3L1424.5 194.6L1425.5 195.8L1426.5 196.4L1427.5 195.5L1428.5 198.0L1429.5 196.3L1430.5 196.3L1431.5 195.7L1433.5 197.2L1434.5 197.2L1436.5 197.8L1437.5 196.5L1439.5 197.8L1440.5 197.9L1441.5 197.4L1442.5 198.7L1443.5 198.2L1444.5 200.0L1445.5 198.6" stroke="#1ed21e"/>
<path d="M1127.5 194.8L1128.5 191.6L1129.5 192.0L1130.5 191.8L1131.5 189.6L1132.5 188.9L1134.5 185.4L1135.5 184.8L1137.5 182.1L1138.5 179.8L1139.5 178.4L1140.5 174.8L1141.5 175.6L1142.5 172.3L1143.5 170.0L1144.5 168.6L1145.5 165.3L1146.5 162.9L1147.5 159.9L1148.5 159.6L1149.5 157.8L1151.5 155.7L1152.5 157.0L1153.5 154.5L1154.5 155.9L1155.5 156.1L1156.5 156.8L1157.5 156.6L1158.5 155.7L1159.5 155.8L1160.5 156.2L1161.5 154.8L1162.5 152.2L1163.5 151.2L1164.5 148.7L1165.5 147.3L1166.5 143.0L1167.5 141.8L1168.5 139.7L1169.5 135.4L1170.5 134.9L1171.5 130.4L1172.5 129.0L1173.5 129.2L1174.5 127.6L1175.5 127.9L1176.5 127.2L1178.5 132.0L1179.5 133.9L1180.5 140.1L1182.5 148.9L1184.5 160.9L1185.5 165.3L1187.5 177.4L1189.5 186.4L1190.5 187.0L1191.5 186.7L1192.5 189.7L1193.5 188.7L1194.5 188.8L1196.5 179.7L1197.5 173.6L1198.5 169.5L1201.5 159.8L1203.5 156.4L1204.5 152.5L1205.5 151.6L1206.5 152.2L1207.5 150.7L1208.5 147.6L1209.5 147.6L1210.5 150.1L1211.5 147.5L1212.5 149.6L1213.5 146.8L1214.5 148.6L1215.5 148.0L1217.5 151.9L1218.5 152.8L1219.5 155.0L1221.5 158.5L1222.5 158.7L1223.5 158.1L1224.5 159.8L1225.5 163.4L1226.5 164.3L1227.5 165.8L1228.5 165.3L1229.5 166.0L1230.5 165.4L1232.5 168.0L1233.5 167.9L1234.5 167.3L1235.5 170.4L1236.5 169.4L1237.5 169.9L1239.5 170.2L1240.5 169.7L1241.5 171.9L1242.5 171.4L1243.5 172.8L1244.5 177.3L1245.5 177.0L1246.5 177.8L1247.5 175.9L1248.5 179.5L1249.5 177.5L1250.5 177.4L1251.5 178.3L1252.5 178.0L1253.5 178.3L1255.5 180.9L1256.5 179.7L1259.5 181.0L1260.5 179.9L1261.5 182.8L1262.5 180.2L1263.5 181.1L1264.5 183.7L1265.5 181.8L1266.5 180.9L1267.5 181.7L1268.5 183.4L1269.5 181.0L1270.5 179.8L1271.5 180.8L1272.5 180.8L1273.5 179.6L1274.5 180.5L1275.5 178.2L1276.5 180.5L1278.5 180.0L1279.5 179.3L1280.5 181.0L1281.5 180.3L1282.5 180.8L1283.5 178.9L1284.5 180.0L1285.5 180.7L1286.5 180.2L1287.5 177.9L1288.5 178.5L1289.5 177.7L1291.5 177.9L1292.5 179.3L1293.5 178.8L1294.5 177.0L1295.5 177.7L1296.5 176.1L1298.5 174.3L1299.5 174.9L1300.5 177.1L1301.5 175.1L1303.5 175.0L1304.5 171.8L1305.5 172.9L1306.5 172.8L1307.5 173.5L1308.5 172.3L1309.5 170.0L1310.5 169.7L1311.5 171.2L1312.5 170.8L1313.5 169.1L1314.5 168.8L1315.5 169.8L1316.5 168.2L1317.5 169.5L1318.5 168.6L1319.5 168.4L1320.5 170.2L1321.5 167.4L1322.5 167.0L1323.5 167.4L1324.5 165.6L1325.5 168.4L1326.5 168.3L1327.5 167.9L1329.5 168.0L1330.5 166.8L1331.5 168.2L1332.5 168.5L1333.5 169.5L1334.5 169.2L1335.5 170.0L1336.5 169.7L1337.5 167.4L1339.5 169.7L1340.5 168.7L1341.5 169.0L1342.5 169.8L1343.5 168.0L1345.5 170.3L1346.5 168.9L1347.5 168.4L1348.5 169.4L1349.5 169.5L1350.5 169.2L1351.5 171.4L1352.5 171.1L1353.5 169.4L1354.5 172.1L1355.5 169.9L1356.5 170.6L1357.5 170.6L1358.5 169.7L1360.5 166.9L1361.5 168.1L1362.5 168.5L1363.5 166.8L1364.5 167.2L1365.5 168.5L1366.5 166.2L1367.5 170.5L1368.5 166.9L1369.5 165.3L1370.5 166.5L1371.5 165.7L1372.5 166.9L1373.5 164.3L1374.5 166.0L1375.5 164.2L1377.5 166.5L1378.5 165.3L1379.5 166.5L1380.5 165.2L1381.5 166.6L1382.5 165.5L1384.5 166.9L1385.5 165.9L1387.5 167.5L1388.5 170.1L1390.5 168.6L1391.5 169.1L1392.5 170.7L1393.5 170.4L1394.5 172.2L1395.5 171.6L1396.5 172.3L1397.5 174.6L1398.5 172.7L1399.5 177.1L1400.5 175.0L1401.5 175.0L1402.5 177.6L1404.5 179.9L1405.5 180.2L1406.5 180.1L1409.5 185.0L1410.5 186.1L1412.5 187.9L1413.5 185.8L1415.5 190.3L1416.5 189.4L1417.5 190.4L1418.5 190.3L1419.5 191.4L1420.5 191.4L1421.5 190.7L1422.5 193.3L1423.5 193.8L1425.5 192.3L1426.5 194.2L1427.5 193.7L1428.5 196.0L1430.5 194.2L1431.5 195.3L1432.5 197.9L1433.5 196.3L1434.5 196.0L1435.5 196.8L1436.5 196.2L1437.5 198.3L1438.5 196.5L1439.5 198.6L1440.5 199.3L1441.5 199.4L1442.5 198.7L1443.5 198.6L1445.5 199.7" stroke="#a0e03c"/>
<path d="M1127.5 195.3L1128.5 193.4L1129.5 192.2L1131.5 188.3L1132.5 188.5L1133.5 186.3L1134.5 185.1L1135.5 184.5L1136.5 180.8L1138.5 177.9L1139.5 177.3L1140.5 173.3L1142.5 170.8L1143.5 165.5L1144.5 164.4L1145.5 162.0L1147.5 154.5L1148.5 153.2L1149.5 151.1L1150.5 150.6L1151.5 150.6L1152.5 150.3L1153.5 147.4L1155.5 150.1L1156.5 149.6L1157.5 147.8L1158.5 150.2L1159.5 150.1L1161.5 147.3L1162.5 146.8L1163.5 142.8L1164.5 141.3L1165.5 138.8L1166.5 138.3L1167.5 131.3L1168.5 129.9L1169.5 127.7L1170.5 123.7L1171.5 121.1L1172.5 119.8L1173.5 116.3L1174.5 117.8L1175.5 116.7L1176.5 119.0L1177.5 119.9L1178.5 122.1L1180.5 129.5L1181.5 136.9L1182.5 140.3L1185.5 162.4L1187.5 173.8L1188.5 181.5L1189.5 186.5L1190.5 186.2L1191.5 189.8L1192.5 188.0L1193.5 187.5L1194.5 186.0L1195.5 181.5L1196.5 178.1L1199.5 161.0L1200.5 158.6L1201.5 153.4L1202.5 152.5L1203.5 147.4L1204.5 147.7L1205.5 143.7L1206.5 142.2L1207.5 142.4L1209.5 141.8L1210.5 140.4L1211.5 140.3L1212.5 141.8L1213.5 140.0L1214.5 140.2L1215.5 142.0L1216.5 142.7L1217.5 143.7L1218.5 146.6L1219.5 145.9L1221.5 152.9L1222.5 152.1L1223.5 153.0L1224.5 156.9L1225.5 157.9L1226.5 159.9L1227.5 160.6L1228.5 160.5L1229.5 161.7L1230.5 161.6L1231.5 165.8L1232.5 163.1L1233.5 164.1L1234.5 164.1L1236.5 166.8L1237.5 165.3L1238.5 166.5L1239.5 167.2L1240.5 169.0L1241.5 167.3L1242.5 168.7L1243.5 171.8L1244.5 171.2L1245.5 173.4L1246.5 174.0L1247.5 173.3L1248.5 174.5L1249.5 175.2L1250.5 176.3L1251.5 176.4L1252.5 175.3L1253.5 175.1L1254.5 177.2L1255.5 175.2L1256.5 176.4L1258.5 176.1L1259.5 178.1L1260.5 176.9L1261.5 177.9L1262.5 179.9L1263.5 180.4L1264.5 177.8L1265.5 178.3L1266.5 178.3L1267.5 177.6L1268.5 179.6L1270.5 178.3L1271.5 176.8L1272.5 178.2L1273.5 177.6L1274.5 177.3L1276.5 178.3L1277.5 176.9L1279.5 175.8L1280.5 177.9L1281.5 177.0L1282.5 174.2L1283.5 176.4L1284.5 176.8L1285.5 174.4L1286.5 174.3L1287.5 176.4L1289.5 173.6L1290.5 174.8L1291.5 174.8L1292.5 173.3L1293.5 173.2L1294.5 173.6L1295.5 173.3L1296.5 174.6L1297.5 173.9L1298.5 172.8L1299.5 171.3L1300.5 170.9L1301.5 168.9L1302.5 170.4L1304.5 168.9L1305.5 169.6L1306.5 169.6L1307.5 166.3L1308.5 167.9L1309.5 167.5L1310.5 166.2L1311.5 165.7L1312.5 167.6L1313.5 166.4L1314.5 167.3L1315.5 164.3L1316.5 163.7L1317.5 164.1L1318.5 164.8L1320.5 165.2L1321.5 162.6L1322.5 161.7L1323.5 163.8L1325.5 163.2L1326.5 164.0L1327.5 162.0L1328.5 161.4L1329.5 164.9L1330.5 163.5L1331.5 163.2L1333.5 165.9L1334.5 164.2L1335.5 165.8L1336.5 164.4L1337.5 166.2L1338.5 164.6L1339.5 165.5L1340.5 164.3L1341.5 164.8L1343.5 163.7L1345.5 164.6L1346.5 163.9L1347.5 163.7L1349.5 166.5L1350.5 165.7L1351.5 165.3L1352.5 165.7L1353.5 166.6L1354.5 168.0L1355.5 165.3L1356.5 167.0L1357.5 165.4L1358.5 164.6L1359.5 164.2L1360.5 165.3L1361.5 163.3L1362.5 164.6L1363.5 164.8L1364.5 161.7L1366.5 160.3L1367.5 162.1L1368.5 160.5L1369.5 160.5L1370.5 160.1L1371.5 161.8L1372.5 160.9L1373.5 160.6L1374.5 158.3L1376.5 159.6L1377.5 159.5L1378.5 159.9L1379.5 161.3L1380.5 160.7L1381.5 161.1L1382.5 160.7L1384.5 161.2L1385.5 162.0L1386.5 161.0L1388.5 163.6L1389.5 163.8L1390.5 164.8L1391.5 163.9L1392.5 165.7L1393.5 167.0L1394.5 168.7L1395.5 168.5L1397.5 169.2L1398.5 170.5L1399.5 170.7L1400.5 172.6L1401.5 172.2L1402.5 174.1L1403.5 173.8L1404.5 174.1L1405.5 175.2L1406.5 178.6L1407.5 178.6L1408.5 180.0L1409.5 184.1L1410.5 182.0L1411.5 184.1L1412.5 184.0L1414.5 187.4L1415.5 187.4L1416.5 190.1L1417.5 188.2L1418.5 189.1L1419.5 189.0L1420.5 190.9L1421.5 190.8L1422.5 191.9L1423.5 191.7L1424.5 193.4L1425.5 192.8L1426.5 193.9L1427.5 194.0L1428.5 193.8L1429.5 194.9L1430.5 195.2L1431.5 196.0L1432.5 194.1L1433.5 197.5L1434.5 196.6L1436.5 197.6L1437.5 196.2L1438.5 198.4L1439.5 198.3L1440.5 197.9L1441.5 199.3L1442.5 198.6L1443.5 198.2L1444.5 200.2L1445.5 200.4" stroke="#e6dc3c"/>
<path d="M1127.5 195.3L1128.5 193.2L1129.5 193.1L1130.5 189.4L1131.5 188.4L1133.5 184.4L1134.5 183.2L1135.5 180.1L1136.5 179.6L1137.5 177.6L1140.5 169.9L1141.5 168.8L1142.5 167.2L1143.5 161.4L1145.5 153.7L1147.5 148.5L1149.5 144.2L1150.5 141.5L1151.5 142.4L1152.5 140.8L1153.5 141.5L1154.5 141.4L1155.5 141.5L1156.5 142.5L1157.5 142.0L1158.5 143.8L1159.5 142.6L1160.5 141.0L1161.5 138.4L1162.5 137.8L1164.5 132.4L1166.5 123.3L1167.5 119.6L1169.5 114.2L1171.5 106.1L1172.5 104.5L1173.5 104.3L1174.5 102.6L1175.5 102.3L1176.5 103.5L1177.5 106.2L1178.5 107.4L1179.5 112.5L1181.5 124.9L1184.5 146.9L1185.5 157.7L1186.5 163.3L1187.5 172.4L1188.5 179.2L1189.5 181.7L1191.5 187.8L1192.5 188.2L1193.5 187.1L1195.5 179.8L1198.5 162.1L1199.5 155.1L1202.5 142.9L1203.5 141.7L1205.5 137.3L1206.5 133.1L1207.5 131.4L1208.5 130.0L1209.5 130.6L1210.5 130.9L1211.5 129.7L1212.5 131.3L1213.5 131.4L1214.5 131.3L1215.5 132.1L1216.5 131.7L1217.5 133.3L1218.5 137.7L1219.5 138.4L1220.5 141.8L1222.5 142.7L1223.5 147.2L1224.5 147.6L1225.5 149.7L1226.5 153.0L1227.5 152.2L1229.5 156.9L1230.5 158.6L1231.5 156.7L1232.5 158.4L1233.5 158.3L1234.5 160.4L1235.5 159.3L1236.5 161.3L1237.5 159.4L1238.5 161.6L1239.5 162.7L1240.5 162.5L1241.5 162.6L1242.5 163.3L1243.5 164.3L1244.5 168.5L1245.5 169.4L1246.5 169.5L1247.5 168.5L1249.5 170.3L1250.5 172.3L1251.5 172.8L1252.5 172.3L1253.5 170.4L1254.5 170.2L1255.5 172.4L1256.5 173.2L1257.5 174.6L1258.5 172.7L1259.5 174.9L1260.5 174.0L1261.5 175.2L1262.5 174.4L1264.5 174.8L1265.5 175.2L1266.5 174.5L1267.5 174.3L1268.5 174.8L1269.5 173.0L1270.5 173.5L1271.5 173.1L1272.5 173.3L1273.5 174.4L1274.5 172.5L1275.5 174.6L1276.5 171.3L1277.5 172.0L1278.5 173.4L1279.5 170.4L1280.5 172.3L1281.5 172.7L1282.5 170.9L1283.5 173.3L1284.5 173.5L1285.5 171.6L1286.5 171.4L1287.5 171.8L1288.5 171.7L1289.5 170.1L1290.5 169.9L1291.5 171.8L1292.5 169.8L1294.5 168.1L1295.5 165.9L1296.5 168.1L1297.5 167.9L1299.5 166.7L1300.5 167.1L1301.5 166.1L1304.5 163.7L1305.5 163.5L1306.5 162.2L1307.5 163.3L1308.5 162.0L1309.5 161.2L1310.5 162.6L1311.5 161.1L1312.5 158.9L1313.5 158.8L1314.5 159.0L1315.5 158.2L1316.5 159.5L1317.5 158.6L1319.5 158.1L1320.5 157.7L1321.5 154.9L1323.5 155.2L1324.5 156.5L1325.5 156.2L1326.5 157.7L1327.5 157.2L1328.5 157.4L1329.5 155.8L1330.5 156.6L1331.5 157.8L1332.5 156.1L1333.5 156.8L1334.5 159.2L1335.5 159.7L1336.5 156.3L1337.5 157.9L1339.5 156.2L1341.5 158.3L1342.5 158.3L1343.5 157.9L1344.5 158.7L1345.5 156.7L1346.5 157.2L1347.5 159.1L1348.5 158.9L1349.5 158.2L1350.5 158.4L1351.5 160.2L1352.5 160.7L1353.5 160.8L1354.5 160.3L1355.5 160.3L1356.5 159.2L1357.5 159.3L1359.5 157.2L1360.5 157.9L1361.5 156.5L1362.5 155.9L1363.5 156.7L1364.5 156.0L1365.5 157.1L1366.5 156.6L1367.5 154.4L1368.5 154.1L1370.5 152.4L1371.5 154.8L1373.5 152.3L1374.5 154.2L1375.5 153.1L1376.5 153.0L1377.5 151.9L1378.5 150.2L1379.5 153.1L1380.5 152.2L1381.5 151.9L1382.5 154.2L1383.5 154.7L1384.5 153.9L1386.5 156.2L1388.5 156.5L1389.5 159.1L1390.5 158.3L1391.5 160.4L1392.5 160.1L1393.5 160.8L1394.5 163.0L1395.5 162.1L1396.5 163.9L1397.5 164.8L1398.5 166.2L1400.5 165.5L1402.5 167.2L1404.5 171.0L1406.5 173.5L1407.5 175.4L1408.5 176.4L1409.5 178.6L1410.5 180.2L1411.5 183.5L1412.5 182.5L1414.5 184.4L1415.5 184.9L1416.5 187.2L1417.5 186.1L1418.5 189.9L1419.5 187.3L1421.5 191.1L1422.5 191.3L1423.5 192.1L1424.5 190.5L1425.5 193.2L1426.5 193.4L1427.5 194.8L1428.5 193.8L1429.5 194.3L1430.5 193.1L1431.5 195.5L1432.5 194.4L1434.5 197.8L1435.5 195.7L1436.5 197.1L1437.5 196.8L1438.5 197.1L1439.5 196.2L1440.5 197.9L1442.5 200.1L1443.5 200.7L1444.5 199.4L1445.5 200.7" stroke="#e6a532"/>
<path d="M1127.5 195.0L1128.5 192.5L1129.5 191.1L1130.5 190.5L1131.5 188.5L1132.5 184.3L1133.5 184.4L1134.5 181.7L1135.5 180.7L1136.5 178.3L1137.5 175.1L1138.5 172.9L1139.5 171.9L1140.5 169.6L1141.5 167.2L1142.5 162.7L1143.5 161.2L1144.5 153.6L1145.5 152.9L1146.5 147.9L1147.5 144.6L1148.5 144.5L1149.5 140.9L1151.5 137.6L1152.5 138.1L1153.5 138.2L1154.5 139.2L1155.5 139.2L1156.5 138.3L1157.5 137.9L1158.5 138.1L1160.5 136.2L1161.5 134.5L1162.5 133.6L1163.5 131.1L1164.5 127.0L1165.5 124.0L1166.5 117.6L1167.5 115.5L1168.5 109.9L1169.5 107.8L1170.5 104.8L1172.5 97.7L1173.5 97.6L1175.5 96.1L1177.5 99.1L1178.5 102.0L1179.5 106.6L1180.5 114.2L1182.5 126.5L1183.5 136.7L1185.5 151.6L1186.5 161.4L1188.5 176.8L1190.5 185.9L1191.5 187.7L1192.5 188.1L1193.5 185.4L1194.5 186.3L1196.5 170.9L1198.5 157.8L1201.5 143.9L1202.5 141.1L1204.5 134.4L1205.5 132.3L1206.5 129.1L1207.5 129.8L1208.5 127.5L1209.5 127.1L1210.5 126.2L1212.5 126.0L1214.5 126.8L1215.5 128.3L1216.5 127.9L1217.5 130.8L1219.5 135.4L1220.5 138.2L1221.5 137.4L1222.5 141.8L1223.5 143.2L1224.5 146.9L1226.5 149.1L1228.5 152.4L1229.5 155.0L1230.5 154.0L1231.5 155.5L1232.5 155.5L1233.5 156.8L1234.5 157.4L1236.5 157.8L1237.5 159.7L1239.5 159.7L1240.5 159.3L1241.5 161.0L1242.5 161.9L1243.5 164.4L1244.5 166.1L1245.5 166.1L1247.5 169.5L1248.5 168.8L1249.5 167.7L1250.5 168.7L1251.5 170.3L1252.5 170.8L1253.5 168.7L1254.5 171.3L1255.5 172.3L1256.5 172.5L1257.5 170.4L1259.5 173.7L1260.5 173.6L1261.5 172.9L1262.5 172.7L1263.5 173.8L1264.5 174.5L1265.5 173.2L1267.5 174.8L1268.5 174.4L1269.5 172.9L1270.5 173.7L1271.5 172.1L1272.5 171.5L1273.5 171.3L1274.5 170.7L1275.5 171.1L1276.5 171.1L1277.5 173.2L1278.5 172.1L1279.5 173.1L1280.5 170.0L1281.5 171.4L1283.5 169.1L1284.5 170.7L1285.5 169.3L1287.5 171.7L1288.5 169.2L1289.5 168.7L1291.5 166.8L1292.5 167.6L1293.5 166.7L1294.5 167.2L1295.5 166.3L1296.5 166.5L1297.5 166.3L1298.5 166.5L1299.5 163.9L1300.5 163.6L1301.5 165.0L1302.5 163.9L1303.5 161.8L1304.5 164.1L1305.5 158.6L1306.5 160.1L1307.5 159.6L1308.5 159.8L1309.5 157.6L1310.5 158.3L1311.5 158.1L1312.5 158.5L1313.5 155.3L1314.5 155.9L1315.5 155.5L1316.5 156.5L1317.5 157.0L1318.5 156.4L1319.5 153.8L1320.5 154.3L1321.5 153.6L1322.5 153.5L1323.5 152.7L1324.5 153.4L1325.5 153.1L1326.5 153.7L1327.5 153.1L1328.5 155.7L1329.5 152.1L1330.5 153.3L1331.5 153.6L1333.5 155.5L1334.5 154.8L1335.5 157.8L1336.5 155.6L1337.5 156.7L1338.5 155.3L1339.5 154.7L1340.5 157.5L1341.5 154.4L1342.5 153.7L1344.5 155.0L1345.5 156.1L1346.5 154.6L1347.5 154.8L1349.5 157.0L1350.5 156.3L1351.5 157.9L1352.5 157.5L1353.5 158.5L1354.5 158.4L1356.5 159.0L1357.5 156.4L1358.5 155.5L1359.5 155.9L1361.5 154.6L1362.5 154.8L1363.5 153.6L1364.5 153.8L1365.5 152.7L1366.5 152.2L1367.5 151.2L1368.5 152.2L1369.5 151.2L1370.5 151.9L1371.5 151.1L1372.5 149.7L1373.5 150.1L1374.5 149.6L1375.5 149.4L1376.5 148.2L1377.5 149.5L1378.5 149.5L1379.5 148.5L1380.5 150.2L1381.5 150.7L1382.5 149.8L1383.5 150.4L1384.5 152.2L1385.5 153.2L1386.5 153.3L1387.5 152.1L1388.5 153.4L1389.5 155.6L1390.5 155.1L1391.5 157.8L1392.5 158.7L1393.5 157.9L1394.5 159.7L1395.5 161.0L1396.5 161.7L1397.5 161.7L1399.5 163.9L1400.5 166.3L1401.5 166.5L1402.5 168.0L1403.5 168.3L1405.5 171.6L1406.5 172.2L1407.5 173.4L1408.5 176.1L1409.5 177.0L1411.5 179.8L1412.5 180.5L1413.5 183.0L1414.5 183.0L1416.5 185.5L1417.5 185.5L1418.5 187.9L1419.5 189.0L1420.5 188.0L1421.5 189.3L1425.5 192.4L1426.5 192.0L1427.5 193.7L1428.5 191.8L1429.5 193.0L1430.5 195.2L1431.5 194.4L1434.5 197.5L1435.5 195.4L1436.5 196.1L1438.5 196.9L1439.5 198.2L1440.5 196.6L1441.5 199.0L1442.5 199.0L1443.5 200.6L1444.5 198.3L1445.5 200.5" stroke="#f08232"/>
<path d="M1127.5 195.0L1128.5 192.7L1129.5 192.0L1130.5 190.0L1131.5 185.9L1132.5 185.6L1133.5 182.5L1135.5 177.9L1136.5 176.1L1137.5 173.4L1138.5 171.7L1139.5 167.0L1140.5 167.3L1143.5 155.9L1144.5 150.7L1147.5 139.1L1148.5 133.6L1149.5 135.3L1150.5 132.2L1151.5 131.4L1152.5 129.6L1153.5 130.2L1154.5 130.4L1155.5 131.3L1156.5 131.7L1159.5 131.3L1160.5 130.2L1161.5 128.0L1162.5 125.1L1163.5 123.5L1164.5 118.5L1166.5 111.2L1167.5 104.1L1168.5 100.3L1169.5 95.0L1170.5 94.2L1171.5 88.8L1172.5 86.7L1175.5 83.2L1177.5 86.6L1178.5 91.4L1180.5 105.4L1181.5 110.4L1184.5 136.5L1188.5 176.3L1190.5 184.8L1191.5 186.1L1192.5 186.6L1193.5 185.9L1194.5 183.8L1195.5 178.4L1197.5 161.7L1200.5 142.5L1202.5 133.0L1203.5 131.0L1204.5 126.1L1207.5 119.9L1208.5 116.6L1209.5 118.9L1210.5 119.2L1211.5 116.5L1212.5 116.9L1213.5 119.5L1214.5 117.3L1215.5 119.0L1216.5 119.9L1217.5 121.6L1218.5 124.9L1219.5 126.5L1220.5 128.7L1225.5 142.9L1227.5 145.3L1228.5 147.2L1229.5 147.0L1230.5 148.5L1231.5 149.5L1232.5 149.6L1233.5 152.3L1234.5 151.3L1235.5 151.5L1236.5 152.3L1237.5 154.9L1238.5 155.2L1239.5 154.9L1240.5 155.9L1241.5 154.5L1242.5 156.7L1243.5 159.5L1245.5 161.1L1246.5 162.4L1247.5 164.3L1248.5 165.4L1249.5 163.7L1250.5 166.2L1251.5 164.3L1252.5 165.8L1254.5 166.2L1255.5 168.4L1257.5 167.9L1258.5 169.3L1259.5 168.2L1261.5 171.0L1262.5 170.4L1263.5 172.1L1264.5 169.6L1265.5 169.6L1266.5 170.4L1267.5 170.0L1268.5 169.2L1269.5 170.4L1271.5 167.7L1272.5 167.8L1273.5 168.6L1274.5 166.9L1275.5 168.2L1276.5 166.8L1277.5 167.5L1278.5 167.6L1279.5 166.0L1280.5 166.7L1281.5 166.6L1283.5 167.1L1284.5 166.2L1285.5 164.8L1286.5 165.3L1287.5 164.6L1288.5 164.9L1289.5 165.6L1290.5 165.1L1291.5 165.0L1292.5 162.9L1293.5 161.7L1295.5 162.3L1297.5 160.4L1299.5 161.4L1300.5 159.4L1301.5 159.4L1302.5 160.1L1303.5 157.1L1304.5 157.6L1305.5 154.8L1307.5 154.6L1308.5 155.0L1310.5 152.5L1312.5 153.3L1313.5 152.8L1314.5 150.2L1315.5 151.0L1316.5 149.5L1317.5 150.1L1318.5 150.0L1319.5 147.6L1320.5 150.1L1321.5 146.2L1322.5 147.8L1323.5 145.9L1324.5 146.8L1325.5 148.6L1326.5 148.4L1327.5 149.0L1328.5 147.2L1329.5 146.9L1330.5 147.1L1331.5 150.9L1333.5 148.0L1334.5 149.2L1335.5 149.3L1336.5 150.4L1338.5 148.1L1340.5 150.0L1343.5 148.1L1344.5 150.2L1345.5 149.6L1346.5 148.3L1347.5 148.8L1348.5 151.6L1349.5 150.5L1350.5 152.7L1351.5 152.1L1352.5 152.6L1353.5 152.4L1354.5 153.2L1355.5 152.7L1356.5 151.1L1357.5 152.9L1358.5 150.4L1359.5 149.6L1360.5 150.5L1361.5 148.1L1363.5 147.7L1364.5 147.8L1365.5 145.1L1366.5 145.3L1367.5 143.6L1368.5 145.8L1369.5 145.1L1370.5 145.0L1371.5 144.4L1372.5 143.2L1373.5 143.9L1374.5 142.2L1375.5 142.1L1376.5 142.5L1377.5 143.7L1378.5 141.7L1379.5 145.7L1380.5 142.8L1381.5 142.5L1382.5 144.6L1383.5 144.3L1384.5 146.3L1385.5 147.1L1386.5 146.1L1387.5 148.1L1388.5 148.0L1389.5 149.6L1390.5 149.9L1392.5 152.6L1393.5 154.6L1394.5 153.9L1396.5 157.7L1397.5 156.6L1398.5 159.3L1399.5 159.1L1400.5 160.7L1401.5 162.0L1402.5 162.5L1403.5 165.3L1404.5 166.6L1405.5 167.2L1406.5 168.8L1409.5 175.0L1410.5 175.1L1411.5 178.6L1412.5 179.9L1413.5 180.4L1414.5 181.2L1415.5 181.4L1416.5 184.3L1417.5 184.4L1418.5 185.5L1419.5 189.1L1420.5 186.3L1421.5 186.7L1422.5 189.8L1423.5 188.3L1424.5 190.0L1425.5 191.1L1426.5 190.8L1427.5 193.3L1428.5 192.8L1429.5 193.4L1430.5 193.1L1431.5 193.3L1432.5 194.4L1433.5 196.8L1434.5 195.5L1435.5 196.5L1436.5 196.9L1437.5 196.1L1438.5 198.0L1440.5 196.6L1441.5 196.9L1442.5 199.5L1443.5 201.0L1444.5 200.3L1445.5 201.0" stroke="#f03c3c"/>
<path d="M1127.5 194.4L1128.5 190.6L1129.5 192.5L1130.5 189.6L1131.5 184.9L1132.5 184.2L1134.5 179.1L1135.5 175.9L1136.5 174.9L1137.5 172.7L1138.5 168.3L1139.5 167.2L1140.5 162.6L1141.5 161.3L1142.5 156.5L1143.5 152.8L1145.5 140.4L1146.5 136.3L1147.5 133.7L1149.5 129.7L1150.5 125.4L1151.5 124.9L1152.5 126.6L1153.5 124.6L1155.5 123.4L1156.5 125.7L1157.5 126.3L1158.5 124.8L1159.5 125.5L1160.5 124.2L1161.5 122.5L1162.5 119.7L1164.5 111.5L1165.5 108.2L1166.5 101.0L1167.5 98.7L1170.5 81.6L1171.5 78.3L1172.5 75.1L1173.5 74.3L1174.5 74.8L1175.5 76.0L1176.5 73.9L1177.5 77.0L1178.5 83.3L1179.5 87.4L1181.5 103.0L1186.5 154.6L1188.5 173.1L1189.5 180.4L1190.5 183.3L1191.5 184.0L1192.5 185.2L1193.5 182.9L1194.5 181.8L1195.5 175.7L1197.5 157.1L1198.5 152.0L1200.5 138.8L1201.5 131.0L1202.5 126.9L1203.5 123.3L1204.5 121.2L1205.5 117.2L1206.5 115.7L1207.5 112.2L1208.5 112.1L1209.5 111.1L1211.5 110.9L1212.5 111.1L1213.5 112.3L1216.5 113.3L1217.5 115.0L1220.5 124.2L1222.5 128.2L1223.5 130.9L1224.5 135.1L1225.5 136.2L1226.5 139.0L1227.5 140.5L1228.5 142.7L1229.5 143.6L1230.5 146.1L1231.5 146.3L1232.5 146.0L1233.5 147.8L1234.5 147.4L1235.5 148.6L1236.5 150.2L1237.5 148.7L1238.5 150.9L1239.5 151.0L1240.5 152.7L1241.5 152.7L1242.5 155.0L1243.5 156.1L1244.5 158.8L1245.5 159.2L1246.5 159.1L1247.5 160.6L1248.5 161.0L1249.5 163.0L1250.5 161.2L1251.5 161.0L1252.5 163.8L1253.5 162.6L1254.5 162.0L1255.5 163.2L1257.5 164.7L1258.5 167.5L1259.5 165.9L1260.5 167.1L1261.5 167.5L1263.5 166.2L1264.5 169.6L1265.5 167.6L1266.5 167.3L1267.5 168.1L1268.5 166.2L1269.5 165.9L1270.5 166.9L1271.5 165.3L1272.5 165.7L1273.5 165.0L1274.5 166.5L1275.5 163.6L1276.5 162.3L1277.5 164.7L1278.5 164.2L1279.5 166.9L1280.5 164.2L1281.5 164.1L1282.5 164.5L1283.5 163.8L1284.5 163.8L1285.5 162.1L1286.5 162.4L1287.5 163.6L1288.5 160.9L1290.5 161.5L1291.5 161.4L1292.5 160.4L1293.5 160.5L1294.5 160.2L1296.5 157.9L1297.5 158.4L1298.5 156.9L1299.5 156.3L1300.5 157.2L1301.5 155.8L1302.5 153.6L1303.5 152.3L1305.5 152.4L1306.5 152.0L1307.5 150.7L1308.5 151.8L1309.5 149.2L1310.5 147.8L1312.5 148.5L1313.5 147.5L1314.5 146.9L1315.5 147.2L1316.5 146.4L1317.5 146.3L1318.5 144.1L1319.5 144.4L1321.5 143.4L1322.5 144.6L1323.5 143.2L1324.5 143.0L1325.5 141.5L1327.5 143.1L1328.5 143.0L1329.5 142.2L1330.5 144.0L1331.5 143.7L1332.5 145.0L1333.5 145.0L1334.5 145.6L1335.5 144.2L1336.5 144.6L1338.5 147.9L1339.5 145.9L1340.5 145.7L1341.5 144.7L1342.5 146.8L1343.5 145.1L1344.5 144.7L1345.5 145.0L1346.5 144.3L1347.5 145.6L1348.5 145.8L1349.5 146.4L1350.5 146.2L1352.5 148.3L1353.5 146.7L1354.5 147.8L1355.5 148.2L1356.5 147.7L1357.5 149.0L1358.5 144.7L1359.5 145.5L1360.5 144.6L1361.5 144.5L1363.5 142.2L1364.5 142.4L1365.5 141.5L1366.5 143.3L1367.5 140.6L1368.5 140.9L1369.5 140.8L1371.5 139.0L1373.5 138.3L1374.5 137.4L1375.5 138.0L1376.5 139.2L1377.5 139.0L1378.5 137.1L1379.5 138.8L1380.5 138.5L1382.5 139.4L1383.5 141.0L1384.5 140.2L1385.5 140.9L1386.5 143.4L1387.5 141.6L1389.5 145.4L1391.5 146.8L1392.5 149.8L1393.5 150.4L1394.5 150.7L1395.5 152.4L1396.5 152.5L1397.5 153.3L1398.5 155.8L1399.5 157.1L1400.5 156.0L1401.5 159.7L1402.5 161.4L1403.5 161.8L1404.5 161.6L1405.5 165.0L1406.5 165.7L1407.5 169.4L1408.5 170.4L1409.5 172.4L1410.5 173.7L1411.5 176.2L1412.5 178.0L1413.5 178.0L1414.5 179.9L1415.5 180.8L1416.5 183.7L1418.5 184.4L1419.5 186.8L1420.5 186.9L1422.5 188.1L1423.5 190.2L1424.5 190.0L1425.5 189.1L1426.5 190.7L1427.5 191.6L1428.5 190.3L1429.5 193.8L1430.5 194.6L1431.5 193.1L1432.5 195.4L1433.5 195.4L1434.5 195.7L1435.5 195.2L1436.5 198.1L1437.5 197.2L1438.5 196.7L1439.5 198.5L1440.5 198.4L1441.5 197.9L1442.5 199.8L1443.5 199.9L1444.5 198.2L1445.5 200.3" stroke="#e6148c"/>
</g>
<path d="M1126.2 205.5H1446.3M1127.2 205.5V211M1233.2 205.5V211M1339.3 205.5V211M1445.3 205.5V211M1180.2 205.5V208.5M1286.2 205.5V208.5M1392.3 205.5V208.5" stroke="#000" stroke-width="2.6" fill="none"/>
<text x="1127.2" y="237.2" font-size="29.0" text-anchor="middle" class="bb">400</text>
<text x="1233.2" y="237.2" font-size="29.0" text-anchor="middle" class="bb">500</text>
<text x="1339.3" y="237.2" font-size="29.0" text-anchor="middle" class="bb">600</text>
<text x="1445.3" y="237.2" font-size="29.0" text-anchor="middle" class="bb">700</text>
<text transform="translate(1113.3 147.5) rotate(-90)" font-size="29" text-anchor="middle" class="bb">ΔA</text>
<path d="M1146.8 307.4H1198.9" stroke="#000" stroke-width="4" stroke-linecap="round"/>
<text x="1204.5" y="315.4" font-size="23.6" text-anchor="start" class="bb">oxidized</text>
<path d="M1317 307.4H1368.5" stroke="#1ed21e" stroke-width="4" stroke-linecap="round"/>
<text x="1376.0" y="315.4" font-size="23.6" text-anchor="start" class="bb">60</text>
<path d="M1146.8 336.1H1198.9" stroke="#9400c8" stroke-width="4" stroke-linecap="round"/>
<text x="1204.5" y="344.1" font-size="23.6" text-anchor="start" class="bb">0</text>
<path d="M1317 336.1H1368.5" stroke="#a0e03c" stroke-width="4" stroke-linecap="round"/>
<text x="1376.0" y="344.1" font-size="23.6" text-anchor="start" class="bb">70</text>
<path d="M1146.8 364.8H1198.9" stroke="#6400d2" stroke-width="4" stroke-linecap="round"/>
<text x="1204.5" y="372.8" font-size="23.6" text-anchor="start" class="bb">10</text>
<path d="M1317 364.8H1368.5" stroke="#e6dc3c" stroke-width="4" stroke-linecap="round"/>
<text x="1376.0" y="372.8" font-size="23.6" text-anchor="start" class="bb">80</text>
<path d="M1146.8 393.5H1198.9" stroke="#1e3cf0" stroke-width="4" stroke-linecap="round"/>
<text x="1204.5" y="401.5" font-size="23.6" text-anchor="start" class="bb">20</text>
<path d="M1317 393.5H1368.5" stroke="#e6a532" stroke-width="4" stroke-linecap="round"/>
<text x="1376.0" y="401.5" font-size="23.6" text-anchor="start" class="bb">90</text>
<path d="M1146.8 422.2H1198.9" stroke="#1e96f0" stroke-width="4" stroke-linecap="round"/>
<text x="1204.5" y="430.2" font-size="23.6" text-anchor="start" class="bb">30</text>
<path d="M1317 422.2H1368.5" stroke="#f08232" stroke-width="4" stroke-linecap="round"/>
<text x="1376.0" y="430.2" font-size="23.6" text-anchor="start" class="bb">100</text>
<path d="M1146.8 450.9H1198.9" stroke="#1ebec3" stroke-width="4" stroke-linecap="round"/>
<text x="1204.5" y="458.9" font-size="23.6" text-anchor="start" class="bb">40</text>
<path d="M1317 450.9H1368.5" stroke="#f03c3c" stroke-width="4" stroke-linecap="round"/>
<text x="1376.0" y="458.9" font-size="23.6" text-anchor="start" class="bb">110</text>
<path d="M1146.8 479.6H1198.9" stroke="#1ec88c" stroke-width="4" stroke-linecap="round"/>
<text x="1204.5" y="487.6" font-size="23.6" text-anchor="start" class="bb">50</text>
<path d="M1317 479.6H1368.5" stroke="#e6148c" stroke-width="4" stroke-linecap="round"/>
<text x="1376.0" y="487.6" font-size="23.6" text-anchor="start" class="bb">120 min</text>
</svg></body></html>
